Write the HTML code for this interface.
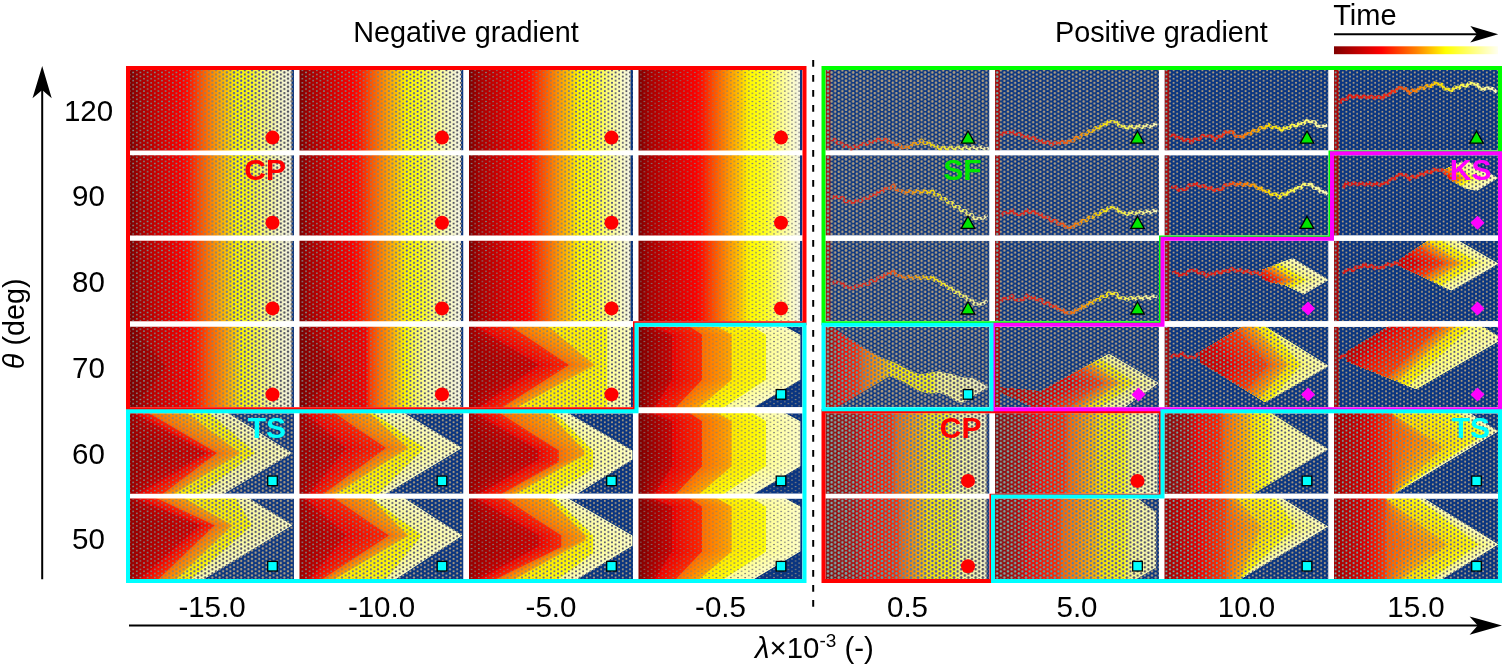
<!DOCTYPE html>
<html><head><meta charset="utf-8"><title>Negative and positive gradient</title>
<style>html,body{margin:0;padding:0;background:#fff;overflow:hidden}svg{display:block}</style>
</head><body>
<svg width="1505" height="667" viewBox="0 0 1505 667"><defs><clipPath id="cr1"><rect x="130.00" y="70.00" width="164.00" height="80.40"/></clipPath><linearGradient id="lg2" gradientUnits="userSpaceOnUse" x1="130.00" y1="0.00" x2="291.50" y2="0.00"><stop offset="0.0000" stop-color="#7d0000"/><stop offset="0.0619" stop-color="#a50000"/><stop offset="0.1981" stop-color="#d20000"/><stop offset="0.3220" stop-color="#fa0000"/><stop offset="0.3591" stop-color="#ff0f00"/><stop offset="0.4211" stop-color="#ff4600"/><stop offset="0.5201" stop-color="#ff9100"/><stop offset="0.5944" stop-color="#ffc300"/><stop offset="0.6563" stop-color="#fffa00"/><stop offset="0.7554" stop-color="#ffff1e"/><stop offset="0.8297" stop-color="#ffff78"/><stop offset="0.9164" stop-color="#fcfcc3"/><stop offset="1.0000" stop-color="#f5f5e4"/></linearGradient><clipPath id="cp3"><polygon points="128,68.0 291.5,68.0 291.5,152.4 128,152.4"/></clipPath><linearGradient id="lg4" gradientUnits="userSpaceOnUse" x1="130.00" y1="0.00" x2="291.50" y2="0.00"><stop offset="0.0000" stop-color="#000000"/><stop offset="0.3715" stop-color="#000000"/><stop offset="0.5201" stop-color="#6e6e6e"/><stop offset="0.5944" stop-color="#bebebe"/><stop offset="0.6563" stop-color="#ffffff"/><stop offset="1.0000" stop-color="#ffffff"/></linearGradient><linearGradient id="lg5" gradientUnits="userSpaceOnUse" x1="130.00" y1="0.00" x2="291.50" y2="0.00"><stop offset="0.0000" stop-color="#ffffff"/><stop offset="0.3715" stop-color="#ffffff"/><stop offset="0.5201" stop-color="#919191"/><stop offset="0.5944" stop-color="#414141"/><stop offset="0.6563" stop-color="#000000"/><stop offset="1.0000" stop-color="#000000"/></linearGradient><clipPath id="cr6"><rect x="299.50" y="70.00" width="164.00" height="80.40"/></clipPath><linearGradient id="lg7" gradientUnits="userSpaceOnUse" x1="299.50" y1="0.00" x2="461.00" y2="0.00"><stop offset="0.0000" stop-color="#7d0000"/><stop offset="0.0619" stop-color="#a50000"/><stop offset="0.1981" stop-color="#d20000"/><stop offset="0.3282" stop-color="#fa0000"/><stop offset="0.3653" stop-color="#ff0f00"/><stop offset="0.4272" stop-color="#ff4600"/><stop offset="0.5263" stop-color="#ff9100"/><stop offset="0.6006" stop-color="#ffc300"/><stop offset="0.6625" stop-color="#fffa00"/><stop offset="0.7616" stop-color="#ffff1e"/><stop offset="0.8359" stop-color="#ffff78"/><stop offset="0.9226" stop-color="#fcfcc3"/><stop offset="1.0000" stop-color="#f5f5e4"/></linearGradient><clipPath id="cp8"><polygon points="297.5,68.0 461,68.0 461,152.4 297.5,152.4"/></clipPath><linearGradient id="lg9" gradientUnits="userSpaceOnUse" x1="299.50" y1="0.00" x2="461.00" y2="0.00"><stop offset="0.0000" stop-color="#000000"/><stop offset="0.3777" stop-color="#000000"/><stop offset="0.5263" stop-color="#6e6e6e"/><stop offset="0.6006" stop-color="#bebebe"/><stop offset="0.6625" stop-color="#ffffff"/><stop offset="1.0000" stop-color="#ffffff"/></linearGradient><linearGradient id="lg10" gradientUnits="userSpaceOnUse" x1="299.50" y1="0.00" x2="461.00" y2="0.00"><stop offset="0.0000" stop-color="#ffffff"/><stop offset="0.3777" stop-color="#ffffff"/><stop offset="0.5263" stop-color="#919191"/><stop offset="0.6006" stop-color="#414141"/><stop offset="0.6625" stop-color="#000000"/><stop offset="1.0000" stop-color="#000000"/></linearGradient><clipPath id="cr11"><rect x="469.00" y="70.00" width="164.00" height="80.40"/></clipPath><linearGradient id="lg12" gradientUnits="userSpaceOnUse" x1="469.00" y1="0.00" x2="630.50" y2="0.00"><stop offset="0.0000" stop-color="#7d0000"/><stop offset="0.0619" stop-color="#a50000"/><stop offset="0.1981" stop-color="#d20000"/><stop offset="0.3467" stop-color="#fa0000"/><stop offset="0.3839" stop-color="#ff0f00"/><stop offset="0.4458" stop-color="#ff4600"/><stop offset="0.5449" stop-color="#ff9100"/><stop offset="0.6192" stop-color="#ffc300"/><stop offset="0.6811" stop-color="#fffa00"/><stop offset="0.7802" stop-color="#ffff1e"/><stop offset="0.8545" stop-color="#ffff78"/><stop offset="0.9412" stop-color="#fcfcc3"/><stop offset="1.0000" stop-color="#f5f5e4"/></linearGradient><clipPath id="cp13"><polygon points="467,68.0 630.5,68.0 630.5,152.4 467,152.4"/></clipPath><linearGradient id="lg14" gradientUnits="userSpaceOnUse" x1="469.00" y1="0.00" x2="630.50" y2="0.00"><stop offset="0.0000" stop-color="#000000"/><stop offset="0.3963" stop-color="#000000"/><stop offset="0.5449" stop-color="#6e6e6e"/><stop offset="0.6192" stop-color="#bebebe"/><stop offset="0.6811" stop-color="#ffffff"/><stop offset="1.0000" stop-color="#ffffff"/></linearGradient><linearGradient id="lg15" gradientUnits="userSpaceOnUse" x1="469.00" y1="0.00" x2="630.50" y2="0.00"><stop offset="0.0000" stop-color="#ffffff"/><stop offset="0.3963" stop-color="#ffffff"/><stop offset="0.5449" stop-color="#919191"/><stop offset="0.6192" stop-color="#414141"/><stop offset="0.6811" stop-color="#000000"/><stop offset="1.0000" stop-color="#000000"/></linearGradient><clipPath id="cr16"><rect x="638.50" y="70.00" width="164.00" height="80.40"/></clipPath><linearGradient id="lg17" gradientUnits="userSpaceOnUse" x1="638.50" y1="0.00" x2="800.00" y2="0.00"><stop offset="0.0000" stop-color="#7d0000"/><stop offset="0.0619" stop-color="#a50000"/><stop offset="0.1981" stop-color="#d20000"/><stop offset="0.3529" stop-color="#fa0000"/><stop offset="0.3901" stop-color="#ff0f00"/><stop offset="0.4520" stop-color="#ff4600"/><stop offset="0.5511" stop-color="#ff9100"/><stop offset="0.6254" stop-color="#ffc300"/><stop offset="0.6873" stop-color="#fffa00"/><stop offset="0.7864" stop-color="#ffff1e"/><stop offset="0.8607" stop-color="#ffff78"/><stop offset="0.9474" stop-color="#fcfcc3"/><stop offset="1.0000" stop-color="#f5f5e4"/></linearGradient><clipPath id="cp18"><polygon points="636.5,68.0 800,68.0 800,152.4 636.5,152.4"/></clipPath><linearGradient id="lg19" gradientUnits="userSpaceOnUse" x1="638.50" y1="0.00" x2="800.00" y2="0.00"><stop offset="0.0000" stop-color="#000000"/><stop offset="0.4025" stop-color="#000000"/><stop offset="0.5511" stop-color="#6e6e6e"/><stop offset="0.6254" stop-color="#bebebe"/><stop offset="0.6873" stop-color="#ffffff"/><stop offset="1.0000" stop-color="#ffffff"/></linearGradient><linearGradient id="lg20" gradientUnits="userSpaceOnUse" x1="638.50" y1="0.00" x2="800.00" y2="0.00"><stop offset="0.0000" stop-color="#ffffff"/><stop offset="0.4025" stop-color="#ffffff"/><stop offset="0.5511" stop-color="#919191"/><stop offset="0.6254" stop-color="#414141"/><stop offset="0.6873" stop-color="#000000"/><stop offset="1.0000" stop-color="#000000"/></linearGradient><clipPath id="cr21"><rect x="130.00" y="155.20" width="164.00" height="80.40"/></clipPath><linearGradient id="lg22" gradientUnits="userSpaceOnUse" x1="130.00" y1="0.00" x2="291.50" y2="0.00"><stop offset="0.0000" stop-color="#7d0000"/><stop offset="0.0619" stop-color="#a50000"/><stop offset="0.1981" stop-color="#d20000"/><stop offset="0.3220" stop-color="#fa0000"/><stop offset="0.3591" stop-color="#ff0f00"/><stop offset="0.4211" stop-color="#ff4600"/><stop offset="0.5201" stop-color="#ff9100"/><stop offset="0.5944" stop-color="#ffc300"/><stop offset="0.6563" stop-color="#fffa00"/><stop offset="0.7554" stop-color="#ffff1e"/><stop offset="0.8297" stop-color="#ffff78"/><stop offset="0.9164" stop-color="#fcfcc3"/><stop offset="1.0000" stop-color="#f5f5e4"/></linearGradient><clipPath id="cp23"><polygon points="128,153.2 291.5,153.2 291.5,237.6 128,237.6"/></clipPath><linearGradient id="lg24" gradientUnits="userSpaceOnUse" x1="130.00" y1="0.00" x2="291.50" y2="0.00"><stop offset="0.0000" stop-color="#000000"/><stop offset="0.3715" stop-color="#000000"/><stop offset="0.5201" stop-color="#6e6e6e"/><stop offset="0.5944" stop-color="#bebebe"/><stop offset="0.6563" stop-color="#ffffff"/><stop offset="1.0000" stop-color="#ffffff"/></linearGradient><linearGradient id="lg25" gradientUnits="userSpaceOnUse" x1="130.00" y1="0.00" x2="291.50" y2="0.00"><stop offset="0.0000" stop-color="#ffffff"/><stop offset="0.3715" stop-color="#ffffff"/><stop offset="0.5201" stop-color="#919191"/><stop offset="0.5944" stop-color="#414141"/><stop offset="0.6563" stop-color="#000000"/><stop offset="1.0000" stop-color="#000000"/></linearGradient><clipPath id="cr26"><rect x="299.50" y="155.20" width="164.00" height="80.40"/></clipPath><linearGradient id="lg27" gradientUnits="userSpaceOnUse" x1="299.50" y1="0.00" x2="461.00" y2="0.00"><stop offset="0.0000" stop-color="#7d0000"/><stop offset="0.0619" stop-color="#a50000"/><stop offset="0.1981" stop-color="#d20000"/><stop offset="0.3282" stop-color="#fa0000"/><stop offset="0.3653" stop-color="#ff0f00"/><stop offset="0.4272" stop-color="#ff4600"/><stop offset="0.5263" stop-color="#ff9100"/><stop offset="0.6006" stop-color="#ffc300"/><stop offset="0.6625" stop-color="#fffa00"/><stop offset="0.7616" stop-color="#ffff1e"/><stop offset="0.8359" stop-color="#ffff78"/><stop offset="0.9226" stop-color="#fcfcc3"/><stop offset="1.0000" stop-color="#f5f5e4"/></linearGradient><clipPath id="cp28"><polygon points="297.5,153.2 461,153.2 461,237.6 297.5,237.6"/></clipPath><linearGradient id="lg29" gradientUnits="userSpaceOnUse" x1="299.50" y1="0.00" x2="461.00" y2="0.00"><stop offset="0.0000" stop-color="#000000"/><stop offset="0.3777" stop-color="#000000"/><stop offset="0.5263" stop-color="#6e6e6e"/><stop offset="0.6006" stop-color="#bebebe"/><stop offset="0.6625" stop-color="#ffffff"/><stop offset="1.0000" stop-color="#ffffff"/></linearGradient><linearGradient id="lg30" gradientUnits="userSpaceOnUse" x1="299.50" y1="0.00" x2="461.00" y2="0.00"><stop offset="0.0000" stop-color="#ffffff"/><stop offset="0.3777" stop-color="#ffffff"/><stop offset="0.5263" stop-color="#919191"/><stop offset="0.6006" stop-color="#414141"/><stop offset="0.6625" stop-color="#000000"/><stop offset="1.0000" stop-color="#000000"/></linearGradient><clipPath id="cr31"><rect x="469.00" y="155.20" width="164.00" height="80.40"/></clipPath><linearGradient id="lg32" gradientUnits="userSpaceOnUse" x1="469.00" y1="0.00" x2="630.50" y2="0.00"><stop offset="0.0000" stop-color="#7d0000"/><stop offset="0.0619" stop-color="#a50000"/><stop offset="0.1981" stop-color="#d20000"/><stop offset="0.3467" stop-color="#fa0000"/><stop offset="0.3839" stop-color="#ff0f00"/><stop offset="0.4458" stop-color="#ff4600"/><stop offset="0.5449" stop-color="#ff9100"/><stop offset="0.6192" stop-color="#ffc300"/><stop offset="0.6811" stop-color="#fffa00"/><stop offset="0.7802" stop-color="#ffff1e"/><stop offset="0.8545" stop-color="#ffff78"/><stop offset="0.9412" stop-color="#fcfcc3"/><stop offset="1.0000" stop-color="#f5f5e4"/></linearGradient><clipPath id="cp33"><polygon points="467,153.2 630.5,153.2 630.5,237.6 467,237.6"/></clipPath><linearGradient id="lg34" gradientUnits="userSpaceOnUse" x1="469.00" y1="0.00" x2="630.50" y2="0.00"><stop offset="0.0000" stop-color="#000000"/><stop offset="0.3963" stop-color="#000000"/><stop offset="0.5449" stop-color="#6e6e6e"/><stop offset="0.6192" stop-color="#bebebe"/><stop offset="0.6811" stop-color="#ffffff"/><stop offset="1.0000" stop-color="#ffffff"/></linearGradient><linearGradient id="lg35" gradientUnits="userSpaceOnUse" x1="469.00" y1="0.00" x2="630.50" y2="0.00"><stop offset="0.0000" stop-color="#ffffff"/><stop offset="0.3963" stop-color="#ffffff"/><stop offset="0.5449" stop-color="#919191"/><stop offset="0.6192" stop-color="#414141"/><stop offset="0.6811" stop-color="#000000"/><stop offset="1.0000" stop-color="#000000"/></linearGradient><clipPath id="cr36"><rect x="638.50" y="155.20" width="164.00" height="80.40"/></clipPath><linearGradient id="lg37" gradientUnits="userSpaceOnUse" x1="638.50" y1="0.00" x2="800.00" y2="0.00"><stop offset="0.0000" stop-color="#7d0000"/><stop offset="0.0619" stop-color="#a50000"/><stop offset="0.1981" stop-color="#d20000"/><stop offset="0.3529" stop-color="#fa0000"/><stop offset="0.3901" stop-color="#ff0f00"/><stop offset="0.4520" stop-color="#ff4600"/><stop offset="0.5511" stop-color="#ff9100"/><stop offset="0.6254" stop-color="#ffc300"/><stop offset="0.6873" stop-color="#fffa00"/><stop offset="0.7864" stop-color="#ffff1e"/><stop offset="0.8607" stop-color="#ffff78"/><stop offset="0.9474" stop-color="#fcfcc3"/><stop offset="1.0000" stop-color="#f5f5e4"/></linearGradient><clipPath id="cp38"><polygon points="636.5,153.2 800,153.2 800,237.6 636.5,237.6"/></clipPath><linearGradient id="lg39" gradientUnits="userSpaceOnUse" x1="638.50" y1="0.00" x2="800.00" y2="0.00"><stop offset="0.0000" stop-color="#000000"/><stop offset="0.4025" stop-color="#000000"/><stop offset="0.5511" stop-color="#6e6e6e"/><stop offset="0.6254" stop-color="#bebebe"/><stop offset="0.6873" stop-color="#ffffff"/><stop offset="1.0000" stop-color="#ffffff"/></linearGradient><linearGradient id="lg40" gradientUnits="userSpaceOnUse" x1="638.50" y1="0.00" x2="800.00" y2="0.00"><stop offset="0.0000" stop-color="#ffffff"/><stop offset="0.4025" stop-color="#ffffff"/><stop offset="0.5511" stop-color="#919191"/><stop offset="0.6254" stop-color="#414141"/><stop offset="0.6873" stop-color="#000000"/><stop offset="1.0000" stop-color="#000000"/></linearGradient><clipPath id="cr41"><rect x="130.00" y="240.80" width="164.00" height="80.40"/></clipPath><linearGradient id="lg42" gradientUnits="userSpaceOnUse" x1="130.00" y1="0.00" x2="291.50" y2="0.00"><stop offset="0.0000" stop-color="#7d0000"/><stop offset="0.0619" stop-color="#a50000"/><stop offset="0.1981" stop-color="#d20000"/><stop offset="0.3220" stop-color="#fa0000"/><stop offset="0.3591" stop-color="#ff0f00"/><stop offset="0.4211" stop-color="#ff4600"/><stop offset="0.5201" stop-color="#ff9100"/><stop offset="0.5944" stop-color="#ffc300"/><stop offset="0.6563" stop-color="#fffa00"/><stop offset="0.7554" stop-color="#ffff1e"/><stop offset="0.8297" stop-color="#ffff78"/><stop offset="0.9164" stop-color="#fcfcc3"/><stop offset="1.0000" stop-color="#f5f5e4"/></linearGradient><clipPath id="cp43"><polygon points="128,238.8 291.5,238.8 291.5,323.2 128,323.2"/></clipPath><linearGradient id="lg44" gradientUnits="userSpaceOnUse" x1="130.00" y1="0.00" x2="291.50" y2="0.00"><stop offset="0.0000" stop-color="#000000"/><stop offset="0.3715" stop-color="#000000"/><stop offset="0.5201" stop-color="#6e6e6e"/><stop offset="0.5944" stop-color="#bebebe"/><stop offset="0.6563" stop-color="#ffffff"/><stop offset="1.0000" stop-color="#ffffff"/></linearGradient><linearGradient id="lg45" gradientUnits="userSpaceOnUse" x1="130.00" y1="0.00" x2="291.50" y2="0.00"><stop offset="0.0000" stop-color="#ffffff"/><stop offset="0.3715" stop-color="#ffffff"/><stop offset="0.5201" stop-color="#919191"/><stop offset="0.5944" stop-color="#414141"/><stop offset="0.6563" stop-color="#000000"/><stop offset="1.0000" stop-color="#000000"/></linearGradient><clipPath id="cr46"><rect x="299.50" y="240.80" width="164.00" height="80.40"/></clipPath><linearGradient id="lg47" gradientUnits="userSpaceOnUse" x1="299.50" y1="0.00" x2="461.00" y2="0.00"><stop offset="0.0000" stop-color="#7d0000"/><stop offset="0.0619" stop-color="#a50000"/><stop offset="0.1981" stop-color="#d20000"/><stop offset="0.3282" stop-color="#fa0000"/><stop offset="0.3653" stop-color="#ff0f00"/><stop offset="0.4272" stop-color="#ff4600"/><stop offset="0.5263" stop-color="#ff9100"/><stop offset="0.6006" stop-color="#ffc300"/><stop offset="0.6625" stop-color="#fffa00"/><stop offset="0.7616" stop-color="#ffff1e"/><stop offset="0.8359" stop-color="#ffff78"/><stop offset="0.9226" stop-color="#fcfcc3"/><stop offset="1.0000" stop-color="#f5f5e4"/></linearGradient><clipPath id="cp48"><polygon points="297.5,238.8 461,238.8 461,323.2 297.5,323.2"/></clipPath><linearGradient id="lg49" gradientUnits="userSpaceOnUse" x1="299.50" y1="0.00" x2="461.00" y2="0.00"><stop offset="0.0000" stop-color="#000000"/><stop offset="0.3777" stop-color="#000000"/><stop offset="0.5263" stop-color="#6e6e6e"/><stop offset="0.6006" stop-color="#bebebe"/><stop offset="0.6625" stop-color="#ffffff"/><stop offset="1.0000" stop-color="#ffffff"/></linearGradient><linearGradient id="lg50" gradientUnits="userSpaceOnUse" x1="299.50" y1="0.00" x2="461.00" y2="0.00"><stop offset="0.0000" stop-color="#ffffff"/><stop offset="0.3777" stop-color="#ffffff"/><stop offset="0.5263" stop-color="#919191"/><stop offset="0.6006" stop-color="#414141"/><stop offset="0.6625" stop-color="#000000"/><stop offset="1.0000" stop-color="#000000"/></linearGradient><clipPath id="cr51"><rect x="469.00" y="240.80" width="164.00" height="80.40"/></clipPath><linearGradient id="lg52" gradientUnits="userSpaceOnUse" x1="469.00" y1="0.00" x2="630.50" y2="0.00"><stop offset="0.0000" stop-color="#7d0000"/><stop offset="0.0619" stop-color="#a50000"/><stop offset="0.1981" stop-color="#d20000"/><stop offset="0.3467" stop-color="#fa0000"/><stop offset="0.3839" stop-color="#ff0f00"/><stop offset="0.4458" stop-color="#ff4600"/><stop offset="0.5449" stop-color="#ff9100"/><stop offset="0.6192" stop-color="#ffc300"/><stop offset="0.6811" stop-color="#fffa00"/><stop offset="0.7802" stop-color="#ffff1e"/><stop offset="0.8545" stop-color="#ffff78"/><stop offset="0.9412" stop-color="#fcfcc3"/><stop offset="1.0000" stop-color="#f5f5e4"/></linearGradient><clipPath id="cp53"><polygon points="467,238.8 630.5,238.8 630.5,323.2 467,323.2"/></clipPath><linearGradient id="lg54" gradientUnits="userSpaceOnUse" x1="469.00" y1="0.00" x2="630.50" y2="0.00"><stop offset="0.0000" stop-color="#000000"/><stop offset="0.3963" stop-color="#000000"/><stop offset="0.5449" stop-color="#6e6e6e"/><stop offset="0.6192" stop-color="#bebebe"/><stop offset="0.6811" stop-color="#ffffff"/><stop offset="1.0000" stop-color="#ffffff"/></linearGradient><linearGradient id="lg55" gradientUnits="userSpaceOnUse" x1="469.00" y1="0.00" x2="630.50" y2="0.00"><stop offset="0.0000" stop-color="#ffffff"/><stop offset="0.3963" stop-color="#ffffff"/><stop offset="0.5449" stop-color="#919191"/><stop offset="0.6192" stop-color="#414141"/><stop offset="0.6811" stop-color="#000000"/><stop offset="1.0000" stop-color="#000000"/></linearGradient><clipPath id="cr56"><rect x="638.50" y="240.80" width="164.00" height="80.40"/></clipPath><linearGradient id="lg57" gradientUnits="userSpaceOnUse" x1="638.50" y1="0.00" x2="800.00" y2="0.00"><stop offset="0.0000" stop-color="#7d0000"/><stop offset="0.0619" stop-color="#a50000"/><stop offset="0.1981" stop-color="#d20000"/><stop offset="0.3529" stop-color="#fa0000"/><stop offset="0.3901" stop-color="#ff0f00"/><stop offset="0.4520" stop-color="#ff4600"/><stop offset="0.5511" stop-color="#ff9100"/><stop offset="0.6254" stop-color="#ffc300"/><stop offset="0.6873" stop-color="#fffa00"/><stop offset="0.7864" stop-color="#ffff1e"/><stop offset="0.8607" stop-color="#ffff78"/><stop offset="0.9474" stop-color="#fcfcc3"/><stop offset="1.0000" stop-color="#f5f5e4"/></linearGradient><clipPath id="cp58"><polygon points="636.5,238.8 800,238.8 800,323.2 636.5,323.2"/></clipPath><linearGradient id="lg59" gradientUnits="userSpaceOnUse" x1="638.50" y1="0.00" x2="800.00" y2="0.00"><stop offset="0.0000" stop-color="#000000"/><stop offset="0.4025" stop-color="#000000"/><stop offset="0.5511" stop-color="#6e6e6e"/><stop offset="0.6254" stop-color="#bebebe"/><stop offset="0.6873" stop-color="#ffffff"/><stop offset="1.0000" stop-color="#ffffff"/></linearGradient><linearGradient id="lg60" gradientUnits="userSpaceOnUse" x1="638.50" y1="0.00" x2="800.00" y2="0.00"><stop offset="0.0000" stop-color="#ffffff"/><stop offset="0.4025" stop-color="#ffffff"/><stop offset="0.5511" stop-color="#919191"/><stop offset="0.6254" stop-color="#414141"/><stop offset="0.6873" stop-color="#000000"/><stop offset="1.0000" stop-color="#000000"/></linearGradient><clipPath id="cr61"><rect x="130.00" y="326.80" width="164.00" height="80.40"/></clipPath><linearGradient id="lg62" gradientUnits="userSpaceOnUse" x1="130.00" y1="0.00" x2="291.50" y2="0.00"><stop offset="0.0000" stop-color="#7d0000"/><stop offset="0.0743" stop-color="#a50000"/><stop offset="0.2353" stop-color="#d70000"/><stop offset="0.3715" stop-color="#fa0000"/><stop offset="0.4211" stop-color="#ff1e00"/><stop offset="0.4830" stop-color="#ff5500"/><stop offset="0.5820" stop-color="#ff9600"/><stop offset="0.6440" stop-color="#ffc800"/><stop offset="0.6935" stop-color="#fffa00"/><stop offset="0.7802" stop-color="#ffff3c"/><stop offset="0.8545" stop-color="#ffff96"/><stop offset="0.9288" stop-color="#fcfcc8"/><stop offset="1.0000" stop-color="#f6f6e1"/></linearGradient><clipPath id="cp63"><polygon points="128,324.8 291.5,324.8 291.5,409.2 128,409.2"/></clipPath><linearGradient id="lg64" gradientUnits="userSpaceOnUse" x1="130.00" y1="0.00" x2="291.50" y2="0.00"><stop offset="0.0000" stop-color="#000000"/><stop offset="0.4334" stop-color="#000000"/><stop offset="0.5820" stop-color="#6e6e6e"/><stop offset="0.6440" stop-color="#c8c8c8"/><stop offset="0.6935" stop-color="#ffffff"/><stop offset="1.0000" stop-color="#ffffff"/></linearGradient><linearGradient id="lg65" gradientUnits="userSpaceOnUse" x1="130.00" y1="0.00" x2="291.50" y2="0.00"><stop offset="0.0000" stop-color="#ffffff"/><stop offset="0.4334" stop-color="#ffffff"/><stop offset="0.5820" stop-color="#919191"/><stop offset="0.6440" stop-color="#373737"/><stop offset="0.6935" stop-color="#000000"/><stop offset="1.0000" stop-color="#000000"/></linearGradient><clipPath id="cr66"><rect x="299.50" y="326.80" width="164.00" height="80.40"/></clipPath><linearGradient id="lg67" gradientUnits="userSpaceOnUse" x1="299.50" y1="0.00" x2="461.00" y2="0.00"><stop offset="0.0000" stop-color="#7d0000"/><stop offset="0.0743" stop-color="#a50000"/><stop offset="0.2477" stop-color="#cd0000"/><stop offset="0.4087" stop-color="#f20000"/><stop offset="0.4334" stop-color="#ff3200"/><stop offset="0.4954" stop-color="#ff6e00"/><stop offset="0.5697" stop-color="#ffa500"/><stop offset="0.6192" stop-color="#ffd700"/><stop offset="0.6563" stop-color="#fffc00"/><stop offset="0.7183" stop-color="#ffff5a"/><stop offset="0.7926" stop-color="#ffffaa"/><stop offset="1.0000" stop-color="#f6f6e1"/></linearGradient><clipPath id="cp68"><polygon points="297.5,324.8 461,324.8 461,409.2 297.5,409.2"/></clipPath><linearGradient id="lg69" gradientUnits="userSpaceOnUse" x1="299.50" y1="0.00" x2="461.00" y2="0.00"><stop offset="0.0000" stop-color="#000000"/><stop offset="0.4458" stop-color="#000000"/><stop offset="0.5697" stop-color="#6e6e6e"/><stop offset="0.6192" stop-color="#c8c8c8"/><stop offset="0.6563" stop-color="#ffffff"/><stop offset="1.0000" stop-color="#ffffff"/></linearGradient><linearGradient id="lg70" gradientUnits="userSpaceOnUse" x1="299.50" y1="0.00" x2="461.00" y2="0.00"><stop offset="0.0000" stop-color="#ffffff"/><stop offset="0.4458" stop-color="#ffffff"/><stop offset="0.5697" stop-color="#919191"/><stop offset="0.6192" stop-color="#373737"/><stop offset="0.6563" stop-color="#000000"/><stop offset="1.0000" stop-color="#000000"/></linearGradient><clipPath id="cr71"><rect x="469.00" y="326.80" width="164.00" height="80.40"/></clipPath><polygon id="q72" points="69,323.8 631,323.8 631,365.0 631,365.0 631,410.2 69,410.2"/><polygon id="q73" points="69,323.8 627.6,323.8 627.6,365.0 627.6,365.0 627.6,410.2 69,410.2"/><polygon id="q74" points="69,323.8 624.2,323.8 624.2,365.0 624.2,365.0 624.2,410.2 69,410.2"/><polygon id="q75" points="69,323.8 620.8,323.8 620.8,365.0 620.8,365.0 620.8,410.2 69,410.2"/><polygon id="q76" points="69,323.8 617.4,323.8 617.4,365.0 617.4,365.0 617.4,410.2 69,410.2"/><polygon id="q77" points="69,323.8 614,323.8 614,365.0 614,365.0 614,410.2 69,410.2"/><polygon id="q78" points="69,323.8 610.6,323.8 610.6,365.0 610.6,365.0 610.6,410.2 69,410.2"/><polygon id="q79" points="69,323.8 607.2,323.8 607.2,365.0 607.2,365.0 607.2,410.2 69,410.2"/><polygon id="q80" points="69,323.8 598.3,323.8 605.4,365.0 605.4,365.0 593.7,410.2 69,410.2"/><polygon id="q81" points="69,323.8 589.4,323.8 603.5,365.0 603.5,365.0 580.2,410.2 69,410.2"/><polygon id="q82" points="69,323.8 580.5,323.8 601.7,365.0 601.7,365.0 566.6,410.2 69,410.2"/><polygon id="q83" points="69,323.8 571.7,323.8 599.9,365.0 599.9,365.0 553.1,410.2 69,410.2"/><polygon id="q84" points="69,323.8 562.8,323.8 598.1,365.0 598.1,365.0 539.6,410.2 69,410.2"/><polygon id="q85" points="69,323.8 553.9,323.8 596.2,365.0 596.2,365.0 526.1,410.2 69,410.2"/><polygon id="q86" points="69,323.8 545,323.8 594.4,365.0 594.4,365.0 512.6,410.2 69,410.2"/><polygon id="q87" points="69,323.8 539.6,323.8 590.8,365.0 590.8,365.0 510.5,410.2 69,410.2"/><polygon id="q88" points="69,323.8 534.2,323.8 587.1,365.0 587.1,365.0 508.4,410.2 69,410.2"/><polygon id="q89" points="69,323.8 528.8,323.8 583.5,365.0 583.5,365.0 506.3,410.2 69,410.2"/><polygon id="q90" points="69,323.8 523.3,323.8 579.9,365.0 579.9,365.0 504.2,410.2 69,410.2"/><polygon id="q91" points="69,323.8 517.9,323.8 576.3,365.0 576.3,365.0 502.2,410.2 69,410.2"/><polygon id="q92" points="69,323.8 512.5,323.8 572.6,365.0 572.6,365.0 500.1,410.2 69,410.2"/><polygon id="q93" points="69,323.8 507.1,323.8 569,365.0 569,365.0 498,410.2 69,410.2"/><polygon id="q94" points="69,323.8 502.1,323.8 564.6,365.0 564.6,365.0 494.8,410.2 69,410.2"/><polygon id="q95" points="69,323.8 497.2,323.8 560.3,365.0 560.3,365.0 491.6,410.2 69,410.2"/><polygon id="q96" points="69,323.8 492.2,323.8 555.9,365.0 555.9,365.0 488.4,410.2 69,410.2"/><polygon id="q97" points="69,323.8 487.3,323.8 551.5,365.0 551.5,365.0 485.2,410.2 69,410.2"/><polygon id="q98" points="69,323.8 482.3,323.8 547.1,365.0 547.1,365.0 481.9,410.2 69,410.2"/><polygon id="q99" points="69,323.8 477.4,323.8 542.8,365.0 542.8,365.0 478.7,410.2 69,410.2"/><polygon id="q100" points="69,323.8 472.4,323.8 538.4,365.0 538.4,365.0 475.5,410.2 69,410.2"/><polygon id="q101" points="69,323.8 471.8,323.8 528.4,365.0 528.4,365.0 474.5,410.2 69,410.2"/><polygon id="q102" points="69,323.8 471.3,323.8 518.4,365.0 518.4,365.0 473.5,410.2 69,410.2"/><polygon id="q103" points="69,323.8 470.7,323.8 508.4,365.0 508.4,365.0 472.5,410.2 69,410.2"/><polygon id="q104" points="69,323.8 470.2,323.8 498.5,365.0 498.5,365.0 471.5,410.2 69,410.2"/><polygon id="q105" points="69,323.8 469.6,323.8 488.5,365.0 488.5,365.0 470.5,410.2 69,410.2"/><polygon id="q106" points="69,323.8 469.1,323.8 478.5,365.0 478.5,365.0 469.5,410.2 69,410.2"/><clipPath id="cp107"><polygon points="69,323.8 631,323.8 631,365.0 631,365.0 631,410.2 69,410.2"/></clipPath><clipPath id="cr108"><rect x="638.50" y="326.80" width="164.00" height="80.40"/></clipPath><polygon id="q109" points="238.5,323.8 780.5,323.8 800.6,334.8 800.6,379.8 749.5,410.2 238.5,410.2"/><polygon id="q110" points="238.5,323.8 775.9,323.8 795.7,334.8 795.7,379.8 745.2,410.2 238.5,410.2"/><polygon id="q111" points="238.5,323.8 771.3,323.8 790.7,334.8 790.7,379.8 740.9,410.2 238.5,410.2"/><polygon id="q112" points="238.5,323.8 766.6,323.8 785.8,334.8 785.8,379.8 736.6,410.2 238.5,410.2"/><polygon id="q113" points="238.5,323.8 762,323.8 780.8,334.8 780.8,379.8 732.3,410.2 238.5,410.2"/><polygon id="q114" points="238.5,323.8 757.4,323.8 775.9,334.8 775.9,379.8 728,410.2 238.5,410.2"/><polygon id="q115" points="238.5,323.8 752.8,323.8 770.9,334.8 770.9,379.8 723.7,410.2 238.5,410.2"/><polygon id="q116" points="238.5,323.8 748.1,323.8 766,334.8 766,379.8 719.4,410.2 238.5,410.2"/><polygon id="q117" points="238.5,323.8 743,323.8 761.1,334.8 761.1,379.8 716.1,410.2 238.5,410.2"/><polygon id="q118" points="238.5,323.8 737.9,323.8 756.2,334.8 756.2,379.8 712.8,410.2 238.5,410.2"/><polygon id="q119" points="238.5,323.8 732.8,323.8 751.3,334.8 751.3,379.8 709.5,410.2 238.5,410.2"/><polygon id="q120" points="238.5,323.8 727.7,323.8 746.3,334.8 746.3,379.8 706.1,410.2 238.5,410.2"/><polygon id="q121" points="238.5,323.8 722.6,323.8 741.4,334.8 741.4,379.8 702.8,410.2 238.5,410.2"/><polygon id="q122" points="238.5,323.8 717.5,323.8 736.5,334.8 736.5,379.8 699.5,410.2 238.5,410.2"/><polygon id="q123" points="238.5,323.8 712.4,323.8 731.6,334.8 731.6,379.8 696.2,410.2 238.5,410.2"/><polygon id="q124" points="238.5,323.8 708.5,323.8 727.4,334.8 727.4,379.8 692.9,410.2 238.5,410.2"/><polygon id="q125" points="238.5,323.8 704.7,323.8 723.1,334.8 723.1,379.8 689.6,410.2 238.5,410.2"/><polygon id="q126" points="238.5,323.8 700.8,323.8 718.9,334.8 718.9,379.8 686.3,410.2 238.5,410.2"/><polygon id="q127" points="238.5,323.8 697,323.8 714.7,334.8 714.7,379.8 683,410.2 238.5,410.2"/><polygon id="q128" points="238.5,323.8 693.2,323.8 710.5,334.8 710.5,379.8 679.7,410.2 238.5,410.2"/><polygon id="q129" points="238.5,323.8 689.3,323.8 706.2,334.8 706.2,379.8 676.4,410.2 238.5,410.2"/><polygon id="q130" points="238.5,323.8 685.5,323.8 702,334.8 702,379.8 673.2,410.2 238.5,410.2"/><polygon id="q131" points="238.5,323.8 679.8,323.8 697.7,334.8 697.7,379.8 670.3,410.2 238.5,410.2"/><polygon id="q132" points="238.5,323.8 674.2,323.8 693.4,334.8 693.4,379.8 667.4,410.2 238.5,410.2"/><polygon id="q133" points="238.5,323.8 668.5,323.8 689.1,334.8 689.1,379.8 664.6,410.2 238.5,410.2"/><polygon id="q134" points="238.5,323.8 662.9,323.8 684.9,334.8 684.9,379.8 661.7,410.2 238.5,410.2"/><polygon id="q135" points="238.5,323.8 657.2,323.8 680.6,334.8 680.6,379.8 658.9,410.2 238.5,410.2"/><polygon id="q136" points="238.5,323.8 651.5,323.8 676.3,334.8 676.3,379.8 656,410.2 238.5,410.2"/><polygon id="q137" points="238.5,323.8 645.9,323.8 672,334.8 672,379.8 653.1,410.2 238.5,410.2"/><polygon id="q138" points="238.5,323.8 644.8,323.8 667.1,334.8 667.1,379.8 651,410.2 238.5,410.2"/><polygon id="q139" points="238.5,323.8 643.6,323.8 662.3,334.8 662.3,379.8 648.8,410.2 238.5,410.2"/><polygon id="q140" points="238.5,323.8 642.5,323.8 657.4,334.8 657.4,379.8 646.7,410.2 238.5,410.2"/><polygon id="q141" points="238.5,323.8 641.4,323.8 652.6,334.8 652.6,379.8 644.5,410.2 238.5,410.2"/><polygon id="q142" points="238.5,323.8 640.3,323.8 647.7,334.8 647.7,379.8 642.3,410.2 238.5,410.2"/><polygon id="q143" points="238.5,323.8 639.1,323.8 642.9,334.8 642.9,379.8 640.2,410.2 238.5,410.2"/><clipPath id="cp144"><polygon points="238.5,323.8 780.5,323.8 800.6,334.8 800.6,379.8 749.5,410.2 238.5,410.2"/></clipPath><clipPath id="cr145"><rect x="638.50" y="413.30" width="164.00" height="80.40"/></clipPath><polygon id="q146" points="238.5,410.3 780.5,410.3 800.6,421.3 800.6,466.3 749.5,496.7 238.5,496.7"/><polygon id="q147" points="238.5,410.3 775.9,410.3 795.7,421.3 795.7,466.3 745.2,496.7 238.5,496.7"/><polygon id="q148" points="238.5,410.3 771.3,410.3 790.7,421.3 790.7,466.3 740.9,496.7 238.5,496.7"/><polygon id="q149" points="238.5,410.3 766.6,410.3 785.8,421.3 785.8,466.3 736.6,496.7 238.5,496.7"/><polygon id="q150" points="238.5,410.3 762,410.3 780.8,421.3 780.8,466.3 732.3,496.7 238.5,496.7"/><polygon id="q151" points="238.5,410.3 757.4,410.3 775.9,421.3 775.9,466.3 728,496.7 238.5,496.7"/><polygon id="q152" points="238.5,410.3 752.8,410.3 770.9,421.3 770.9,466.3 723.7,496.7 238.5,496.7"/><polygon id="q153" points="238.5,410.3 748.1,410.3 766,421.3 766,466.3 719.4,496.7 238.5,496.7"/><polygon id="q154" points="238.5,410.3 743,410.3 761.1,421.3 761.1,466.3 716.1,496.7 238.5,496.7"/><polygon id="q155" points="238.5,410.3 737.9,410.3 756.2,421.3 756.2,466.3 712.8,496.7 238.5,496.7"/><polygon id="q156" points="238.5,410.3 732.8,410.3 751.3,421.3 751.3,466.3 709.5,496.7 238.5,496.7"/><polygon id="q157" points="238.5,410.3 727.7,410.3 746.3,421.3 746.3,466.3 706.1,496.7 238.5,496.7"/><polygon id="q158" points="238.5,410.3 722.6,410.3 741.4,421.3 741.4,466.3 702.8,496.7 238.5,496.7"/><polygon id="q159" points="238.5,410.3 717.5,410.3 736.5,421.3 736.5,466.3 699.5,496.7 238.5,496.7"/><polygon id="q160" points="238.5,410.3 712.4,410.3 731.6,421.3 731.6,466.3 696.2,496.7 238.5,496.7"/><polygon id="q161" points="238.5,410.3 708.5,410.3 727.4,421.3 727.4,466.3 692.9,496.7 238.5,496.7"/><polygon id="q162" points="238.5,410.3 704.7,410.3 723.1,421.3 723.1,466.3 689.6,496.7 238.5,496.7"/><polygon id="q163" points="238.5,410.3 700.8,410.3 718.9,421.3 718.9,466.3 686.3,496.7 238.5,496.7"/><polygon id="q164" points="238.5,410.3 697,410.3 714.7,421.3 714.7,466.3 683,496.7 238.5,496.7"/><polygon id="q165" points="238.5,410.3 693.2,410.3 710.5,421.3 710.5,466.3 679.7,496.7 238.5,496.7"/><polygon id="q166" points="238.5,410.3 689.3,410.3 706.2,421.3 706.2,466.3 676.4,496.7 238.5,496.7"/><polygon id="q167" points="238.5,410.3 685.5,410.3 702,421.3 702,466.3 673.2,496.7 238.5,496.7"/><polygon id="q168" points="238.5,410.3 679.8,410.3 697.7,421.3 697.7,466.3 670.3,496.7 238.5,496.7"/><polygon id="q169" points="238.5,410.3 674.2,410.3 693.4,421.3 693.4,466.3 667.4,496.7 238.5,496.7"/><polygon id="q170" points="238.5,410.3 668.5,410.3 689.1,421.3 689.1,466.3 664.6,496.7 238.5,496.7"/><polygon id="q171" points="238.5,410.3 662.9,410.3 684.9,421.3 684.9,466.3 661.7,496.7 238.5,496.7"/><polygon id="q172" points="238.5,410.3 657.2,410.3 680.6,421.3 680.6,466.3 658.9,496.7 238.5,496.7"/><polygon id="q173" points="238.5,410.3 651.5,410.3 676.3,421.3 676.3,466.3 656,496.7 238.5,496.7"/><polygon id="q174" points="238.5,410.3 645.9,410.3 672,421.3 672,466.3 653.1,496.7 238.5,496.7"/><polygon id="q175" points="238.5,410.3 644.8,410.3 667.1,421.3 667.1,466.3 651,496.7 238.5,496.7"/><polygon id="q176" points="238.5,410.3 643.6,410.3 662.3,421.3 662.3,466.3 648.8,496.7 238.5,496.7"/><polygon id="q177" points="238.5,410.3 642.5,410.3 657.4,421.3 657.4,466.3 646.7,496.7 238.5,496.7"/><polygon id="q178" points="238.5,410.3 641.4,410.3 652.6,421.3 652.6,466.3 644.5,496.7 238.5,496.7"/><polygon id="q179" points="238.5,410.3 640.3,410.3 647.7,421.3 647.7,466.3 642.3,496.7 238.5,496.7"/><polygon id="q180" points="238.5,410.3 639.1,410.3 642.9,421.3 642.9,466.3 640.2,496.7 238.5,496.7"/><clipPath id="cp181"><polygon points="238.5,410.3 780.5,410.3 800.6,421.3 800.6,466.3 749.5,496.7 238.5,496.7"/></clipPath><clipPath id="cr182"><rect x="638.50" y="498.60" width="164.00" height="80.40"/></clipPath><polygon id="q183" points="238.5,495.6 780.5,495.6 800.6,506.6 800.6,551.6 749.5,582.0 238.5,582.0"/><polygon id="q184" points="238.5,495.6 775.9,495.6 795.7,506.6 795.7,551.6 745.2,582.0 238.5,582.0"/><polygon id="q185" points="238.5,495.6 771.3,495.6 790.7,506.6 790.7,551.6 740.9,582.0 238.5,582.0"/><polygon id="q186" points="238.5,495.6 766.6,495.6 785.8,506.6 785.8,551.6 736.6,582.0 238.5,582.0"/><polygon id="q187" points="238.5,495.6 762,495.6 780.8,506.6 780.8,551.6 732.3,582.0 238.5,582.0"/><polygon id="q188" points="238.5,495.6 757.4,495.6 775.9,506.6 775.9,551.6 728,582.0 238.5,582.0"/><polygon id="q189" points="238.5,495.6 752.8,495.6 770.9,506.6 770.9,551.6 723.7,582.0 238.5,582.0"/><polygon id="q190" points="238.5,495.6 748.1,495.6 766,506.6 766,551.6 719.4,582.0 238.5,582.0"/><polygon id="q191" points="238.5,495.6 743,495.6 761.1,506.6 761.1,551.6 716.1,582.0 238.5,582.0"/><polygon id="q192" points="238.5,495.6 737.9,495.6 756.2,506.6 756.2,551.6 712.8,582.0 238.5,582.0"/><polygon id="q193" points="238.5,495.6 732.8,495.6 751.3,506.6 751.3,551.6 709.5,582.0 238.5,582.0"/><polygon id="q194" points="238.5,495.6 727.7,495.6 746.3,506.6 746.3,551.6 706.1,582.0 238.5,582.0"/><polygon id="q195" points="238.5,495.6 722.6,495.6 741.4,506.6 741.4,551.6 702.8,582.0 238.5,582.0"/><polygon id="q196" points="238.5,495.6 717.5,495.6 736.5,506.6 736.5,551.6 699.5,582.0 238.5,582.0"/><polygon id="q197" points="238.5,495.6 712.4,495.6 731.6,506.6 731.6,551.6 696.2,582.0 238.5,582.0"/><polygon id="q198" points="238.5,495.6 708.5,495.6 727.4,506.6 727.4,551.6 692.9,582.0 238.5,582.0"/><polygon id="q199" points="238.5,495.6 704.7,495.6 723.1,506.6 723.1,551.6 689.6,582.0 238.5,582.0"/><polygon id="q200" points="238.5,495.6 700.8,495.6 718.9,506.6 718.9,551.6 686.3,582.0 238.5,582.0"/><polygon id="q201" points="238.5,495.6 697,495.6 714.7,506.6 714.7,551.6 683,582.0 238.5,582.0"/><polygon id="q202" points="238.5,495.6 693.2,495.6 710.5,506.6 710.5,551.6 679.7,582.0 238.5,582.0"/><polygon id="q203" points="238.5,495.6 689.3,495.6 706.2,506.6 706.2,551.6 676.4,582.0 238.5,582.0"/><polygon id="q204" points="238.5,495.6 685.5,495.6 702,506.6 702,551.6 673.2,582.0 238.5,582.0"/><polygon id="q205" points="238.5,495.6 679.8,495.6 697.7,506.6 697.7,551.6 670.3,582.0 238.5,582.0"/><polygon id="q206" points="238.5,495.6 674.2,495.6 693.4,506.6 693.4,551.6 667.4,582.0 238.5,582.0"/><polygon id="q207" points="238.5,495.6 668.5,495.6 689.1,506.6 689.1,551.6 664.6,582.0 238.5,582.0"/><polygon id="q208" points="238.5,495.6 662.9,495.6 684.9,506.6 684.9,551.6 661.7,582.0 238.5,582.0"/><polygon id="q209" points="238.5,495.6 657.2,495.6 680.6,506.6 680.6,551.6 658.9,582.0 238.5,582.0"/><polygon id="q210" points="238.5,495.6 651.5,495.6 676.3,506.6 676.3,551.6 656,582.0 238.5,582.0"/><polygon id="q211" points="238.5,495.6 645.9,495.6 672,506.6 672,551.6 653.1,582.0 238.5,582.0"/><polygon id="q212" points="238.5,495.6 644.8,495.6 667.1,506.6 667.1,551.6 651,582.0 238.5,582.0"/><polygon id="q213" points="238.5,495.6 643.6,495.6 662.3,506.6 662.3,551.6 648.8,582.0 238.5,582.0"/><polygon id="q214" points="238.5,495.6 642.5,495.6 657.4,506.6 657.4,551.6 646.7,582.0 238.5,582.0"/><polygon id="q215" points="238.5,495.6 641.4,495.6 652.6,506.6 652.6,551.6 644.5,582.0 238.5,582.0"/><polygon id="q216" points="238.5,495.6 640.3,495.6 647.7,506.6 647.7,551.6 642.3,582.0 238.5,582.0"/><polygon id="q217" points="238.5,495.6 639.1,495.6 642.9,506.6 642.9,551.6 640.2,582.0 238.5,582.0"/><clipPath id="cp218"><polygon points="238.5,495.6 780.5,495.6 800.6,506.6 800.6,551.6 749.5,582.0 238.5,582.0"/></clipPath><clipPath id="cr219"><rect x="130.00" y="413.30" width="164.00" height="80.40"/></clipPath><polygon id="q220" points="-270,410.3 223.7,410.3 292.6,453.0 292.6,453.0 219.5,496.7 -270,496.7"/><polygon id="q221" points="-270,410.3 221.3,410.3 287.3,453.0 287.3,453.0 216.3,496.7 -270,496.7"/><polygon id="q222" points="-270,410.3 218.9,410.3 282,453.0 282,453.0 213.1,496.7 -270,496.7"/><polygon id="q223" points="-270,410.3 216.5,410.3 276.7,453.0 276.7,453.0 209.8,496.7 -270,496.7"/><polygon id="q224" points="-270,410.3 214.1,410.3 271.3,453.0 271.3,453.0 206.6,496.7 -270,496.7"/><polygon id="q225" points="-270,410.3 211.8,410.3 266,453.0 266,453.0 203.4,496.7 -270,496.7"/><polygon id="q226" points="-270,410.3 209.4,410.3 260.7,453.0 260.7,453.0 200.2,496.7 -270,496.7"/><polygon id="q227" points="-270,410.3 207,410.3 255.4,453.0 255.4,453.0 197,496.7 -270,496.7"/><polygon id="q228" points="-270,410.3 203.6,410.3 253.2,453.0 253.2,453.0 193.2,496.7 -270,496.7"/><polygon id="q229" points="-270,410.3 200.3,410.3 251,453.0 251,453.0 189.3,496.7 -270,496.7"/><polygon id="q230" points="-270,410.3 196.9,410.3 248.8,453.0 248.8,453.0 185.5,496.7 -270,496.7"/><polygon id="q231" points="-270,410.3 193.6,410.3 246.6,453.0 246.6,453.0 181.7,496.7 -270,496.7"/><polygon id="q232" points="-270,410.3 190.2,410.3 244.4,453.0 244.4,453.0 177.9,496.7 -270,496.7"/><polygon id="q233" points="-270,410.3 186.9,410.3 242.2,453.0 242.2,453.0 174,496.7 -270,496.7"/><polygon id="q234" points="-270,410.3 183.5,410.3 240,453.0 240,453.0 170.2,496.7 -270,496.7"/><polygon id="q235" points="-270,410.3 177.9,410.3 236.7,453.0 236.7,453.0 168.6,496.7 -270,496.7"/><polygon id="q236" points="-270,410.3 172.4,410.3 233.4,453.0 233.4,453.0 167,496.7 -270,496.7"/><polygon id="q237" points="-270,410.3 166.8,410.3 230.1,453.0 230.1,453.0 165.4,496.7 -270,496.7"/><polygon id="q238" points="-270,410.3 161.2,410.3 226.9,453.0 226.9,453.0 163.8,496.7 -270,496.7"/><polygon id="q239" points="-270,410.3 155.6,410.3 223.6,453.0 223.6,453.0 162.2,496.7 -270,496.7"/><polygon id="q240" points="-270,410.3 150,410.3 220.3,453.0 220.3,453.0 160.6,496.7 -270,496.7"/><polygon id="q241" points="-270,410.3 144.4,410.3 217,453.0 217,453.0 159,496.7 -270,496.7"/><polygon id="q242" points="-270,410.3 142.4,410.3 215.4,453.0 215.4,453.0 155.5,496.7 -270,496.7"/><polygon id="q243" points="-270,410.3 140.3,410.3 213.9,453.0 213.9,453.0 151.9,496.7 -270,496.7"/><polygon id="q244" points="-270,410.3 138.3,410.3 212.3,453.0 212.3,453.0 148.3,496.7 -270,496.7"/><polygon id="q245" points="-270,410.3 136.3,410.3 210.7,453.0 210.7,453.0 144.8,496.7 -270,496.7"/><polygon id="q246" points="-270,410.3 134.2,410.3 209.1,453.0 209.1,453.0 141.2,496.7 -270,496.7"/><polygon id="q247" points="-270,410.3 132.2,410.3 207.6,453.0 207.6,453.0 137.6,496.7 -270,496.7"/><polygon id="q248" points="-270,410.3 130.2,410.3 206,453.0 206,453.0 134.1,496.7 -270,496.7"/><polygon id="q249" points="-270,410.3 130.1,410.3 195.1,453.0 195.1,453.0 133.4,496.7 -270,496.7"/><polygon id="q250" points="-270,410.3 130,410.3 184.1,453.0 184.1,453.0 132.8,496.7 -270,496.7"/><polygon id="q251" points="-270,410.3 129.9,410.3 173.2,453.0 173.2,453.0 132.1,496.7 -270,496.7"/><polygon id="q252" points="-270,410.3 129.8,410.3 162.3,453.0 162.3,453.0 131.5,496.7 -270,496.7"/><polygon id="q253" points="-270,410.3 129.7,410.3 151.4,453.0 151.4,453.0 130.8,496.7 -270,496.7"/><polygon id="q254" points="-270,410.3 129.6,410.3 140.4,453.0 140.4,453.0 130.2,496.7 -270,496.7"/><clipPath id="cp255"><polygon points="-270,410.3 223.7,410.3 292.6,453.0 292.6,453.0 219.5,496.7 -270,496.7"/></clipPath><clipPath id="cr256"><rect x="299.50" y="413.30" width="164.00" height="80.40"/></clipPath><polygon id="q257" points="-100.5,410.3 400.4,410.3 462.5,448.0 462.5,448.0 381.2,496.7 -100.5,496.7"/><polygon id="q258" points="-100.5,410.3 396,410.3 457.1,448.0 457.1,448.0 380.4,496.7 -100.5,496.7"/><polygon id="q259" points="-100.5,410.3 391.6,410.3 451.6,448.0 451.6,448.0 379.6,496.7 -100.5,496.7"/><polygon id="q260" points="-100.5,410.3 387.2,410.3 446.2,448.0 446.2,448.0 378.8,496.7 -100.5,496.7"/><polygon id="q261" points="-100.5,410.3 382.8,410.3 440.7,448.0 440.7,448.0 378,496.7 -100.5,496.7"/><polygon id="q262" points="-100.5,410.3 378.4,410.3 435.3,448.0 435.3,448.0 377.2,496.7 -100.5,496.7"/><polygon id="q263" points="-100.5,410.3 374,410.3 429.8,448.0 429.8,448.0 376.4,496.7 -100.5,496.7"/><polygon id="q264" points="-100.5,410.3 369.6,410.3 424.4,448.0 424.4,448.0 375.6,496.7 -100.5,496.7"/><polygon id="q265" points="-100.5,410.3 369.2,410.3 422.1,448.0 422.1,448.0 369.3,496.7 -100.5,496.7"/><polygon id="q266" points="-100.5,410.3 368.8,410.3 419.7,448.0 419.7,448.0 362.9,496.7 -100.5,496.7"/><polygon id="q267" points="-100.5,410.3 368.4,410.3 417.4,448.0 417.4,448.0 356.6,496.7 -100.5,496.7"/><polygon id="q268" points="-100.5,410.3 368,410.3 415,448.0 415,448.0 350.3,496.7 -100.5,496.7"/><polygon id="q269" points="-100.5,410.3 367.6,410.3 412.7,448.0 412.7,448.0 343.9,496.7 -100.5,496.7"/><polygon id="q270" points="-100.5,410.3 367.1,410.3 410.3,448.0 410.3,448.0 337.6,496.7 -100.5,496.7"/><polygon id="q271" points="-100.5,410.3 366.7,410.3 408,448.0 408,448.0 331.3,496.7 -100.5,496.7"/><polygon id="q272" points="-100.5,410.3 361.6,410.3 404.9,448.0 404.9,448.0 329.6,496.7 -100.5,496.7"/><polygon id="q273" points="-100.5,410.3 356.4,410.3 401.7,448.0 401.7,448.0 328,496.7 -100.5,496.7"/><polygon id="q274" points="-100.5,410.3 351.2,410.3 398.6,448.0 398.6,448.0 326.3,496.7 -100.5,496.7"/><polygon id="q275" points="-100.5,410.3 346.1,410.3 395.4,448.0 395.4,448.0 324.7,496.7 -100.5,496.7"/><polygon id="q276" points="-100.5,410.3 340.9,410.3 392.3,448.0 392.3,448.0 323,496.7 -100.5,496.7"/><polygon id="q277" points="-100.5,410.3 335.8,410.3 389.1,448.0 389.1,448.0 321.4,496.7 -100.5,496.7"/><polygon id="q278" points="-100.5,410.3 330.6,410.3 386,448.0 386,448.0 319.7,496.7 -100.5,496.7"/><polygon id="q279" points="-100.5,410.3 326.6,410.3 380.3,448.0 380.3,448.0 317.9,496.7 -100.5,496.7"/><polygon id="q280" points="-100.5,410.3 322.6,410.3 374.6,448.0 374.6,448.0 316.2,496.7 -100.5,496.7"/><polygon id="q281" points="-100.5,410.3 318.6,410.3 368.9,448.0 368.9,448.0 314.4,496.7 -100.5,496.7"/><polygon id="q282" points="-100.5,410.3 314.6,410.3 363.1,448.0 363.1,448.0 312.6,496.7 -100.5,496.7"/><polygon id="q283" points="-100.5,410.3 310.6,410.3 357.4,448.0 357.4,448.0 310.9,496.7 -100.5,496.7"/><polygon id="q284" points="-100.5,410.3 306.5,410.3 351.7,448.0 351.7,448.0 309.1,496.7 -100.5,496.7"/><polygon id="q285" points="-100.5,410.3 302.5,410.3 346,448.0 346,448.0 307.3,496.7 -100.5,496.7"/><polygon id="q286" points="-100.5,410.3 302,410.3 339.3,448.0 339.3,448.0 306.1,496.7 -100.5,496.7"/><polygon id="q287" points="-100.5,410.3 301.5,410.3 332.6,448.0 332.6,448.0 304.9,496.7 -100.5,496.7"/><polygon id="q288" points="-100.5,410.3 301,410.3 325.9,448.0 325.9,448.0 303.8,496.7 -100.5,496.7"/><polygon id="q289" points="-100.5,410.3 300.5,410.3 319.1,448.0 319.1,448.0 302.6,496.7 -100.5,496.7"/><polygon id="q290" points="-100.5,410.3 300,410.3 312.4,448.0 312.4,448.0 301.4,496.7 -100.5,496.7"/><polygon id="q291" points="-100.5,410.3 299.5,410.3 305.7,448.0 305.7,448.0 300.2,496.7 -100.5,496.7"/><clipPath id="cp292"><polygon points="-100.5,410.3 400.4,410.3 462.5,448.0 462.5,448.0 381.2,496.7 -100.5,496.7"/></clipPath><clipPath id="cr293"><rect x="469.00" y="413.30" width="164.00" height="80.40"/></clipPath><polygon id="q294" points="69,410.3 563.9,410.3 632.7,450.5 632.7,459.4 573.1,496.7 69,496.7"/><polygon id="q295" points="69,410.3 562.3,410.3 627,450.5 627,460.6 570.1,496.7 69,496.7"/><polygon id="q296" points="69,410.3 560.8,410.3 621.4,450.5 621.4,461.9 567,496.7 69,496.7"/><polygon id="q297" points="69,410.3 559.3,410.3 615.7,450.5 615.7,463.1 564,496.7 69,496.7"/><polygon id="q298" points="69,410.3 557.8,410.3 610,450.5 610,464.3 561,496.7 69,496.7"/><polygon id="q299" points="69,410.3 556.3,410.3 604.3,450.5 604.3,465.5 557.9,496.7 69,496.7"/><polygon id="q300" points="69,410.3 554.8,410.3 598.7,450.5 598.7,466.8 554.9,496.7 69,496.7"/><polygon id="q301" points="69,410.3 553.2,410.3 593,450.5 593,468.0 551.9,496.7 69,496.7"/><polygon id="q302" points="69,410.3 552.2,410.3 591.7,450.5 591.7,466.1 546,496.7 69,496.7"/><polygon id="q303" points="69,410.3 551.1,410.3 590.5,450.5 590.5,464.3 540,496.7 69,496.7"/><polygon id="q304" points="69,410.3 550,410.3 589.2,450.5 589.2,462.4 534.2,496.7 69,496.7"/><polygon id="q305" points="69,410.3 548.9,410.3 588,450.5 588,460.6 528.3,496.7 69,496.7"/><polygon id="q306" points="69,410.3 547.9,410.3 586.7,450.5 586.7,458.7 522.4,496.7 69,496.7"/><polygon id="q307" points="69,410.3 546.8,410.3 585.5,450.5 585.5,456.9 516.6,496.7 69,496.7"/><polygon id="q308" points="69,410.3 545.7,410.3 584.2,450.5 584.2,455.0 510.7,496.7 69,496.7"/><polygon id="q309" points="69,410.3 538.5,410.3 580.6,450.5 580.6,456.0 508.7,496.7 69,496.7"/><polygon id="q310" points="69,410.3 531.3,410.3 576.9,450.5 576.9,457.0 506.7,496.7 69,496.7"/><polygon id="q311" points="69,410.3 524.1,410.3 573.3,450.5 573.3,458.0 504.7,496.7 69,496.7"/><polygon id="q312" points="69,410.3 516.9,410.3 569.7,450.5 569.7,459.0 502.7,496.7 69,496.7"/><polygon id="q313" points="69,410.3 509.7,410.3 566.1,450.5 566.1,460.0 500.7,496.7 69,496.7"/><polygon id="q314" points="69,410.3 502.5,410.3 562.4,450.5 562.4,461.0 498.6,496.7 69,496.7"/><polygon id="q315" points="69,410.3 495.3,410.3 558.8,450.5 558.8,462.0 496.6,496.7 69,496.7"/><polygon id="q316" points="69,410.3 491.8,410.3 555.8,450.5 555.8,461.6 493.5,496.7 69,496.7"/><polygon id="q317" points="69,410.3 488.3,410.3 552.9,450.5 552.9,461.3 490.3,496.7 69,496.7"/><polygon id="q318" points="69,410.3 484.9,410.3 549.9,450.5 549.9,460.9 487.2,496.7 69,496.7"/><polygon id="q319" points="69,410.3 481.4,410.3 546.9,450.5 546.9,460.5 484,496.7 69,496.7"/><polygon id="q320" points="69,410.3 477.9,410.3 543.9,450.5 543.9,460.1 480.9,496.7 69,496.7"/><polygon id="q321" points="69,410.3 474.5,410.3 541,450.5 541,459.8 477.7,496.7 69,496.7"/><polygon id="q322" points="69,410.3 471,410.3 538,450.5 538,459.4 474.6,496.7 69,496.7"/><polygon id="q323" points="69,410.3 470.6,410.3 528.1,450.5 528.1,459.4 473.7,496.7 69,496.7"/><polygon id="q324" points="69,410.3 470.3,410.3 518.1,450.5 518.1,459.4 472.9,496.7 69,496.7"/><polygon id="q325" points="69,410.3 469.9,410.3 508.2,450.5 508.2,459.4 472,496.7 69,496.7"/><polygon id="q326" points="69,410.3 469.6,410.3 498.3,450.5 498.3,459.4 471.1,496.7 69,496.7"/><polygon id="q327" points="69,410.3 469.2,410.3 488.4,450.5 488.4,459.4 470.2,496.7 69,496.7"/><polygon id="q328" points="69,410.3 468.9,410.3 478.4,450.5 478.4,459.4 469.4,496.7 69,496.7"/><clipPath id="cp329"><polygon points="69,410.3 563.9,410.3 632.7,450.5 632.7,459.4 573.1,496.7 69,496.7"/></clipPath><clipPath id="cr330"><rect x="130.00" y="498.60" width="164.00" height="80.40"/></clipPath><polygon id="q331" points="-270,495.6 245.5,495.6 292.6,525.3 292.6,525.3 199.6,582.0 -270,582.0"/><polygon id="q332" points="-270,495.6 243.9,495.6 286.8,525.3 286.8,525.3 198,582.0 -270,582.0"/><polygon id="q333" points="-270,495.6 242.3,495.6 281,525.3 281,525.3 196.4,582.0 -270,582.0"/><polygon id="q334" points="-270,495.6 240.7,495.6 275.2,525.3 275.2,525.3 194.8,582.0 -270,582.0"/><polygon id="q335" points="-270,495.6 239.1,495.6 269.4,525.3 269.4,525.3 193.2,582.0 -270,582.0"/><polygon id="q336" points="-270,495.6 237.4,495.6 263.6,525.3 263.6,525.3 191.5,582.0 -270,582.0"/><polygon id="q337" points="-270,495.6 235.8,495.6 257.8,525.3 257.8,525.3 189.9,582.0 -270,582.0"/><polygon id="q338" points="-270,495.6 234.2,495.6 252,525.3 252,525.3 188.3,582.0 -270,582.0"/><polygon id="q339" points="-270,495.6 226.5,495.6 249.2,525.3 249.2,525.3 186.2,582.0 -270,582.0"/><polygon id="q340" points="-270,495.6 218.7,495.6 246.4,525.3 246.4,525.3 184,582.0 -270,582.0"/><polygon id="q341" points="-270,495.6 211,495.6 243.6,525.3 243.6,525.3 181.9,582.0 -270,582.0"/><polygon id="q342" points="-270,495.6 203.2,495.6 240.9,525.3 240.9,525.3 179.7,582.0 -270,582.0"/><polygon id="q343" points="-270,495.6 195.5,495.6 238.1,525.3 238.1,525.3 177.6,582.0 -270,582.0"/><polygon id="q344" points="-270,495.6 187.7,495.6 235.3,525.3 235.3,525.3 175.4,582.0 -270,582.0"/><polygon id="q345" points="-270,495.6 180,495.6 232.5,525.3 232.5,525.3 173.3,582.0 -270,582.0"/><polygon id="q346" points="-270,495.6 175.8,495.6 230,525.3 230,525.3 170.7,582.0 -270,582.0"/><polygon id="q347" points="-270,495.6 171.7,495.6 227.4,525.3 227.4,525.3 168.2,582.0 -270,582.0"/><polygon id="q348" points="-270,495.6 167.5,495.6 224.9,525.3 224.9,525.3 165.6,582.0 -270,582.0"/><polygon id="q349" points="-270,495.6 163.3,495.6 222.3,525.3 222.3,525.3 163.1,582.0 -270,582.0"/><polygon id="q350" points="-270,495.6 159.2,495.6 219.8,525.3 219.8,525.3 160.6,582.0 -270,582.0"/><polygon id="q351" points="-270,495.6 155,495.6 217.2,525.3 217.2,525.3 158,582.0 -270,582.0"/><polygon id="q352" points="-270,495.6 150.9,495.6 214.7,525.3 214.7,525.3 155.5,582.0 -270,582.0"/><polygon id="q353" points="-270,495.6 147.9,495.6 212.5,525.3 212.5,525.3 152.9,582.0 -270,582.0"/><polygon id="q354" points="-270,495.6 144.9,495.6 210.3,525.3 210.3,525.3 150.3,582.0 -270,582.0"/><polygon id="q355" points="-270,495.6 141.9,495.6 208.1,525.3 208.1,525.3 147.7,582.0 -270,582.0"/><polygon id="q356" points="-270,495.6 138.9,495.6 206,525.3 206,525.3 145.2,582.0 -270,582.0"/><polygon id="q357" points="-270,495.6 135.9,495.6 203.8,525.3 203.8,525.3 142.6,582.0 -270,582.0"/><polygon id="q358" points="-270,495.6 133,495.6 201.6,525.3 201.6,525.3 140,582.0 -270,582.0"/><polygon id="q359" points="-270,495.6 130,495.6 199.4,525.3 199.4,525.3 137.4,582.0 -270,582.0"/><polygon id="q360" points="-270,495.6 129.9,495.6 189.4,525.3 189.4,525.3 136.3,582.0 -270,582.0"/><polygon id="q361" points="-270,495.6 129.8,495.6 179.4,525.3 179.4,525.3 135.2,582.0 -270,582.0"/><polygon id="q362" points="-270,495.6 129.8,495.6 169.4,525.3 169.4,525.3 134,582.0 -270,582.0"/><polygon id="q363" points="-270,495.6 129.7,495.6 159.5,525.3 159.5,525.3 132.9,582.0 -270,582.0"/><polygon id="q364" points="-270,495.6 129.6,495.6 149.5,525.3 149.5,525.3 131.8,582.0 -270,582.0"/><polygon id="q365" points="-270,495.6 129.6,495.6 139.5,525.3 139.5,525.3 130.6,582.0 -270,582.0"/><clipPath id="cp366"><polygon points="-270,495.6 245.5,495.6 292.6,525.3 292.6,525.3 199.6,582.0 -270,582.0"/></clipPath><clipPath id="cr367"><rect x="299.50" y="498.60" width="164.00" height="80.40"/></clipPath><polygon id="q368" points="-100.5,495.6 400.6,495.6 462.7,535.5 462.7,535.5 391.8,582.0 -100.5,582.0"/><polygon id="q369" points="-100.5,495.6 396.1,495.6 456.9,535.5 456.9,535.5 390.7,582.0 -100.5,582.0"/><polygon id="q370" points="-100.5,495.6 391.6,495.6 451,535.5 451,535.5 389.5,582.0 -100.5,582.0"/><polygon id="q371" points="-100.5,495.6 387.1,495.6 445.2,535.5 445.2,535.5 388.4,582.0 -100.5,582.0"/><polygon id="q372" points="-100.5,495.6 382.6,495.6 439.4,535.5 439.4,535.5 387.2,582.0 -100.5,582.0"/><polygon id="q373" points="-100.5,495.6 378.1,495.6 433.6,535.5 433.6,535.5 386,582.0 -100.5,582.0"/><polygon id="q374" points="-100.5,495.6 373.5,495.6 427.7,535.5 427.7,535.5 384.9,582.0 -100.5,582.0"/><polygon id="q375" points="-100.5,495.6 369,495.6 421.9,535.5 421.9,535.5 383.7,582.0 -100.5,582.0"/><polygon id="q376" points="-100.5,495.6 368.9,495.6 419.9,535.5 419.9,535.5 376.1,582.0 -100.5,582.0"/><polygon id="q377" points="-100.5,495.6 368.7,495.6 417.9,535.5 417.9,535.5 368.4,582.0 -100.5,582.0"/><polygon id="q378" points="-100.5,495.6 368.5,495.6 415.9,535.5 415.9,535.5 360.8,582.0 -100.5,582.0"/><polygon id="q379" points="-100.5,495.6 368.4,495.6 413.9,535.5 413.9,535.5 353.1,582.0 -100.5,582.0"/><polygon id="q380" points="-100.5,495.6 368.2,495.6 411.9,535.5 411.9,535.5 345.5,582.0 -100.5,582.0"/><polygon id="q381" points="-100.5,495.6 368.1,495.6 409.9,535.5 409.9,535.5 337.8,582.0 -100.5,582.0"/><polygon id="q382" points="-100.5,495.6 367.9,495.6 407.9,535.5 407.9,535.5 330.2,582.0 -100.5,582.0"/><polygon id="q383" points="-100.5,495.6 362.6,495.6 405.2,535.5 405.2,535.5 328.4,582.0 -100.5,582.0"/><polygon id="q384" points="-100.5,495.6 357.2,495.6 402.4,535.5 402.4,535.5 326.7,582.0 -100.5,582.0"/><polygon id="q385" points="-100.5,495.6 351.9,495.6 399.7,535.5 399.7,535.5 324.9,582.0 -100.5,582.0"/><polygon id="q386" points="-100.5,495.6 346.6,495.6 397,535.5 397,535.5 323.2,582.0 -100.5,582.0"/><polygon id="q387" points="-100.5,495.6 341.3,495.6 394.3,535.5 394.3,535.5 321.4,582.0 -100.5,582.0"/><polygon id="q388" points="-100.5,495.6 335.9,495.6 391.5,535.5 391.5,535.5 319.7,582.0 -100.5,582.0"/><polygon id="q389" points="-100.5,495.6 330.6,495.6 388.8,535.5 388.8,535.5 317.9,582.0 -100.5,582.0"/><polygon id="q390" points="-100.5,495.6 326.6,495.6 382.7,535.5 382.7,535.5 316.4,582.0 -100.5,582.0"/><polygon id="q391" points="-100.5,495.6 322.7,495.6 376.6,535.5 376.6,535.5 314.9,582.0 -100.5,582.0"/><polygon id="q392" points="-100.5,495.6 318.7,495.6 370.5,535.5 370.5,535.5 313.3,582.0 -100.5,582.0"/><polygon id="q393" points="-100.5,495.6 314.7,495.6 364.3,535.5 364.3,535.5 311.8,582.0 -100.5,582.0"/><polygon id="q394" points="-100.5,495.6 310.7,495.6 358.2,535.5 358.2,535.5 310.3,582.0 -100.5,582.0"/><polygon id="q395" points="-100.5,495.6 306.7,495.6 352.1,535.5 352.1,535.5 308.7,582.0 -100.5,582.0"/><polygon id="q396" points="-100.5,495.6 302.7,495.6 346,535.5 346,535.5 307.2,582.0 -100.5,582.0"/><polygon id="q397" points="-100.5,495.6 302.2,495.6 339.3,535.5 339.3,535.5 306,582.0 -100.5,582.0"/><polygon id="q398" points="-100.5,495.6 301.7,495.6 332.6,535.5 332.6,535.5 304.9,582.0 -100.5,582.0"/><polygon id="q399" points="-100.5,495.6 301.1,495.6 325.9,535.5 325.9,535.5 303.7,582.0 -100.5,582.0"/><polygon id="q400" points="-100.5,495.6 300.6,495.6 319.1,535.5 319.1,535.5 302.5,582.0 -100.5,582.0"/><polygon id="q401" points="-100.5,495.6 300.1,495.6 312.4,535.5 312.4,535.5 301.3,582.0 -100.5,582.0"/><polygon id="q402" points="-100.5,495.6 299.5,495.6 305.7,535.5 305.7,535.5 300.2,582.0 -100.5,582.0"/><clipPath id="cp403"><polygon points="-100.5,495.6 400.6,495.6 462.7,535.5 462.7,535.5 391.8,582.0 -100.5,582.0"/></clipPath><clipPath id="cr404"><rect x="469.00" y="498.60" width="164.00" height="80.40"/></clipPath><polygon id="q405" points="69,495.6 563.8,495.6 632.7,535.5 632.7,545.7 573,582.0 69,582.0"/><polygon id="q406" points="69,495.6 562.3,495.6 627.1,535.5 627.1,546.7 570.3,582.0 69,582.0"/><polygon id="q407" points="69,495.6 560.8,495.6 621.4,535.5 621.4,547.8 567.7,582.0 69,582.0"/><polygon id="q408" points="69,495.6 559.3,495.6 615.8,535.5 615.8,548.8 565.1,582.0 69,582.0"/><polygon id="q409" points="69,495.6 557.7,495.6 610.1,535.5 610.1,549.9 562.5,582.0 69,582.0"/><polygon id="q410" points="69,495.6 556.2,495.6 604.5,535.5 604.5,550.9 560,582.0 69,582.0"/><polygon id="q411" points="69,495.6 554.7,495.6 598.8,535.5 598.8,552.0 557.4,582.0 69,582.0"/><polygon id="q412" points="69,495.6 553.2,495.6 593.2,535.5 593.2,553.0 554.8,582.0 69,582.0"/><polygon id="q413" points="69,495.6 552.1,495.6 592.1,535.5 592.1,551.1 548.3,582.0 69,582.0"/><polygon id="q414" points="69,495.6 551,495.6 591,535.5 591,549.3 541.9,582.0 69,582.0"/><polygon id="q415" points="69,495.6 549.9,495.6 589.9,535.5 589.9,547.4 535.5,582.0 69,582.0"/><polygon id="q416" points="69,495.6 548.9,495.6 588.8,535.5 588.8,545.6 529.1,582.0 69,582.0"/><polygon id="q417" points="69,495.6 547.8,495.6 587.7,535.5 587.7,543.7 522.7,582.0 69,582.0"/><polygon id="q418" points="69,495.6 546.7,495.6 586.6,535.5 586.6,541.9 516.4,582.0 69,582.0"/><polygon id="q419" points="69,495.6 545.6,495.6 585.5,535.5 585.5,540.0 510,582.0 69,582.0"/><polygon id="q420" points="69,495.6 539.2,495.6 582,535.5 582,541.0 507.2,582.0 69,582.0"/><polygon id="q421" points="69,495.6 532.8,495.6 578.6,535.5 578.6,542.0 504.4,582.0 69,582.0"/><polygon id="q422" points="69,495.6 526.3,495.6 575.1,535.5 575.1,543.0 501.6,582.0 69,582.0"/><polygon id="q423" points="69,495.6 519.9,495.6 571.7,535.5 571.7,544.0 498.7,582.0 69,582.0"/><polygon id="q424" points="69,495.6 513.5,495.6 568.2,535.5 568.2,545.0 495.9,582.0 69,582.0"/><polygon id="q425" points="69,495.6 507.1,495.6 564.8,535.5 564.8,546.0 493.1,582.0 69,582.0"/><polygon id="q426" points="69,495.6 500.6,495.6 561.3,535.5 561.3,547.0 490.2,582.0 69,582.0"/><polygon id="q427" points="69,495.6 496.6,495.6 558,535.5 558,546.8 488,582.0 69,582.0"/><polygon id="q428" points="69,495.6 492.5,495.6 554.8,535.5 554.8,546.6 485.7,582.0 69,582.0"/><polygon id="q429" points="69,495.6 488.5,495.6 551.5,535.5 551.5,546.4 483.4,582.0 69,582.0"/><polygon id="q430" points="69,495.6 484.4,495.6 548.2,535.5 548.2,546.3 481.2,582.0 69,582.0"/><polygon id="q431" points="69,495.6 480.3,495.6 544.9,535.5 544.9,546.1 478.9,582.0 69,582.0"/><polygon id="q432" points="69,495.6 476.3,495.6 541.7,535.5 541.7,545.9 476.7,582.0 69,582.0"/><polygon id="q433" points="69,495.6 472.2,495.6 538.4,535.5 538.4,545.7 474.4,582.0 69,582.0"/><polygon id="q434" points="69,495.6 471.7,495.6 528.4,535.5 528.4,545.7 473.6,582.0 69,582.0"/><polygon id="q435" points="69,495.6 471.2,495.6 518.4,535.5 518.4,545.7 472.7,582.0 69,582.0"/><polygon id="q436" points="69,495.6 470.6,495.6 508.4,535.5 508.4,545.7 471.9,582.0 69,582.0"/><polygon id="q437" points="69,495.6 470.1,495.6 498.5,535.5 498.5,545.7 471,582.0 69,582.0"/><polygon id="q438" points="69,495.6 469.6,495.6 488.5,535.5 488.5,545.7 470.2,582.0 69,582.0"/><polygon id="q439" points="69,495.6 469,495.6 478.5,535.5 478.5,545.7 469.3,582.0 69,582.0"/><clipPath id="cp440"><polygon points="69,495.6 563.8,495.6 632.7,535.5 632.7,545.7 573,582.0 69,582.0"/></clipPath><clipPath id="cr441"><rect x="825.50" y="70.00" width="164.00" height="80.40"/></clipPath><linearGradient id="lg442" gradientUnits="userSpaceOnUse" x1="825.50" y1="0.00" x2="989.50" y2="0.00"><stop offset="0.0000" stop-color="#d71414"/><stop offset="0.3500" stop-color="#f02814"/><stop offset="0.5000" stop-color="#ff8200"/><stop offset="0.6500" stop-color="#ffe600"/><stop offset="0.8000" stop-color="#ffff50"/><stop offset="1.0000" stop-color="#ffffc8"/></linearGradient><clipPath id="cr443"><rect x="995.00" y="70.00" width="164.00" height="80.40"/></clipPath><linearGradient id="lg444" gradientUnits="userSpaceOnUse" x1="995.00" y1="0.00" x2="1159.00" y2="0.00"><stop offset="0.0000" stop-color="#d71414"/><stop offset="0.3500" stop-color="#f02814"/><stop offset="0.5000" stop-color="#ff8200"/><stop offset="0.6500" stop-color="#ffe600"/><stop offset="0.8000" stop-color="#ffff50"/><stop offset="1.0000" stop-color="#ffffc8"/></linearGradient><clipPath id="cr445"><rect x="1164.50" y="70.00" width="164.00" height="80.40"/></clipPath><linearGradient id="lg446" gradientUnits="userSpaceOnUse" x1="1164.50" y1="0.00" x2="1328.50" y2="0.00"><stop offset="0.0000" stop-color="#d71414"/><stop offset="0.3500" stop-color="#f02814"/><stop offset="0.5000" stop-color="#ff8200"/><stop offset="0.6500" stop-color="#ffe600"/><stop offset="0.8000" stop-color="#ffff50"/><stop offset="1.0000" stop-color="#ffffc8"/></linearGradient><clipPath id="cr447"><rect x="1334.00" y="70.00" width="164.00" height="80.40"/></clipPath><linearGradient id="lg448" gradientUnits="userSpaceOnUse" x1="1334.00" y1="0.00" x2="1498.00" y2="0.00"><stop offset="0.0000" stop-color="#d71414"/><stop offset="0.3500" stop-color="#f02814"/><stop offset="0.5000" stop-color="#ff8200"/><stop offset="0.6500" stop-color="#ffe600"/><stop offset="0.8000" stop-color="#ffff50"/><stop offset="1.0000" stop-color="#ffffc8"/></linearGradient><clipPath id="cr449"><rect x="825.50" y="155.20" width="164.00" height="80.40"/></clipPath><linearGradient id="lg450" gradientUnits="userSpaceOnUse" x1="825.50" y1="0.00" x2="989.50" y2="0.00"><stop offset="0.0000" stop-color="#d71414"/><stop offset="0.3500" stop-color="#f02814"/><stop offset="0.5000" stop-color="#ff8200"/><stop offset="0.6500" stop-color="#ffe600"/><stop offset="0.8000" stop-color="#ffff50"/><stop offset="1.0000" stop-color="#ffffc8"/></linearGradient><clipPath id="cr451"><rect x="995.00" y="155.20" width="164.00" height="80.40"/></clipPath><linearGradient id="lg452" gradientUnits="userSpaceOnUse" x1="995.00" y1="0.00" x2="1159.00" y2="0.00"><stop offset="0.0000" stop-color="#d71414"/><stop offset="0.3500" stop-color="#f02814"/><stop offset="0.5000" stop-color="#ff8200"/><stop offset="0.6500" stop-color="#ffe600"/><stop offset="0.8000" stop-color="#ffff50"/><stop offset="1.0000" stop-color="#ffffc8"/></linearGradient><clipPath id="cr453"><rect x="1164.50" y="155.20" width="164.00" height="80.40"/></clipPath><linearGradient id="lg454" gradientUnits="userSpaceOnUse" x1="1164.50" y1="0.00" x2="1328.50" y2="0.00"><stop offset="0.0000" stop-color="#d71414"/><stop offset="0.3500" stop-color="#f02814"/><stop offset="0.5000" stop-color="#ff8200"/><stop offset="0.6500" stop-color="#ffe600"/><stop offset="0.8000" stop-color="#ffff50"/><stop offset="1.0000" stop-color="#ffffc8"/></linearGradient><clipPath id="cr455"><rect x="1334.00" y="155.20" width="164.00" height="80.40"/></clipPath><linearGradient id="lg456" gradientUnits="userSpaceOnUse" x1="1334.00" y1="0.00" x2="1664.00" y2="0.00"><stop offset="0.0000" stop-color="#d71414"/><stop offset="0.3500" stop-color="#f02814"/><stop offset="0.5000" stop-color="#ff8200"/><stop offset="0.6500" stop-color="#ffe600"/><stop offset="0.8000" stop-color="#ffff50"/><stop offset="1.0000" stop-color="#ffffc8"/></linearGradient><polygon id="q457" points="934,152.2 1457.7,152.2 1499,178.0 1499,178.0 1402,238.6 934,238.6"/><polygon id="q458" points="934,152.2 1453.6,152.2 1494.8,178.0 1494.8,178.0 1397.9,238.6 934,238.6"/><polygon id="q459" points="934,152.2 1449.4,152.2 1490.7,178.0 1490.7,178.0 1393.7,238.6 934,238.6"/><polygon id="q460" points="934,152.2 1445.2,152.2 1486.5,178.0 1486.5,178.0 1389.5,238.6 934,238.6"/><polygon id="q461" points="934,152.2 1441.1,152.2 1482.3,178.0 1482.3,178.0 1385.4,238.6 934,238.6"/><polygon id="q462" points="934,152.2 1436.9,152.2 1478.2,178.0 1478.2,178.0 1381.2,238.6 934,238.6"/><polygon id="q463" points="934,152.2 1432.7,152.2 1474,178.0 1474,178.0 1377,238.6 934,238.6"/><polygon id="q464" points="934,152.2 1431.2,152.2 1472.5,178.0 1472.5,178.0 1375.5,238.6 934,238.6"/><polygon id="q465" points="934,152.2 1429.7,152.2 1471,178.0 1471,178.0 1374,238.6 934,238.6"/><polygon id="q466" points="934,152.2 1428.2,152.2 1469.5,178.0 1469.5,178.0 1372.5,238.6 934,238.6"/><polygon id="q467" points="934,152.2 1426.7,152.2 1468,178.0 1468,178.0 1371,238.6 934,238.6"/><polygon id="q468" points="934,152.2 1425.2,152.2 1466.5,178.0 1466.5,178.0 1369.5,238.6 934,238.6"/><polygon id="q469" points="934,152.2 1423.7,152.2 1465,178.0 1465,178.0 1368,238.6 934,238.6"/><polygon id="q470" points="934,152.2 1422.2,152.2 1463.5,178.0 1463.5,178.0 1366.5,238.6 934,238.6"/><polygon id="q471" points="934,152.2 1420.7,152.2 1462,178.0 1462,178.0 1365,238.6 934,238.6"/><polygon id="q472" points="934,152.2 1419.2,152.2 1460.5,178.0 1460.5,178.0 1363.5,238.6 934,238.6"/><polygon id="q473" points="934,152.2 1417.7,152.2 1459,178.0 1459,178.0 1362,238.6 934,238.6"/><polygon id="q474" points="934,152.2 1416.2,152.2 1457.5,178.0 1457.5,178.0 1360.5,238.6 934,238.6"/><polygon id="q475" points="934,152.2 1414.7,152.2 1456,178.0 1456,178.0 1359,238.6 934,238.6"/><polygon id="q476" points="934,152.2 1413.4,152.2 1454.7,178.0 1454.7,178.0 1357.7,238.6 934,238.6"/><polygon id="q477" points="934,152.2 1412.1,152.2 1453.3,178.0 1453.3,178.0 1356.4,238.6 934,238.6"/><polygon id="q478" points="934,152.2 1410.7,152.2 1452,178.0 1452,178.0 1355,238.6 934,238.6"/><polygon id="q479" points="934,152.2 1409.4,152.2 1450.7,178.0 1450.7,178.0 1353.7,238.6 934,238.6"/><polygon id="q480" points="934,152.2 1408.1,152.2 1449.3,178.0 1449.3,178.0 1352.4,238.6 934,238.6"/><polygon id="q481" points="934,152.2 1406.7,152.2 1448,178.0 1448,178.0 1351,238.6 934,238.6"/><polygon id="q482" points="934,152.2 1394.5,152.2 1428.9,178.0 1428.9,178.0 1348.1,238.6 934,238.6"/><polygon id="q483" points="934,152.2 1382.3,152.2 1409.8,178.0 1409.8,178.0 1345.2,238.6 934,238.6"/><polygon id="q484" points="934,152.2 1370.1,152.2 1390.8,178.0 1390.8,178.0 1342.3,238.6 934,238.6"/><polygon id="q485" points="934,152.2 1357.9,152.2 1371.7,178.0 1371.7,178.0 1339.3,238.6 934,238.6"/><polygon id="q486" points="934,152.2 1345.7,152.2 1352.6,178.0 1352.6,178.0 1336.4,238.6 934,238.6"/><clipPath id="cp487"><polygon points="1444,170.0 1458,163.0 1469,162.0 1498.5,178.0 1477,191.0 1465,188.0 1450,180.0"/></clipPath><clipPath id="cr488"><rect x="825.50" y="240.80" width="164.00" height="80.40"/></clipPath><linearGradient id="lg489" gradientUnits="userSpaceOnUse" x1="825.50" y1="0.00" x2="989.50" y2="0.00"><stop offset="0.0000" stop-color="#d71414"/><stop offset="0.3500" stop-color="#f02814"/><stop offset="0.5000" stop-color="#ff8200"/><stop offset="0.6500" stop-color="#ffe600"/><stop offset="0.8000" stop-color="#ffff50"/><stop offset="1.0000" stop-color="#ffffc8"/></linearGradient><clipPath id="cr490"><rect x="995.00" y="240.80" width="164.00" height="80.40"/></clipPath><linearGradient id="lg491" gradientUnits="userSpaceOnUse" x1="995.00" y1="0.00" x2="1159.00" y2="0.00"><stop offset="0.0000" stop-color="#d71414"/><stop offset="0.3500" stop-color="#f02814"/><stop offset="0.5000" stop-color="#ff8200"/><stop offset="0.6500" stop-color="#ffe600"/><stop offset="0.8000" stop-color="#ffff50"/><stop offset="1.0000" stop-color="#ffffc8"/></linearGradient><clipPath id="cr492"><rect x="1164.50" y="240.80" width="164.00" height="80.40"/></clipPath><linearGradient id="lg493" gradientUnits="userSpaceOnUse" x1="1164.50" y1="0.00" x2="1494.50" y2="0.00"><stop offset="0.0000" stop-color="#d71414"/><stop offset="0.3500" stop-color="#f02814"/><stop offset="0.5000" stop-color="#ff8200"/><stop offset="0.6500" stop-color="#ffe600"/><stop offset="0.8000" stop-color="#ffff50"/><stop offset="1.0000" stop-color="#ffffc8"/></linearGradient><polygon id="q494" points="764.5,237.8 1261.5,237.8 1329,280.0 1329,280.0 1258.3,324.2 764.5,324.2"/><polygon id="q495" points="764.5,237.8 1257.6,237.8 1325.2,280.0 1325.2,280.0 1254.4,324.2 764.5,324.2"/><polygon id="q496" points="764.5,237.8 1253.8,237.8 1321.3,280.0 1321.3,280.0 1250.6,324.2 764.5,324.2"/><polygon id="q497" points="764.5,237.8 1250,237.8 1317.5,280.0 1317.5,280.0 1246.8,324.2 764.5,324.2"/><polygon id="q498" points="764.5,237.8 1246.1,237.8 1313.7,280.0 1313.7,280.0 1242.9,324.2 764.5,324.2"/><polygon id="q499" points="764.5,237.8 1242.3,237.8 1309.8,280.0 1309.8,280.0 1239.1,324.2 764.5,324.2"/><polygon id="q500" points="764.5,237.8 1238.5,237.8 1306,280.0 1306,280.0 1235.3,324.2 764.5,324.2"/><polygon id="q501" points="764.5,237.8 1236.6,237.8 1304.2,280.0 1304.2,280.0 1233.4,324.2 764.5,324.2"/><polygon id="q502" points="764.5,237.8 1234.8,237.8 1302.3,280.0 1302.3,280.0 1231.6,324.2 764.5,324.2"/><polygon id="q503" points="764.5,237.8 1233,237.8 1300.5,280.0 1300.5,280.0 1229.8,324.2 764.5,324.2"/><polygon id="q504" points="764.5,237.8 1231.1,237.8 1298.7,280.0 1298.7,280.0 1227.9,324.2 764.5,324.2"/><polygon id="q505" points="764.5,237.8 1229.3,237.8 1296.8,280.0 1296.8,280.0 1226.1,324.2 764.5,324.2"/><polygon id="q506" points="764.5,237.8 1227.5,237.8 1295,280.0 1295,280.0 1224.3,324.2 764.5,324.2"/><polygon id="q507" points="764.5,237.8 1225.3,237.8 1292.8,280.0 1292.8,280.0 1222.1,324.2 764.5,324.2"/><polygon id="q508" points="764.5,237.8 1223.1,237.8 1290.7,280.0 1290.7,280.0 1219.9,324.2 764.5,324.2"/><polygon id="q509" points="764.5,237.8 1221,237.8 1288.5,280.0 1288.5,280.0 1217.8,324.2 764.5,324.2"/><polygon id="q510" points="764.5,237.8 1218.8,237.8 1286.3,280.0 1286.3,280.0 1215.6,324.2 764.5,324.2"/><polygon id="q511" points="764.5,237.8 1216.6,237.8 1284.2,280.0 1284.2,280.0 1213.4,324.2 764.5,324.2"/><polygon id="q512" points="764.5,237.8 1214.5,237.8 1282,280.0 1282,280.0 1211.3,324.2 764.5,324.2"/><polygon id="q513" points="764.5,237.8 1212.1,237.8 1279.7,280.0 1279.7,280.0 1208.9,324.2 764.5,324.2"/><polygon id="q514" points="764.5,237.8 1209.8,237.8 1277.3,280.0 1277.3,280.0 1206.6,324.2 764.5,324.2"/><polygon id="q515" points="764.5,237.8 1207.5,237.8 1275,280.0 1275,280.0 1204.3,324.2 764.5,324.2"/><polygon id="q516" points="764.5,237.8 1205.1,237.8 1272.7,280.0 1272.7,280.0 1201.9,324.2 764.5,324.2"/><polygon id="q517" points="764.5,237.8 1202.8,237.8 1270.3,280.0 1270.3,280.0 1199.6,324.2 764.5,324.2"/><polygon id="q518" points="764.5,237.8 1200.5,237.8 1268,280.0 1268,280.0 1197.3,324.2 764.5,324.2"/><polygon id="q519" points="764.5,237.8 1194.4,237.8 1250.7,280.0 1250.7,280.0 1191.7,324.2 764.5,324.2"/><polygon id="q520" points="764.5,237.8 1188.3,237.8 1233.3,280.0 1233.3,280.0 1186.2,324.2 764.5,324.2"/><polygon id="q521" points="764.5,237.8 1182.2,237.8 1216,280.0 1216,280.0 1180.6,324.2 764.5,324.2"/><polygon id="q522" points="764.5,237.8 1176.2,237.8 1198.7,280.0 1198.7,280.0 1175.1,324.2 764.5,324.2"/><polygon id="q523" points="764.5,237.8 1170.1,237.8 1181.3,280.0 1181.3,280.0 1169.5,324.2 764.5,324.2"/><clipPath id="cp524"><polygon points="1262,270.0 1293,258.0 1329,280.0 1304,294.5 1285,285.0 1270,282.0 1262,279.0"/></clipPath><clipPath id="cr525"><rect x="1334.00" y="240.80" width="164.00" height="80.40"/></clipPath><linearGradient id="lg526" gradientUnits="userSpaceOnUse" x1="1334.00" y1="0.00" x2="1664.00" y2="0.00"><stop offset="0.0000" stop-color="#d71414"/><stop offset="0.3500" stop-color="#f02814"/><stop offset="0.5000" stop-color="#ff8200"/><stop offset="0.6500" stop-color="#ffe600"/><stop offset="0.8000" stop-color="#ffff50"/><stop offset="1.0000" stop-color="#ffffc8"/></linearGradient><polygon id="q527" points="934,237.8 1458.7,237.8 1499,263.0 1499,263.0 1401.1,324.2 934,324.2"/><polygon id="q528" points="934,237.8 1455.2,237.8 1495.5,263.0 1495.5,263.0 1397.6,324.2 934,324.2"/><polygon id="q529" points="934,237.8 1451.7,237.8 1492,263.0 1492,263.0 1394.1,324.2 934,324.2"/><polygon id="q530" points="934,237.8 1448.2,237.8 1488.5,263.0 1488.5,263.0 1390.6,324.2 934,324.2"/><polygon id="q531" points="934,237.8 1444.7,237.8 1485,263.0 1485,263.0 1387.1,324.2 934,324.2"/><polygon id="q532" points="934,237.8 1441.2,237.8 1481.5,263.0 1481.5,263.0 1383.6,324.2 934,324.2"/><polygon id="q533" points="934,237.8 1437.7,237.8 1478,263.0 1478,263.0 1380.1,324.2 934,324.2"/><polygon id="q534" points="934,237.8 1435,237.8 1475.3,263.0 1475.3,263.0 1377.4,324.2 934,324.2"/><polygon id="q535" points="934,237.8 1432.3,237.8 1472.7,263.0 1472.7,263.0 1374.7,324.2 934,324.2"/><polygon id="q536" points="934,237.8 1429.7,237.8 1470,263.0 1470,263.0 1372.1,324.2 934,324.2"/><polygon id="q537" points="934,237.8 1427,237.8 1467.3,263.0 1467.3,263.0 1369.4,324.2 934,324.2"/><polygon id="q538" points="934,237.8 1424.3,237.8 1464.7,263.0 1464.7,263.0 1366.7,324.2 934,324.2"/><polygon id="q539" points="934,237.8 1421.7,237.8 1462,263.0 1462,263.0 1364.1,324.2 934,324.2"/><polygon id="q540" points="934,237.8 1418.8,237.8 1459.2,263.0 1459.2,263.0 1361.2,324.2 934,324.2"/><polygon id="q541" points="934,237.8 1416,237.8 1456.3,263.0 1456.3,263.0 1358.4,324.2 934,324.2"/><polygon id="q542" points="934,237.8 1413.2,237.8 1453.5,263.0 1453.5,263.0 1355.6,324.2 934,324.2"/><polygon id="q543" points="934,237.8 1410.3,237.8 1450.7,263.0 1450.7,263.0 1352.7,324.2 934,324.2"/><polygon id="q544" points="934,237.8 1407.5,237.8 1447.8,263.0 1447.8,263.0 1349.9,324.2 934,324.2"/><polygon id="q545" points="934,237.8 1404.7,237.8 1445,263.0 1445,263.0 1347.1,324.2 934,324.2"/><polygon id="q546" points="934,237.8 1400.5,237.8 1440.8,263.0 1440.8,263.0 1342.9,324.2 934,324.2"/><polygon id="q547" points="934,237.8 1396.3,237.8 1436.7,263.0 1436.7,263.0 1338.7,324.2 934,324.2"/><polygon id="q548" points="934,237.8 1392.2,237.8 1432.5,263.0 1432.5,263.0 1334.6,324.2 934,324.2"/><polygon id="q549" points="934,237.8 1388,237.8 1428.3,263.0 1428.3,263.0 1330.4,324.2 934,324.2"/><polygon id="q550" points="934,237.8 1383.8,237.8 1424.2,263.0 1424.2,263.0 1326.2,324.2 934,324.2"/><polygon id="q551" points="934,237.8 1379.7,237.8 1420,263.0 1420,263.0 1322.1,324.2 934,324.2"/><polygon id="q552" points="934,237.8 1372,237.8 1405.6,263.0 1405.6,263.0 1324,324.2 934,324.2"/><polygon id="q553" points="934,237.8 1364.3,237.8 1391.2,263.0 1391.2,263.0 1325.9,324.2 934,324.2"/><polygon id="q554" points="934,237.8 1356.6,237.8 1376.8,263.0 1376.8,263.0 1327.8,324.2 934,324.2"/><polygon id="q555" points="934,237.8 1348.9,237.8 1362.3,263.0 1362.3,263.0 1329.7,324.2 934,324.2"/><polygon id="q556" points="934,237.8 1341.2,237.8 1347.9,263.0 1347.9,263.0 1331.6,324.2 934,324.2"/><clipPath id="cp557"><polygon points="1399,260.0 1429.4,240.0 1457.3,240.0 1499,263.7 1451.5,290.5 1399,265.5"/></clipPath><clipPath id="cr558"><rect x="825.50" y="326.80" width="164.00" height="80.40"/></clipPath><linearGradient id="lg559" gradientUnits="userSpaceOnUse" x1="825.50" y1="0.00" x2="990.00" y2="0.00"><stop offset="0.0000" stop-color="#820f0f"/><stop offset="0.0456" stop-color="#b40a0a"/><stop offset="0.0942" stop-color="#f00505"/><stop offset="0.1976" stop-color="#ff2800"/><stop offset="0.2280" stop-color="#ff6400"/><stop offset="0.3617" stop-color="#ffbe00"/><stop offset="0.3982" stop-color="#ffeb00"/><stop offset="0.6474" stop-color="#ffff14"/><stop offset="0.6900" stop-color="#ffff8c"/><stop offset="1.0000" stop-color="#fcfcd0"/></linearGradient><clipPath id="cp560"><polygon points="824,326.0 830.7,326.0 870,351.8 879.7,356.7 894.4,362.5 909,370.3 920.7,374.2 938.2,371.3 952.8,374.2 962.6,377.2 972.3,378.1 988.5,386.9 977.2,393.7 963.6,402.5 957.7,402.5 948,395.7 938.2,392.8 928.5,393.7 918.7,390.8 904.1,382.0 889.5,376.2 835.9,408.0 824,408.0"/></clipPath><clipPath id="cr561"><rect x="995.00" y="326.80" width="164.00" height="80.40"/></clipPath><polygon id="q562" points="595,323.8 1077.1,323.8 1160,383.0 1160,383.0 1121.9,410.2 595,410.2"/><polygon id="q563" points="595,323.8 1073,323.8 1155.8,383.0 1155.8,383.0 1117.8,410.2 595,410.2"/><polygon id="q564" points="595,323.8 1068.8,323.8 1151.7,383.0 1151.7,383.0 1113.6,410.2 595,410.2"/><polygon id="q565" points="595,323.8 1064.6,323.8 1147.5,383.0 1147.5,383.0 1109.4,410.2 595,410.2"/><polygon id="q566" points="595,323.8 1060.5,323.8 1143.3,383.0 1143.3,383.0 1105.3,410.2 595,410.2"/><polygon id="q567" points="595,323.8 1056.3,323.8 1139.2,383.0 1139.2,383.0 1101.1,410.2 595,410.2"/><polygon id="q568" points="595,323.8 1052.1,323.8 1135,383.0 1135,383.0 1096.9,410.2 595,410.2"/><polygon id="q569" points="595,323.8 1049.6,323.8 1132.5,383.0 1132.5,383.0 1094.4,410.2 595,410.2"/><polygon id="q570" points="595,323.8 1047.1,323.8 1130,383.0 1130,383.0 1091.9,410.2 595,410.2"/><polygon id="q571" points="595,323.8 1044.6,323.8 1127.5,383.0 1127.5,383.0 1089.4,410.2 595,410.2"/><polygon id="q572" points="595,323.8 1042.1,323.8 1125,383.0 1125,383.0 1086.9,410.2 595,410.2"/><polygon id="q573" points="595,323.8 1039.6,323.8 1122.5,383.0 1122.5,383.0 1084.4,410.2 595,410.2"/><polygon id="q574" points="595,323.8 1037.1,323.8 1120,383.0 1120,383.0 1081.9,410.2 595,410.2"/><polygon id="q575" points="595,323.8 1034.3,323.8 1117.2,383.0 1117.2,383.0 1079.1,410.2 595,410.2"/><polygon id="q576" points="595,323.8 1031.5,323.8 1114.3,383.0 1114.3,383.0 1076.3,410.2 595,410.2"/><polygon id="q577" points="595,323.8 1028.6,323.8 1111.5,383.0 1111.5,383.0 1073.4,410.2 595,410.2"/><polygon id="q578" points="595,323.8 1025.8,323.8 1108.7,383.0 1108.7,383.0 1070.6,410.2 595,410.2"/><polygon id="q579" points="595,323.8 1023,323.8 1105.8,383.0 1105.8,383.0 1067.8,410.2 595,410.2"/><polygon id="q580" points="595,323.8 1020.1,323.8 1103,383.0 1103,383.0 1064.9,410.2 595,410.2"/><polygon id="q581" points="595,323.8 1015.5,323.8 1098.3,383.0 1098.3,383.0 1060.3,410.2 595,410.2"/><polygon id="q582" points="595,323.8 1010.8,323.8 1093.7,383.0 1093.7,383.0 1055.6,410.2 595,410.2"/><polygon id="q583" points="595,323.8 1006.1,323.8 1089,383.0 1089,383.0 1050.9,410.2 595,410.2"/><polygon id="q584" points="595,323.8 1001.5,323.8 1084.3,383.0 1084.3,383.0 1046.3,410.2 595,410.2"/><polygon id="q585" points="595,323.8 996.8,323.8 1079.7,383.0 1079.7,383.0 1041.6,410.2 595,410.2"/><polygon id="q586" points="595,323.8 992.1,323.8 1075,383.0 1075,383.0 1036.9,410.2 595,410.2"/><polygon id="q587" points="595,323.8 992.5,323.8 1061.6,383.0 1061.6,383.0 1029.8,410.2 595,410.2"/><polygon id="q588" points="595,323.8 992.9,323.8 1048.2,383.0 1048.2,383.0 1022.8,410.2 595,410.2"/><polygon id="q589" points="595,323.8 993.3,323.8 1034.8,383.0 1034.8,383.0 1015.7,410.2 595,410.2"/><polygon id="q590" points="595,323.8 993.7,323.8 1021.3,383.0 1021.3,383.0 1008.6,410.2 595,410.2"/><polygon id="q591" points="595,323.8 994.1,323.8 1007.9,383.0 1007.9,383.0 1001.6,410.2 595,410.2"/><clipPath id="cp592"><polygon points="1000.5,387.5 1041,391.5 1109,354.0 1159,383.0 1124,408.0 1035,408.0 1002,392.5 1000.5,392.5"/></clipPath><clipPath id="cr593"><rect x="1164.50" y="326.80" width="164.00" height="80.40"/></clipPath><linearGradient id="lg594" gradientUnits="userSpaceOnUse" x1="1164.50" y1="0.00" x2="1564.50" y2="0.00"><stop offset="0.0000" stop-color="#d71414"/><stop offset="0.3500" stop-color="#f02814"/><stop offset="0.5000" stop-color="#ff8200"/><stop offset="0.6500" stop-color="#ffe600"/><stop offset="0.8000" stop-color="#ffff50"/><stop offset="1.0000" stop-color="#ffffc8"/></linearGradient><polygon id="q595" points="764.5,323.8 1294,323.8 1329,365.0 1329,365.0 1290.6,410.2 764.5,410.2"/><polygon id="q596" points="764.5,323.8 1289.3,323.8 1324.3,365.0 1324.3,365.0 1285.9,410.2 764.5,410.2"/><polygon id="q597" points="764.5,323.8 1284.6,323.8 1319.7,365.0 1319.7,365.0 1281.2,410.2 764.5,410.2"/><polygon id="q598" points="764.5,323.8 1280,323.8 1315,365.0 1315,365.0 1276.6,410.2 764.5,410.2"/><polygon id="q599" points="764.5,323.8 1275.3,323.8 1310.3,365.0 1310.3,365.0 1271.9,410.2 764.5,410.2"/><polygon id="q600" points="764.5,323.8 1270.6,323.8 1305.7,365.0 1305.7,365.0 1267.2,410.2 764.5,410.2"/><polygon id="q601" points="764.5,323.8 1266,323.8 1301,365.0 1301,365.0 1262.6,410.2 764.5,410.2"/><polygon id="q602" points="764.5,323.8 1263.8,323.8 1298.8,365.0 1298.8,365.0 1260.4,410.2 764.5,410.2"/><polygon id="q603" points="764.5,323.8 1261.6,323.8 1296.7,365.0 1296.7,365.0 1258.2,410.2 764.5,410.2"/><polygon id="q604" points="764.5,323.8 1259.5,323.8 1294.5,365.0 1294.5,365.0 1256.1,410.2 764.5,410.2"/><polygon id="q605" points="764.5,323.8 1257.3,323.8 1292.3,365.0 1292.3,365.0 1253.9,410.2 764.5,410.2"/><polygon id="q606" points="764.5,323.8 1255.1,323.8 1290.2,365.0 1290.2,365.0 1251.7,410.2 764.5,410.2"/><polygon id="q607" points="764.5,323.8 1253,323.8 1288,365.0 1288,365.0 1249.6,410.2 764.5,410.2"/><polygon id="q608" points="764.5,323.8 1249.6,323.8 1284.7,365.0 1284.7,365.0 1246.2,410.2 764.5,410.2"/><polygon id="q609" points="764.5,323.8 1246.3,323.8 1281.3,365.0 1281.3,365.0 1242.9,410.2 764.5,410.2"/><polygon id="q610" points="764.5,323.8 1243,323.8 1278,365.0 1278,365.0 1239.6,410.2 764.5,410.2"/><polygon id="q611" points="764.5,323.8 1239.6,323.8 1274.7,365.0 1274.7,365.0 1236.2,410.2 764.5,410.2"/><polygon id="q612" points="764.5,323.8 1236.3,323.8 1271.3,365.0 1271.3,365.0 1232.9,410.2 764.5,410.2"/><polygon id="q613" points="764.5,323.8 1233,323.8 1268,365.0 1268,365.0 1229.6,410.2 764.5,410.2"/><polygon id="q614" points="764.5,323.8 1227,323.8 1262,365.0 1262,365.0 1223.6,410.2 764.5,410.2"/><polygon id="q615" points="764.5,323.8 1221,323.8 1256,365.0 1256,365.0 1217.6,410.2 764.5,410.2"/><polygon id="q616" points="764.5,323.8 1215,323.8 1250,365.0 1250,365.0 1211.6,410.2 764.5,410.2"/><polygon id="q617" points="764.5,323.8 1209,323.8 1244,365.0 1244,365.0 1205.6,410.2 764.5,410.2"/><polygon id="q618" points="764.5,323.8 1203,323.8 1238,365.0 1238,365.0 1199.6,410.2 764.5,410.2"/><polygon id="q619" points="764.5,323.8 1197,323.8 1232,365.0 1232,365.0 1193.6,410.2 764.5,410.2"/><polygon id="q620" points="764.5,323.8 1191.5,323.8 1220.7,365.0 1220.7,365.0 1188.6,410.2 764.5,410.2"/><polygon id="q621" points="764.5,323.8 1186,323.8 1209.3,365.0 1209.3,365.0 1183.7,410.2 764.5,410.2"/><polygon id="q622" points="764.5,323.8 1180.5,323.8 1198,365.0 1198,365.0 1178.8,410.2 764.5,410.2"/><polygon id="q623" points="764.5,323.8 1175,323.8 1186.7,365.0 1186.7,365.0 1173.9,410.2 764.5,410.2"/><polygon id="q624" points="764.5,323.8 1169.5,323.8 1175.3,365.0 1175.3,365.0 1168.9,410.2 764.5,410.2"/><clipPath id="cp625"><polygon points="1200,352.0 1244,326.0 1264,326.0 1329,366.0 1265,402.0 1200,362.0"/></clipPath><clipPath id="cr626"><rect x="1334.00" y="326.80" width="164.00" height="80.40"/></clipPath><linearGradient id="lg627" gradientUnits="userSpaceOnUse" x1="1334.00" y1="0.00" x2="1734.00" y2="0.00"><stop offset="0.0000" stop-color="#d71414"/><stop offset="0.3500" stop-color="#f02814"/><stop offset="0.5000" stop-color="#ff8200"/><stop offset="0.6500" stop-color="#ffe600"/><stop offset="0.8000" stop-color="#ffff50"/><stop offset="1.0000" stop-color="#ffffc8"/></linearGradient><polygon id="q628" points="934,323.8 1537.1,323.8 1530,320.0 1530,320.0 1435.3,410.2 934,410.2"/><polygon id="q629" points="934,323.8 1528.5,323.8 1521.3,320.0 1521.3,320.0 1426.6,410.2 934,410.2"/><polygon id="q630" points="934,323.8 1519.8,323.8 1512.7,320.0 1512.7,320.0 1418,410.2 934,410.2"/><polygon id="q631" points="934,323.8 1511.1,323.8 1504,320.0 1504,320.0 1409.3,410.2 934,410.2"/><polygon id="q632" points="934,323.8 1502.5,323.8 1495.3,320.0 1495.3,320.0 1400.6,410.2 934,410.2"/><polygon id="q633" points="934,323.8 1493.8,323.8 1486.7,320.0 1486.7,320.0 1392,410.2 934,410.2"/><polygon id="q634" points="934,323.8 1485.1,323.8 1478,320.0 1478,320.0 1383.3,410.2 934,410.2"/><polygon id="q635" points="934,323.8 1482.5,323.8 1475.3,320.0 1475.3,320.0 1380.6,410.2 934,410.2"/><polygon id="q636" points="934,323.8 1479.8,323.8 1472.7,320.0 1472.7,320.0 1378,410.2 934,410.2"/><polygon id="q637" points="934,323.8 1477.1,323.8 1470,320.0 1470,320.0 1375.3,410.2 934,410.2"/><polygon id="q638" points="934,323.8 1474.5,323.8 1467.3,320.0 1467.3,320.0 1372.6,410.2 934,410.2"/><polygon id="q639" points="934,323.8 1471.8,323.8 1464.7,320.0 1464.7,320.0 1370,410.2 934,410.2"/><polygon id="q640" points="934,323.8 1469.1,323.8 1462,320.0 1462,320.0 1367.3,410.2 934,410.2"/><polygon id="q641" points="934,323.8 1466.6,323.8 1459.5,320.0 1459.5,320.0 1364.8,410.2 934,410.2"/><polygon id="q642" points="934,323.8 1464.1,323.8 1457,320.0 1457,320.0 1362.3,410.2 934,410.2"/><polygon id="q643" points="934,323.8 1461.6,323.8 1454.5,320.0 1454.5,320.0 1359.8,410.2 934,410.2"/><polygon id="q644" points="934,323.8 1459.1,323.8 1452,320.0 1452,320.0 1357.3,410.2 934,410.2"/><polygon id="q645" points="934,323.8 1456.6,323.8 1449.5,320.0 1449.5,320.0 1354.8,410.2 934,410.2"/><polygon id="q646" points="934,323.8 1454.1,323.8 1447,320.0 1447,320.0 1352.3,410.2 934,410.2"/><polygon id="q647" points="934,323.8 1446.6,323.8 1439.5,320.0 1439.5,320.0 1344.8,410.2 934,410.2"/><polygon id="q648" points="934,323.8 1439.1,323.8 1432,320.0 1432,320.0 1337.3,410.2 934,410.2"/><polygon id="q649" points="934,323.8 1431.6,323.8 1424.5,320.0 1424.5,320.0 1329.8,410.2 934,410.2"/><polygon id="q650" points="934,323.8 1424.1,323.8 1417,320.0 1417,320.0 1322.3,410.2 934,410.2"/><polygon id="q651" points="934,323.8 1416.6,323.8 1409.5,320.0 1409.5,320.0 1314.8,410.2 934,410.2"/><polygon id="q652" points="934,323.8 1409.1,323.8 1402,320.0 1402,320.0 1307.3,410.2 934,410.2"/><polygon id="q653" points="934,323.8 1396.5,323.8 1390.6,320.0 1390.6,320.0 1311.7,410.2 934,410.2"/><polygon id="q654" points="934,323.8 1383.9,323.8 1379.2,320.0 1379.2,320.0 1316,410.2 934,410.2"/><polygon id="q655" points="934,323.8 1371.3,323.8 1367.8,320.0 1367.8,320.0 1320.4,410.2 934,410.2"/><polygon id="q656" points="934,323.8 1358.7,323.8 1356.3,320.0 1356.3,320.0 1324.8,410.2 934,410.2"/><polygon id="q657" points="934,323.8 1346.1,323.8 1344.9,320.0 1344.9,320.0 1329.1,410.2 934,410.2"/><clipPath id="cp658"><polygon points="1346.5,352.0 1389.7,326.0 1481.5,326.0 1499,337.0 1499,341.0 1416,389.0 1346.5,361.0"/></clipPath><clipPath id="cr659"><rect x="825.50" y="413.30" width="164.00" height="80.40"/></clipPath><linearGradient id="lg660" gradientUnits="userSpaceOnUse" x1="825.50" y1="0.00" x2="986.50" y2="0.00"><stop offset="0.0000" stop-color="#820f0f"/><stop offset="0.1907" stop-color="#b40a0a"/><stop offset="0.2404" stop-color="#f00505"/><stop offset="0.4118" stop-color="#ff2800"/><stop offset="0.4429" stop-color="#ff6400"/><stop offset="0.5994" stop-color="#ffbe00"/><stop offset="0.6366" stop-color="#ffeb00"/><stop offset="0.7571" stop-color="#ffff14"/><stop offset="0.8006" stop-color="#ffff8c"/><stop offset="1.0000" stop-color="#fcfcd0"/></linearGradient><clipPath id="cp661"><polygon points="823.5,411.3 986.5,411.3 986.5,495.7 823.5,495.7"/></clipPath><clipPath id="cr662"><rect x="995.00" y="413.30" width="164.00" height="80.40"/></clipPath><linearGradient id="lg663" gradientUnits="userSpaceOnUse" x1="995.00" y1="0.00" x2="1157.50" y2="0.00"><stop offset="0.0000" stop-color="#820f0f"/><stop offset="0.1920" stop-color="#b40a0a"/><stop offset="0.2412" stop-color="#f00505"/><stop offset="0.4271" stop-color="#ff2800"/><stop offset="0.4578" stop-color="#ff6400"/><stop offset="0.6123" stop-color="#ffbe00"/><stop offset="0.6492" stop-color="#ffeb00"/><stop offset="0.7926" stop-color="#ffff14"/><stop offset="0.8357" stop-color="#ffff8c"/><stop offset="1.0000" stop-color="#fcfcd0"/></linearGradient><clipPath id="cp664"><polygon points="993,411.3 1157.5,411.3 1157.5,495.7 993,495.7"/></clipPath><clipPath id="cr665"><rect x="825.50" y="498.60" width="164.00" height="80.40"/></clipPath><linearGradient id="lg666" gradientUnits="userSpaceOnUse" x1="825.50" y1="0.00" x2="986.50" y2="0.00"><stop offset="0.0000" stop-color="#820f0f"/><stop offset="0.1907" stop-color="#b40a0a"/><stop offset="0.2404" stop-color="#f00505"/><stop offset="0.4441" stop-color="#ff2800"/><stop offset="0.4752" stop-color="#ff6400"/><stop offset="0.5994" stop-color="#ffbe00"/><stop offset="0.6366" stop-color="#ffeb00"/><stop offset="0.7969" stop-color="#ffff14"/><stop offset="0.8404" stop-color="#ffff8c"/><stop offset="1.0000" stop-color="#fcfcd0"/></linearGradient><clipPath id="cp667"><polygon points="823.5,496.6 986.5,496.6 986.5,581.0 823.5,581.0"/></clipPath><clipPath id="cr668"><rect x="995.00" y="498.60" width="164.00" height="80.40"/></clipPath><linearGradient id="lg669" gradientUnits="userSpaceOnUse" x1="995.00" y1="0.00" x2="1160.00" y2="0.00"><stop offset="0.0000" stop-color="#820f0f"/><stop offset="0.1515" stop-color="#b40a0a"/><stop offset="0.2000" stop-color="#f00505"/><stop offset="0.3818" stop-color="#ff2800"/><stop offset="0.4121" stop-color="#ff6400"/><stop offset="0.6121" stop-color="#ffbe00"/><stop offset="0.6485" stop-color="#ffeb00"/><stop offset="0.7818" stop-color="#ffff14"/><stop offset="0.8242" stop-color="#ffff8c"/><stop offset="1.0000" stop-color="#fcfcd0"/></linearGradient><clipPath id="cp670"><polygon points="994,496.6 1135.7,496.6 1156.1,512.6 1156.1,567.4 1133.2,581.0 994,581.0"/></clipPath><clipPath id="cr671"><rect x="1164.50" y="413.30" width="164.00" height="80.40"/></clipPath><linearGradient id="lg672" gradientUnits="userSpaceOnUse" x1="1164.50" y1="0.00" x2="1330.00" y2="0.00"><stop offset="0.0000" stop-color="#820f0f"/><stop offset="0.1480" stop-color="#b40a0a"/><stop offset="0.1964" stop-color="#f00505"/><stop offset="0.3311" stop-color="#ff2800"/><stop offset="0.3613" stop-color="#ff6400"/><stop offset="0.5057" stop-color="#ffbe00"/><stop offset="0.5420" stop-color="#ffeb00"/><stop offset="0.6211" stop-color="#ffff14"/><stop offset="0.6634" stop-color="#ffff8c"/><stop offset="1.0000" stop-color="#fcfcd0"/></linearGradient><clipPath id="cp673"><polygon points="1163.5,411.3 1268.4,411.3 1328.3,449.2 1250.4,495.7 1163.5,495.7"/></clipPath><clipPath id="cr674"><rect x="1334.00" y="413.30" width="164.00" height="80.40"/></clipPath><polygon id="q675" points="934,410.3 1466.3,410.3 1498.6,431.4 1498.6,431.4 1389.4,496.7 934,496.7"/><polygon id="q676" points="934,410.3 1464.6,410.3 1496.7,431.8 1496.7,431.8 1389.4,496.7 934,496.7"/><polygon id="q677" points="934,410.3 1462.8,410.3 1494.7,432.1 1494.7,432.1 1389.4,496.7 934,496.7"/><polygon id="q678" points="934,410.3 1461.1,410.3 1492.8,432.5 1492.8,432.5 1389.4,496.7 934,496.7"/><polygon id="q679" points="934,410.3 1459.3,410.3 1490.8,432.9 1490.8,432.9 1389.4,496.7 934,496.7"/><polygon id="q680" points="934,410.3 1457.6,410.3 1488.9,433.3 1488.9,433.3 1389.4,496.7 934,496.7"/><polygon id="q681" points="934,410.3 1455.8,410.3 1486.9,433.6 1486.9,433.6 1389.4,496.7 934,496.7"/><polygon id="q682" points="934,410.3 1454.1,410.3 1485,434.0 1485,434.0 1389.4,496.7 934,496.7"/><polygon id="q683" points="934,410.3 1444.5,410.3 1479,435.9 1479,435.9 1389.7,496.7 934,496.7"/><polygon id="q684" points="934,410.3 1435,410.3 1473,437.7 1473,437.7 1390.1,496.7 934,496.7"/><polygon id="q685" points="934,410.3 1425.5,410.3 1467,439.6 1467,439.6 1390.4,496.7 934,496.7"/><polygon id="q686" points="934,410.3 1415.9,410.3 1461,441.4 1461,441.4 1390.8,496.7 934,496.7"/><polygon id="q687" points="934,410.3 1406.4,410.3 1455,443.3 1455,443.3 1391.1,496.7 934,496.7"/><polygon id="q688" points="934,410.3 1396.9,410.3 1449,445.1 1449,445.1 1391.5,496.7 934,496.7"/><polygon id="q689" points="934,410.3 1387.5,410.3 1443,447.0 1443,447.0 1391.9,496.7 934,496.7"/><polygon id="q690" points="934,410.3 1387.8,410.3 1435.7,444.8 1435.7,444.8 1392,496.7 934,496.7"/><polygon id="q691" points="934,410.3 1388.3,410.3 1428.4,442.5 1428.4,442.5 1392.1,496.7 934,496.7"/><polygon id="q692" points="934,410.3 1388.8,410.3 1421.1,440.3 1421.1,440.3 1392.2,496.7 934,496.7"/><polygon id="q693" points="934,410.3 1389.4,410.3 1413.9,438.1 1413.9,438.1 1392.2,496.7 934,496.7"/><polygon id="q694" points="934,410.3 1390.1,410.3 1406.6,435.9 1406.6,435.9 1392.1,496.7 934,496.7"/><polygon id="q695" points="934,410.3 1390.9,410.3 1399.3,433.6 1399.3,433.6 1392.1,496.7 934,496.7"/><polygon id="q696" points="934,410.3 1392,410.3 1392,431.4 1392,431.4 1392,496.7 934,496.7"/><polygon id="q697" points="934,410.3 1388.9,410.3 1388.9,431.4 1388.9,431.4 1388.9,496.7 934,496.7"/><polygon id="q698" points="934,410.3 1385.7,410.3 1385.7,431.4 1385.7,431.4 1385.7,496.7 934,496.7"/><polygon id="q699" points="934,410.3 1382.6,410.3 1382.6,431.4 1382.6,431.4 1382.6,496.7 934,496.7"/><polygon id="q700" points="934,410.3 1379.4,410.3 1379.4,431.4 1379.4,431.4 1379.4,496.7 934,496.7"/><polygon id="q701" points="934,410.3 1376.3,410.3 1376.3,431.4 1376.3,431.4 1376.3,496.7 934,496.7"/><polygon id="q702" points="934,410.3 1373.1,410.3 1373.1,431.4 1373.1,431.4 1373.1,496.7 934,496.7"/><polygon id="q703" points="934,410.3 1370,410.3 1370,431.4 1370,431.4 1370,496.7 934,496.7"/><polygon id="q704" points="934,410.3 1364.8,410.3 1364.8,431.4 1364.8,431.4 1364.8,496.7 934,496.7"/><polygon id="q705" points="934,410.3 1359.6,410.3 1359.6,431.4 1359.6,431.4 1359.6,496.7 934,496.7"/><polygon id="q706" points="934,410.3 1354.4,410.3 1354.4,431.4 1354.4,431.4 1354.4,496.7 934,496.7"/><polygon id="q707" points="934,410.3 1349.1,410.3 1349.1,431.4 1349.1,431.4 1349.1,496.7 934,496.7"/><polygon id="q708" points="934,410.3 1343.9,410.3 1343.9,431.4 1343.9,431.4 1343.9,496.7 934,496.7"/><polygon id="q709" points="934,410.3 1338.7,410.3 1338.7,431.4 1338.7,431.4 1338.7,496.7 934,496.7"/><clipPath id="cp710"><polygon points="1333,411.3 1467.9,411.3 1498.6,431.4 1391.4,495.7 1333,495.7"/></clipPath><clipPath id="cr711"><rect x="1164.50" y="498.60" width="164.00" height="80.40"/></clipPath><polygon id="q712" points="764.5,495.6 1278.2,495.6 1328.5,526.6 1328.5,526.6 1236,582.0 764.5,582.0"/><polygon id="q713" points="764.5,495.6 1277.5,495.6 1323.8,526.6 1323.8,526.6 1236.3,582.0 764.5,582.0"/><polygon id="q714" points="764.5,495.6 1276.7,495.6 1319.2,526.6 1319.2,526.6 1236.5,582.0 764.5,582.0"/><polygon id="q715" points="764.5,495.6 1275.9,495.6 1314.5,526.6 1314.5,526.6 1236.8,582.0 764.5,582.0"/><polygon id="q716" points="764.5,495.6 1275.1,495.6 1309.8,526.6 1309.8,526.6 1237.1,582.0 764.5,582.0"/><polygon id="q717" points="764.5,495.6 1274.3,495.6 1305.1,526.6 1305.1,526.6 1237.3,582.0 764.5,582.0"/><polygon id="q718" points="764.5,495.6 1273.6,495.6 1300.5,526.6 1300.5,526.6 1237.6,582.0 764.5,582.0"/><polygon id="q719" points="764.5,495.6 1272.8,495.6 1295.8,526.6 1295.8,526.6 1237.9,582.0 764.5,582.0"/><polygon id="q720" points="764.5,495.6 1267.3,495.6 1290.9,526.6 1290.9,526.6 1238,582.0 764.5,582.0"/><polygon id="q721" points="764.5,495.6 1261.9,495.6 1286,526.6 1286,526.6 1238.1,582.0 764.5,582.0"/><polygon id="q722" points="764.5,495.6 1256.4,495.6 1281.1,526.6 1281.1,526.6 1238.3,582.0 764.5,582.0"/><polygon id="q723" points="764.5,495.6 1251,495.6 1276.1,526.6 1276.1,526.6 1238.4,582.0 764.5,582.0"/><polygon id="q724" points="764.5,495.6 1245.5,495.6 1271.2,526.6 1271.2,526.6 1238.5,582.0 764.5,582.0"/><polygon id="q725" points="764.5,495.6 1240.1,495.6 1266.3,526.6 1266.3,526.6 1238.6,582.0 764.5,582.0"/><polygon id="q726" points="764.5,495.6 1234.6,495.6 1261.4,526.6 1261.4,526.6 1238.8,582.0 764.5,582.0"/><polygon id="q727" points="764.5,495.6 1233.3,495.6 1256.3,526.6 1256.3,526.6 1236.9,582.0 764.5,582.0"/><polygon id="q728" points="764.5,495.6 1232.1,495.6 1251.2,526.6 1251.2,526.6 1235,582.0 764.5,582.0"/><polygon id="q729" points="764.5,495.6 1230.8,495.6 1246.1,526.6 1246.1,526.6 1233.2,582.0 764.5,582.0"/><polygon id="q730" points="764.5,495.6 1229.5,495.6 1241,526.6 1241,526.6 1231.3,582.0 764.5,582.0"/><polygon id="q731" points="764.5,495.6 1228.2,495.6 1235.9,526.6 1235.9,526.6 1229.4,582.0 764.5,582.0"/><polygon id="q732" points="764.5,495.6 1227,495.6 1230.8,526.6 1230.8,526.6 1227.6,582.0 764.5,582.0"/><polygon id="q733" points="764.5,495.6 1225.7,495.6 1225.7,526.6 1225.7,526.6 1225.7,582.0 764.5,582.0"/><polygon id="q734" points="764.5,495.6 1221.7,495.6 1221.7,526.6 1221.7,526.6 1221.7,582.0 764.5,582.0"/><polygon id="q735" points="764.5,495.6 1217.7,495.6 1217.7,526.6 1217.7,526.6 1217.7,582.0 764.5,582.0"/><polygon id="q736" points="764.5,495.6 1213.7,495.6 1213.7,526.6 1213.7,526.6 1213.7,582.0 764.5,582.0"/><polygon id="q737" points="764.5,495.6 1209.7,495.6 1209.7,526.6 1209.7,526.6 1209.7,582.0 764.5,582.0"/><polygon id="q738" points="764.5,495.6 1205.7,495.6 1205.7,526.6 1205.7,526.6 1205.7,582.0 764.5,582.0"/><polygon id="q739" points="764.5,495.6 1201.7,495.6 1201.7,526.6 1201.7,526.6 1201.7,582.0 764.5,582.0"/><polygon id="q740" points="764.5,495.6 1197.7,495.6 1197.7,526.6 1197.7,526.6 1197.7,582.0 764.5,582.0"/><polygon id="q741" points="764.5,495.6 1192.9,495.6 1192.9,526.6 1192.9,526.6 1192.9,582.0 764.5,582.0"/><polygon id="q742" points="764.5,495.6 1188.1,495.6 1188.1,526.6 1188.1,526.6 1188.1,582.0 764.5,582.0"/><polygon id="q743" points="764.5,495.6 1183.3,495.6 1183.3,526.6 1183.3,526.6 1183.3,582.0 764.5,582.0"/><polygon id="q744" points="764.5,495.6 1178.4,495.6 1178.4,526.6 1178.4,526.6 1178.4,582.0 764.5,582.0"/><polygon id="q745" points="764.5,495.6 1173.6,495.6 1173.6,526.6 1173.6,526.6 1173.6,582.0 764.5,582.0"/><polygon id="q746" points="764.5,495.6 1168.8,495.6 1168.8,526.6 1168.8,526.6 1168.8,582.0 764.5,582.0"/><clipPath id="cp747"><polygon points="764.5,495.6 1278.2,495.6 1328.5,526.6 1328.5,526.6 1236,582.0 764.5,582.0"/></clipPath><clipPath id="cr748"><rect x="1334.00" y="498.60" width="164.00" height="80.40"/></clipPath><polygon id="q749" points="934,495.6 1420.2,495.6 1498.6,544.4 1498.6,544.4 1438.1,582.0 934,582.0"/><polygon id="q750" points="934,495.6 1419.3,495.6 1495.7,544.4 1495.7,544.4 1436.5,582.0 934,582.0"/><polygon id="q751" points="934,495.6 1418.4,495.6 1492.9,544.4 1492.9,544.4 1435,582.0 934,582.0"/><polygon id="q752" points="934,495.6 1417.5,495.6 1490,544.4 1490,544.4 1433.5,582.0 934,582.0"/><polygon id="q753" points="934,495.6 1416.7,495.6 1487.1,544.4 1487.1,544.4 1431.9,582.0 934,582.0"/><polygon id="q754" points="934,495.6 1415.8,495.6 1484.2,544.4 1484.2,544.4 1430.4,582.0 934,582.0"/><polygon id="q755" points="934,495.6 1414.9,495.6 1481.4,544.4 1481.4,544.4 1428.9,582.0 934,582.0"/><polygon id="q756" points="934,495.6 1414,495.6 1478.5,544.4 1478.5,544.4 1427.3,582.0 934,582.0"/><polygon id="q757" points="934,495.6 1409.5,495.6 1474,544.4 1474,544.4 1423.3,582.0 934,582.0"/><polygon id="q758" points="934,495.6 1404.9,495.6 1469.4,544.4 1469.4,544.4 1419.3,582.0 934,582.0"/><polygon id="q759" points="934,495.6 1400.3,495.6 1464.9,544.4 1464.9,544.4 1415.3,582.0 934,582.0"/><polygon id="q760" points="934,495.6 1395.7,495.6 1460.3,544.4 1460.3,544.4 1411.3,582.0 934,582.0"/><polygon id="q761" points="934,495.6 1391.2,495.6 1455.8,544.4 1455.8,544.4 1407.2,582.0 934,582.0"/><polygon id="q762" points="934,495.6 1386.6,495.6 1451.2,544.4 1451.2,544.4 1403.2,582.0 934,582.0"/><polygon id="q763" points="934,495.6 1382,495.6 1446.7,544.4 1446.7,544.4 1399.2,582.0 934,582.0"/><polygon id="q764" points="934,495.6 1382.5,495.6 1438.1,544.4 1438.1,544.4 1397.4,582.0 934,582.0"/><polygon id="q765" points="934,495.6 1383,495.6 1429.6,544.4 1429.6,544.4 1395.7,582.0 934,582.0"/><polygon id="q766" points="934,495.6 1383.5,495.6 1421,544.4 1421,544.4 1393.9,582.0 934,582.0"/><polygon id="q767" points="934,495.6 1384,495.6 1412.5,544.4 1412.5,544.4 1392.1,582.0 934,582.0"/><polygon id="q768" points="934,495.6 1384.4,495.6 1403.9,544.4 1403.9,544.4 1390.3,582.0 934,582.0"/><polygon id="q769" points="934,495.6 1384.9,495.6 1395.4,544.4 1395.4,544.4 1388.6,582.0 934,582.0"/><polygon id="q770" points="934,495.6 1385.4,495.6 1386.8,544.4 1386.8,544.4 1386.8,582.0 934,582.0"/><polygon id="q771" points="934,495.6 1382.9,495.6 1384.1,544.4 1384.1,544.4 1384.1,582.0 934,582.0"/><polygon id="q772" points="934,495.6 1380.4,495.6 1381.3,544.4 1381.3,544.4 1381.3,582.0 934,582.0"/><polygon id="q773" points="934,495.6 1377.8,495.6 1378.6,544.4 1378.6,544.4 1378.6,582.0 934,582.0"/><polygon id="q774" points="934,495.6 1375.3,495.6 1375.9,544.4 1375.9,544.4 1375.9,582.0 934,582.0"/><polygon id="q775" points="934,495.6 1372.8,495.6 1373.2,544.4 1373.2,544.4 1373.2,582.0 934,582.0"/><polygon id="q776" points="934,495.6 1370.2,495.6 1370.4,544.4 1370.4,544.4 1370.4,582.0 934,582.0"/><polygon id="q777" points="934,495.6 1367.7,495.6 1367.7,544.4 1367.7,544.4 1367.7,582.0 934,582.0"/><polygon id="q778" points="934,495.6 1362.8,495.6 1362.8,544.4 1362.8,544.4 1362.8,582.0 934,582.0"/><polygon id="q779" points="934,495.6 1357.9,495.6 1357.9,544.4 1357.9,544.4 1357.9,582.0 934,582.0"/><polygon id="q780" points="934,495.6 1353,495.6 1353,544.4 1353,544.4 1353,582.0 934,582.0"/><polygon id="q781" points="934,495.6 1348.2,495.6 1348.2,544.4 1348.2,544.4 1348.2,582.0 934,582.0"/><polygon id="q782" points="934,495.6 1343.3,495.6 1343.3,544.4 1343.3,544.4 1343.3,582.0 934,582.0"/><polygon id="q783" points="934,495.6 1338.4,495.6 1338.4,544.4 1338.4,544.4 1338.4,582.0 934,582.0"/><clipPath id="cp784"><polygon points="934,495.6 1420.2,495.6 1498.6,544.4 1498.6,544.4 1438.1,582.0 934,582.0"/></clipPath><pattern id="dotsS0" patternUnits="userSpaceOnUse" x="0" y="0" width="7.200" height="4.140"><g fill="#b2b2b2"><circle cx="0.000" cy="0.000" r="0.75"/><circle cx="7.200" cy="0.000" r="0.75"/><circle cx="0.000" cy="4.140" r="0.75"/><circle cx="7.200" cy="4.140" r="0.75"/><circle cx="3.600" cy="2.070" r="0.75"/></g></pattern><pattern id="dotsB0" patternUnits="userSpaceOnUse" x="0" y="0" width="7.200" height="4.140"><g fill="#b2b2b2"><circle cx="0.000" cy="0.000" r="1.20"/><circle cx="7.200" cy="0.000" r="1.20"/><circle cx="0.000" cy="4.140" r="1.20"/><circle cx="7.200" cy="4.140" r="1.20"/><circle cx="3.600" cy="2.070" r="1.20"/></g></pattern><pattern id="dotsS1" patternUnits="userSpaceOnUse" x="0" y="0" width="7.200" height="4.140"><g fill="#b2b2b2"><circle cx="0.000" cy="0.000" r="0.75"/><circle cx="7.200" cy="0.000" r="0.75"/><circle cx="0.000" cy="4.140" r="0.75"/><circle cx="7.200" cy="4.140" r="0.75"/><circle cx="3.600" cy="2.070" r="0.75"/></g></pattern><pattern id="dotsB1" patternUnits="userSpaceOnUse" x="0" y="0" width="7.200" height="4.140"><g fill="#b2b2b2"><circle cx="0.000" cy="0.000" r="1.12"/><circle cx="7.200" cy="0.000" r="1.12"/><circle cx="0.000" cy="4.140" r="1.12"/><circle cx="7.200" cy="4.140" r="1.12"/><circle cx="3.600" cy="2.070" r="1.12"/></g></pattern><pattern id="dotsS2" patternUnits="userSpaceOnUse" x="0" y="0" width="7.200" height="4.140"><g fill="#b2b2b2"><circle cx="0.000" cy="0.000" r="0.70"/><circle cx="7.200" cy="0.000" r="0.70"/><circle cx="0.000" cy="4.140" r="0.70"/><circle cx="7.200" cy="4.140" r="0.70"/><circle cx="3.600" cy="2.070" r="0.70"/></g></pattern><pattern id="dotsB2" patternUnits="userSpaceOnUse" x="0" y="0" width="7.200" height="4.140"><g fill="#b2b2b2"><circle cx="0.000" cy="0.000" r="0.98"/><circle cx="7.200" cy="0.000" r="0.98"/><circle cx="0.000" cy="4.140" r="0.98"/><circle cx="7.200" cy="4.140" r="0.98"/><circle cx="3.600" cy="2.070" r="0.98"/></g></pattern><pattern id="dotsS3" patternUnits="userSpaceOnUse" x="0" y="0" width="7.200" height="4.140"><g fill="#b2b2b2"><circle cx="0.000" cy="0.000" r="0.62"/><circle cx="7.200" cy="0.000" r="0.62"/><circle cx="0.000" cy="4.140" r="0.62"/><circle cx="7.200" cy="4.140" r="0.62"/><circle cx="3.600" cy="2.070" r="0.62"/></g></pattern><pattern id="dotsB3" patternUnits="userSpaceOnUse" x="0" y="0" width="7.200" height="4.140"><g fill="#b2b2b2"><circle cx="0.000" cy="0.000" r="0.72"/><circle cx="7.200" cy="0.000" r="0.72"/><circle cx="0.000" cy="4.140" r="0.72"/><circle cx="7.200" cy="4.140" r="0.72"/><circle cx="3.600" cy="2.070" r="0.72"/></g></pattern><pattern id="dotsR0" patternUnits="userSpaceOnUse" x="0" y="0" width="7.200" height="4.140"><g fill="#b2b2b2"><circle cx="0.000" cy="0.000" r="1.35"/><circle cx="7.200" cy="0.000" r="1.35"/><circle cx="0.000" cy="4.140" r="1.35"/><circle cx="7.200" cy="4.140" r="1.35"/><circle cx="3.600" cy="2.070" r="1.35"/></g></pattern><pattern id="dotsR1" patternUnits="userSpaceOnUse" x="0" y="0" width="7.200" height="4.140"><g fill="#b2b2b2"><circle cx="0.000" cy="0.000" r="1.30"/><circle cx="7.200" cy="0.000" r="1.30"/><circle cx="0.000" cy="4.140" r="1.30"/><circle cx="7.200" cy="4.140" r="1.30"/><circle cx="3.600" cy="2.070" r="1.30"/></g></pattern><pattern id="dotsR2" patternUnits="userSpaceOnUse" x="0" y="0" width="7.200" height="4.140"><g fill="#b2b2b2"><circle cx="0.000" cy="0.000" r="1.08"/><circle cx="7.200" cy="0.000" r="1.08"/><circle cx="0.000" cy="4.140" r="1.08"/><circle cx="7.200" cy="4.140" r="1.08"/><circle cx="3.600" cy="2.070" r="1.08"/></g></pattern><pattern id="dotsR3" patternUnits="userSpaceOnUse" x="0" y="0" width="7.200" height="4.140"><g fill="#b2b2b2"><circle cx="0.000" cy="0.000" r="0.98"/><circle cx="7.200" cy="0.000" r="0.98"/><circle cx="0.000" cy="4.140" r="0.98"/><circle cx="7.200" cy="4.140" r="0.98"/><circle cx="3.600" cy="2.070" r="0.98"/></g></pattern><mask id="mk785" maskUnits="userSpaceOnUse" x="130.00" y="70.00" width="164" height="80.40"><rect x="130.00" y="70.00" width="164" height="80.40" fill="#fff"/><g clip-path="url(#cp3)"><rect x="128.0" y="68.0" width="168.0" height="84.4" fill="url(#lg4)"/></g></mask><mask id="mk786" maskUnits="userSpaceOnUse" x="130.00" y="70.00" width="164" height="80.40"><rect x="130.00" y="70.00" width="164" height="80.40" fill="#000"/><g clip-path="url(#cp3)"><rect x="128.0" y="68.0" width="168.0" height="84.4" fill="url(#lg5)"/></g></mask><mask id="mk787" maskUnits="userSpaceOnUse" x="299.50" y="70.00" width="164" height="80.40"><rect x="299.50" y="70.00" width="164" height="80.40" fill="#fff"/><g clip-path="url(#cp8)"><rect x="297.5" y="68.0" width="168.0" height="84.4" fill="url(#lg9)"/></g></mask><mask id="mk788" maskUnits="userSpaceOnUse" x="299.50" y="70.00" width="164" height="80.40"><rect x="299.50" y="70.00" width="164" height="80.40" fill="#000"/><g clip-path="url(#cp8)"><rect x="297.5" y="68.0" width="168.0" height="84.4" fill="url(#lg10)"/></g></mask><mask id="mk789" maskUnits="userSpaceOnUse" x="469.00" y="70.00" width="164" height="80.40"><rect x="469.00" y="70.00" width="164" height="80.40" fill="#fff"/><g clip-path="url(#cp13)"><rect x="467.0" y="68.0" width="168.0" height="84.4" fill="url(#lg14)"/></g></mask><mask id="mk790" maskUnits="userSpaceOnUse" x="469.00" y="70.00" width="164" height="80.40"><rect x="469.00" y="70.00" width="164" height="80.40" fill="#000"/><g clip-path="url(#cp13)"><rect x="467.0" y="68.0" width="168.0" height="84.4" fill="url(#lg15)"/></g></mask><mask id="mk791" maskUnits="userSpaceOnUse" x="638.50" y="70.00" width="164" height="80.40"><rect x="638.50" y="70.00" width="164" height="80.40" fill="#fff"/><g clip-path="url(#cp18)"><rect x="636.5" y="68.0" width="168.0" height="84.4" fill="url(#lg19)"/></g></mask><mask id="mk792" maskUnits="userSpaceOnUse" x="638.50" y="70.00" width="164" height="80.40"><rect x="638.50" y="70.00" width="164" height="80.40" fill="#000"/><g clip-path="url(#cp18)"><rect x="636.5" y="68.0" width="168.0" height="84.4" fill="url(#lg20)"/></g></mask><mask id="mk793" maskUnits="userSpaceOnUse" x="130.00" y="155.20" width="164" height="80.40"><rect x="130.00" y="155.20" width="164" height="80.40" fill="#fff"/><g clip-path="url(#cp23)"><rect x="128.0" y="153.2" width="168.0" height="84.4" fill="url(#lg24)"/></g></mask><mask id="mk794" maskUnits="userSpaceOnUse" x="130.00" y="155.20" width="164" height="80.40"><rect x="130.00" y="155.20" width="164" height="80.40" fill="#000"/><g clip-path="url(#cp23)"><rect x="128.0" y="153.2" width="168.0" height="84.4" fill="url(#lg25)"/></g></mask><mask id="mk795" maskUnits="userSpaceOnUse" x="299.50" y="155.20" width="164" height="80.40"><rect x="299.50" y="155.20" width="164" height="80.40" fill="#fff"/><g clip-path="url(#cp28)"><rect x="297.5" y="153.2" width="168.0" height="84.4" fill="url(#lg29)"/></g></mask><mask id="mk796" maskUnits="userSpaceOnUse" x="299.50" y="155.20" width="164" height="80.40"><rect x="299.50" y="155.20" width="164" height="80.40" fill="#000"/><g clip-path="url(#cp28)"><rect x="297.5" y="153.2" width="168.0" height="84.4" fill="url(#lg30)"/></g></mask><mask id="mk797" maskUnits="userSpaceOnUse" x="469.00" y="155.20" width="164" height="80.40"><rect x="469.00" y="155.20" width="164" height="80.40" fill="#fff"/><g clip-path="url(#cp33)"><rect x="467.0" y="153.2" width="168.0" height="84.4" fill="url(#lg34)"/></g></mask><mask id="mk798" maskUnits="userSpaceOnUse" x="469.00" y="155.20" width="164" height="80.40"><rect x="469.00" y="155.20" width="164" height="80.40" fill="#000"/><g clip-path="url(#cp33)"><rect x="467.0" y="153.2" width="168.0" height="84.4" fill="url(#lg35)"/></g></mask><mask id="mk799" maskUnits="userSpaceOnUse" x="638.50" y="155.20" width="164" height="80.40"><rect x="638.50" y="155.20" width="164" height="80.40" fill="#fff"/><g clip-path="url(#cp38)"><rect x="636.5" y="153.2" width="168.0" height="84.4" fill="url(#lg39)"/></g></mask><mask id="mk800" maskUnits="userSpaceOnUse" x="638.50" y="155.20" width="164" height="80.40"><rect x="638.50" y="155.20" width="164" height="80.40" fill="#000"/><g clip-path="url(#cp38)"><rect x="636.5" y="153.2" width="168.0" height="84.4" fill="url(#lg40)"/></g></mask><mask id="mk801" maskUnits="userSpaceOnUse" x="130.00" y="240.80" width="164" height="80.40"><rect x="130.00" y="240.80" width="164" height="80.40" fill="#fff"/><g clip-path="url(#cp43)"><rect x="128.0" y="238.8" width="168.0" height="84.4" fill="url(#lg44)"/></g></mask><mask id="mk802" maskUnits="userSpaceOnUse" x="130.00" y="240.80" width="164" height="80.40"><rect x="130.00" y="240.80" width="164" height="80.40" fill="#000"/><g clip-path="url(#cp43)"><rect x="128.0" y="238.8" width="168.0" height="84.4" fill="url(#lg45)"/></g></mask><mask id="mk803" maskUnits="userSpaceOnUse" x="299.50" y="240.80" width="164" height="80.40"><rect x="299.50" y="240.80" width="164" height="80.40" fill="#fff"/><g clip-path="url(#cp48)"><rect x="297.5" y="238.8" width="168.0" height="84.4" fill="url(#lg49)"/></g></mask><mask id="mk804" maskUnits="userSpaceOnUse" x="299.50" y="240.80" width="164" height="80.40"><rect x="299.50" y="240.80" width="164" height="80.40" fill="#000"/><g clip-path="url(#cp48)"><rect x="297.5" y="238.8" width="168.0" height="84.4" fill="url(#lg50)"/></g></mask><mask id="mk805" maskUnits="userSpaceOnUse" x="469.00" y="240.80" width="164" height="80.40"><rect x="469.00" y="240.80" width="164" height="80.40" fill="#fff"/><g clip-path="url(#cp53)"><rect x="467.0" y="238.8" width="168.0" height="84.4" fill="url(#lg54)"/></g></mask><mask id="mk806" maskUnits="userSpaceOnUse" x="469.00" y="240.80" width="164" height="80.40"><rect x="469.00" y="240.80" width="164" height="80.40" fill="#000"/><g clip-path="url(#cp53)"><rect x="467.0" y="238.8" width="168.0" height="84.4" fill="url(#lg55)"/></g></mask><mask id="mk807" maskUnits="userSpaceOnUse" x="638.50" y="240.80" width="164" height="80.40"><rect x="638.50" y="240.80" width="164" height="80.40" fill="#fff"/><g clip-path="url(#cp58)"><rect x="636.5" y="238.8" width="168.0" height="84.4" fill="url(#lg59)"/></g></mask><mask id="mk808" maskUnits="userSpaceOnUse" x="638.50" y="240.80" width="164" height="80.40"><rect x="638.50" y="240.80" width="164" height="80.40" fill="#000"/><g clip-path="url(#cp58)"><rect x="636.5" y="238.8" width="168.0" height="84.4" fill="url(#lg60)"/></g></mask><mask id="mk809" maskUnits="userSpaceOnUse" x="130.00" y="326.80" width="164" height="80.40"><rect x="130.00" y="326.80" width="164" height="80.40" fill="#fff"/><g clip-path="url(#cp63)"><rect x="128.0" y="324.8" width="168.0" height="84.4" fill="url(#lg64)"/></g></mask><mask id="mk810" maskUnits="userSpaceOnUse" x="130.00" y="326.80" width="164" height="80.40"><rect x="130.00" y="326.80" width="164" height="80.40" fill="#000"/><g clip-path="url(#cp63)"><rect x="128.0" y="324.8" width="168.0" height="84.4" fill="url(#lg65)"/></g></mask><mask id="mk811" maskUnits="userSpaceOnUse" x="299.50" y="326.80" width="164" height="80.40"><rect x="299.50" y="326.80" width="164" height="80.40" fill="#fff"/><g clip-path="url(#cp68)"><rect x="297.5" y="324.8" width="168.0" height="84.4" fill="url(#lg69)"/></g></mask><mask id="mk812" maskUnits="userSpaceOnUse" x="299.50" y="326.80" width="164" height="80.40"><rect x="299.50" y="326.80" width="164" height="80.40" fill="#000"/><g clip-path="url(#cp68)"><rect x="297.5" y="324.8" width="168.0" height="84.4" fill="url(#lg70)"/></g></mask><mask id="mk813" maskUnits="userSpaceOnUse" x="469.00" y="326.80" width="164" height="80.40"><rect x="469.00" y="326.80" width="164" height="80.40" fill="#fff"/><g clip-path="url(#cp107)"><use href="#q72" fill="#ffffff"/><use href="#q73" fill="#ffffff"/><use href="#q74" fill="#ffffff"/><use href="#q75" fill="#ffffff"/><use href="#q76" fill="#ffffff"/><use href="#q77" fill="#ffffff"/><use href="#q78" fill="#ffffff"/><use href="#q79" fill="#fbfbfb"/><use href="#q80" fill="#f3f3f3"/><use href="#q81" fill="#ebebeb"/><use href="#q82" fill="#e4e4e4"/><use href="#q83" fill="#dcdcdc"/><use href="#q84" fill="#d4d4d4"/><use href="#q85" fill="#cccccc"/><use href="#q86" fill="#999999"/><use href="#q87" fill="#8b8b8b"/><use href="#q88" fill="#7c7c7c"/><use href="#q89" fill="#6e6e6e"/><use href="#q90" fill="#606060"/><use href="#q91" fill="#515151"/><use href="#q92" fill="#434343"/><use href="#q93" fill="#000000"/><use href="#q94" fill="#000000"/><use href="#q95" fill="#000000"/><use href="#q96" fill="#000000"/><use href="#q97" fill="#000000"/><use href="#q98" fill="#000000"/><use href="#q99" fill="#000000"/><use href="#q100" fill="#000000"/><use href="#q101" fill="#000000"/><use href="#q102" fill="#000000"/><use href="#q103" fill="#000000"/><use href="#q104" fill="#000000"/><use href="#q105" fill="#000000"/><use href="#q106" fill="#000000"/></g></mask><mask id="mk814" maskUnits="userSpaceOnUse" x="469.00" y="326.80" width="164" height="80.40"><rect x="469.00" y="326.80" width="164" height="80.40" fill="#000"/><g clip-path="url(#cp107)"><use href="#q72" fill="#000000"/><use href="#q73" fill="#000000"/><use href="#q74" fill="#000000"/><use href="#q75" fill="#000000"/><use href="#q76" fill="#000000"/><use href="#q77" fill="#000000"/><use href="#q78" fill="#000000"/><use href="#q79" fill="#040404"/><use href="#q80" fill="#0c0c0c"/><use href="#q81" fill="#141414"/><use href="#q82" fill="#1c1c1c"/><use href="#q83" fill="#232323"/><use href="#q84" fill="#2b2b2b"/><use href="#q85" fill="#333333"/><use href="#q86" fill="#666666"/><use href="#q87" fill="#747474"/><use href="#q88" fill="#838383"/><use href="#q89" fill="#919191"/><use href="#q90" fill="#9f9f9f"/><use href="#q91" fill="#aeaeae"/><use href="#q92" fill="#bcbcbc"/><use href="#q93" fill="#ffffff"/><use href="#q94" fill="#ffffff"/><use href="#q95" fill="#ffffff"/><use href="#q96" fill="#ffffff"/><use href="#q97" fill="#ffffff"/><use href="#q98" fill="#ffffff"/><use href="#q99" fill="#ffffff"/><use href="#q100" fill="#ffffff"/><use href="#q101" fill="#ffffff"/><use href="#q102" fill="#ffffff"/><use href="#q103" fill="#ffffff"/><use href="#q104" fill="#ffffff"/><use href="#q105" fill="#ffffff"/><use href="#q106" fill="#ffffff"/></g></mask><mask id="mk815" maskUnits="userSpaceOnUse" x="638.50" y="326.80" width="164" height="80.40"><rect x="638.50" y="326.80" width="164" height="80.40" fill="#fff"/><g clip-path="url(#cp144)"><use href="#q109" fill="#ffffff"/><use href="#q110" fill="#ffffff"/><use href="#q111" fill="#ffffff"/><use href="#q112" fill="#ffffff"/><use href="#q113" fill="#ffffff"/><use href="#q114" fill="#ffffff"/><use href="#q115" fill="#ffffff"/><use href="#q116" fill="#fbfbfb"/><use href="#q117" fill="#f3f3f3"/><use href="#q118" fill="#ebebeb"/><use href="#q119" fill="#e4e4e4"/><use href="#q120" fill="#dcdcdc"/><use href="#q121" fill="#d4d4d4"/><use href="#q122" fill="#cccccc"/><use href="#q123" fill="#999999"/><use href="#q124" fill="#8b8b8b"/><use href="#q125" fill="#7c7c7c"/><use href="#q126" fill="#6e6e6e"/><use href="#q127" fill="#606060"/><use href="#q128" fill="#515151"/><use href="#q129" fill="#434343"/><use href="#q130" fill="#000000"/><use href="#q131" fill="#000000"/><use href="#q132" fill="#000000"/><use href="#q133" fill="#000000"/><use href="#q134" fill="#000000"/><use href="#q135" fill="#000000"/><use href="#q136" fill="#000000"/><use href="#q137" fill="#000000"/><use href="#q138" fill="#000000"/><use href="#q139" fill="#000000"/><use href="#q140" fill="#000000"/><use href="#q141" fill="#000000"/><use href="#q142" fill="#000000"/><use href="#q143" fill="#000000"/></g></mask><mask id="mk816" maskUnits="userSpaceOnUse" x="638.50" y="326.80" width="164" height="80.40"><rect x="638.50" y="326.80" width="164" height="80.40" fill="#000"/><g clip-path="url(#cp144)"><use href="#q109" fill="#000000"/><use href="#q110" fill="#000000"/><use href="#q111" fill="#000000"/><use href="#q112" fill="#000000"/><use href="#q113" fill="#000000"/><use href="#q114" fill="#000000"/><use href="#q115" fill="#000000"/><use href="#q116" fill="#040404"/><use href="#q117" fill="#0c0c0c"/><use href="#q118" fill="#141414"/><use href="#q119" fill="#1c1c1c"/><use href="#q120" fill="#232323"/><use href="#q121" fill="#2b2b2b"/><use href="#q122" fill="#333333"/><use href="#q123" fill="#666666"/><use href="#q124" fill="#747474"/><use href="#q125" fill="#838383"/><use href="#q126" fill="#919191"/><use href="#q127" fill="#9f9f9f"/><use href="#q128" fill="#aeaeae"/><use href="#q129" fill="#bcbcbc"/><use href="#q130" fill="#ffffff"/><use href="#q131" fill="#ffffff"/><use href="#q132" fill="#ffffff"/><use href="#q133" fill="#ffffff"/><use href="#q134" fill="#ffffff"/><use href="#q135" fill="#ffffff"/><use href="#q136" fill="#ffffff"/><use href="#q137" fill="#ffffff"/><use href="#q138" fill="#ffffff"/><use href="#q139" fill="#ffffff"/><use href="#q140" fill="#ffffff"/><use href="#q141" fill="#ffffff"/><use href="#q142" fill="#ffffff"/><use href="#q143" fill="#ffffff"/></g></mask><mask id="mk817" maskUnits="userSpaceOnUse" x="638.50" y="413.30" width="164" height="80.40"><rect x="638.50" y="413.30" width="164" height="80.40" fill="#fff"/><g clip-path="url(#cp181)"><use href="#q146" fill="#ffffff"/><use href="#q147" fill="#ffffff"/><use href="#q148" fill="#ffffff"/><use href="#q149" fill="#ffffff"/><use href="#q150" fill="#ffffff"/><use href="#q151" fill="#ffffff"/><use href="#q152" fill="#ffffff"/><use href="#q153" fill="#fbfbfb"/><use href="#q154" fill="#f3f3f3"/><use href="#q155" fill="#ebebeb"/><use href="#q156" fill="#e4e4e4"/><use href="#q157" fill="#dcdcdc"/><use href="#q158" fill="#d4d4d4"/><use href="#q159" fill="#cccccc"/><use href="#q160" fill="#999999"/><use href="#q161" fill="#8b8b8b"/><use href="#q162" fill="#7c7c7c"/><use href="#q163" fill="#6e6e6e"/><use href="#q164" fill="#606060"/><use href="#q165" fill="#515151"/><use href="#q166" fill="#434343"/><use href="#q167" fill="#000000"/><use href="#q168" fill="#000000"/><use href="#q169" fill="#000000"/><use href="#q170" fill="#000000"/><use href="#q171" fill="#000000"/><use href="#q172" fill="#000000"/><use href="#q173" fill="#000000"/><use href="#q174" fill="#000000"/><use href="#q175" fill="#000000"/><use href="#q176" fill="#000000"/><use href="#q177" fill="#000000"/><use href="#q178" fill="#000000"/><use href="#q179" fill="#000000"/><use href="#q180" fill="#000000"/></g></mask><mask id="mk818" maskUnits="userSpaceOnUse" x="638.50" y="413.30" width="164" height="80.40"><rect x="638.50" y="413.30" width="164" height="80.40" fill="#000"/><g clip-path="url(#cp181)"><use href="#q146" fill="#000000"/><use href="#q147" fill="#000000"/><use href="#q148" fill="#000000"/><use href="#q149" fill="#000000"/><use href="#q150" fill="#000000"/><use href="#q151" fill="#000000"/><use href="#q152" fill="#000000"/><use href="#q153" fill="#040404"/><use href="#q154" fill="#0c0c0c"/><use href="#q155" fill="#141414"/><use href="#q156" fill="#1c1c1c"/><use href="#q157" fill="#232323"/><use href="#q158" fill="#2b2b2b"/><use href="#q159" fill="#333333"/><use href="#q160" fill="#666666"/><use href="#q161" fill="#747474"/><use href="#q162" fill="#838383"/><use href="#q163" fill="#919191"/><use href="#q164" fill="#9f9f9f"/><use href="#q165" fill="#aeaeae"/><use href="#q166" fill="#bcbcbc"/><use href="#q167" fill="#ffffff"/><use href="#q168" fill="#ffffff"/><use href="#q169" fill="#ffffff"/><use href="#q170" fill="#ffffff"/><use href="#q171" fill="#ffffff"/><use href="#q172" fill="#ffffff"/><use href="#q173" fill="#ffffff"/><use href="#q174" fill="#ffffff"/><use href="#q175" fill="#ffffff"/><use href="#q176" fill="#ffffff"/><use href="#q177" fill="#ffffff"/><use href="#q178" fill="#ffffff"/><use href="#q179" fill="#ffffff"/><use href="#q180" fill="#ffffff"/></g></mask><mask id="mk819" maskUnits="userSpaceOnUse" x="638.50" y="498.60" width="164" height="80.40"><rect x="638.50" y="498.60" width="164" height="80.40" fill="#fff"/><g clip-path="url(#cp218)"><use href="#q183" fill="#ffffff"/><use href="#q184" fill="#ffffff"/><use href="#q185" fill="#ffffff"/><use href="#q186" fill="#ffffff"/><use href="#q187" fill="#ffffff"/><use href="#q188" fill="#ffffff"/><use href="#q189" fill="#ffffff"/><use href="#q190" fill="#fbfbfb"/><use href="#q191" fill="#f3f3f3"/><use href="#q192" fill="#ebebeb"/><use href="#q193" fill="#e4e4e4"/><use href="#q194" fill="#dcdcdc"/><use href="#q195" fill="#d4d4d4"/><use href="#q196" fill="#cccccc"/><use href="#q197" fill="#999999"/><use href="#q198" fill="#8b8b8b"/><use href="#q199" fill="#7c7c7c"/><use href="#q200" fill="#6e6e6e"/><use href="#q201" fill="#606060"/><use href="#q202" fill="#515151"/><use href="#q203" fill="#434343"/><use href="#q204" fill="#000000"/><use href="#q205" fill="#000000"/><use href="#q206" fill="#000000"/><use href="#q207" fill="#000000"/><use href="#q208" fill="#000000"/><use href="#q209" fill="#000000"/><use href="#q210" fill="#000000"/><use href="#q211" fill="#000000"/><use href="#q212" fill="#000000"/><use href="#q213" fill="#000000"/><use href="#q214" fill="#000000"/><use href="#q215" fill="#000000"/><use href="#q216" fill="#000000"/><use href="#q217" fill="#000000"/></g></mask><mask id="mk820" maskUnits="userSpaceOnUse" x="638.50" y="498.60" width="164" height="80.40"><rect x="638.50" y="498.60" width="164" height="80.40" fill="#000"/><g clip-path="url(#cp218)"><use href="#q183" fill="#000000"/><use href="#q184" fill="#000000"/><use href="#q185" fill="#000000"/><use href="#q186" fill="#000000"/><use href="#q187" fill="#000000"/><use href="#q188" fill="#000000"/><use href="#q189" fill="#000000"/><use href="#q190" fill="#040404"/><use href="#q191" fill="#0c0c0c"/><use href="#q192" fill="#141414"/><use href="#q193" fill="#1c1c1c"/><use href="#q194" fill="#232323"/><use href="#q195" fill="#2b2b2b"/><use href="#q196" fill="#333333"/><use href="#q197" fill="#666666"/><use href="#q198" fill="#747474"/><use href="#q199" fill="#838383"/><use href="#q200" fill="#919191"/><use href="#q201" fill="#9f9f9f"/><use href="#q202" fill="#aeaeae"/><use href="#q203" fill="#bcbcbc"/><use href="#q204" fill="#ffffff"/><use href="#q205" fill="#ffffff"/><use href="#q206" fill="#ffffff"/><use href="#q207" fill="#ffffff"/><use href="#q208" fill="#ffffff"/><use href="#q209" fill="#ffffff"/><use href="#q210" fill="#ffffff"/><use href="#q211" fill="#ffffff"/><use href="#q212" fill="#ffffff"/><use href="#q213" fill="#ffffff"/><use href="#q214" fill="#ffffff"/><use href="#q215" fill="#ffffff"/><use href="#q216" fill="#ffffff"/><use href="#q217" fill="#ffffff"/></g></mask><mask id="mk821" maskUnits="userSpaceOnUse" x="130.00" y="413.30" width="164" height="80.40"><rect x="130.00" y="413.30" width="164" height="80.40" fill="#fff"/><g clip-path="url(#cp255)"><use href="#q220" fill="#ffffff"/><use href="#q221" fill="#ffffff"/><use href="#q222" fill="#ffffff"/><use href="#q223" fill="#ffffff"/><use href="#q224" fill="#ffffff"/><use href="#q225" fill="#ffffff"/><use href="#q226" fill="#ffffff"/><use href="#q227" fill="#fbfbfb"/><use href="#q228" fill="#f3f3f3"/><use href="#q229" fill="#ebebeb"/><use href="#q230" fill="#e4e4e4"/><use href="#q231" fill="#dcdcdc"/><use href="#q232" fill="#d4d4d4"/><use href="#q233" fill="#cccccc"/><use href="#q234" fill="#999999"/><use href="#q235" fill="#8b8b8b"/><use href="#q236" fill="#7c7c7c"/><use href="#q237" fill="#6e6e6e"/><use href="#q238" fill="#606060"/><use href="#q239" fill="#515151"/><use href="#q240" fill="#434343"/><use href="#q241" fill="#000000"/><use href="#q242" fill="#000000"/><use href="#q243" fill="#000000"/><use href="#q244" fill="#000000"/><use href="#q245" fill="#000000"/><use href="#q246" fill="#000000"/><use href="#q247" fill="#000000"/><use href="#q248" fill="#000000"/><use href="#q249" fill="#000000"/><use href="#q250" fill="#000000"/><use href="#q251" fill="#000000"/><use href="#q252" fill="#000000"/><use href="#q253" fill="#000000"/><use href="#q254" fill="#000000"/></g></mask><mask id="mk822" maskUnits="userSpaceOnUse" x="130.00" y="413.30" width="164" height="80.40"><rect x="130.00" y="413.30" width="164" height="80.40" fill="#000"/><g clip-path="url(#cp255)"><use href="#q220" fill="#000000"/><use href="#q221" fill="#000000"/><use href="#q222" fill="#000000"/><use href="#q223" fill="#000000"/><use href="#q224" fill="#000000"/><use href="#q225" fill="#000000"/><use href="#q226" fill="#000000"/><use href="#q227" fill="#040404"/><use href="#q228" fill="#0c0c0c"/><use href="#q229" fill="#141414"/><use href="#q230" fill="#1c1c1c"/><use href="#q231" fill="#232323"/><use href="#q232" fill="#2b2b2b"/><use href="#q233" fill="#333333"/><use href="#q234" fill="#666666"/><use href="#q235" fill="#747474"/><use href="#q236" fill="#838383"/><use href="#q237" fill="#919191"/><use href="#q238" fill="#9f9f9f"/><use href="#q239" fill="#aeaeae"/><use href="#q240" fill="#bcbcbc"/><use href="#q241" fill="#ffffff"/><use href="#q242" fill="#ffffff"/><use href="#q243" fill="#ffffff"/><use href="#q244" fill="#ffffff"/><use href="#q245" fill="#ffffff"/><use href="#q246" fill="#ffffff"/><use href="#q247" fill="#ffffff"/><use href="#q248" fill="#ffffff"/><use href="#q249" fill="#ffffff"/><use href="#q250" fill="#ffffff"/><use href="#q251" fill="#ffffff"/><use href="#q252" fill="#ffffff"/><use href="#q253" fill="#ffffff"/><use href="#q254" fill="#ffffff"/></g></mask><mask id="mk823" maskUnits="userSpaceOnUse" x="299.50" y="413.30" width="164" height="80.40"><rect x="299.50" y="413.30" width="164" height="80.40" fill="#fff"/><g clip-path="url(#cp292)"><use href="#q257" fill="#ffffff"/><use href="#q258" fill="#ffffff"/><use href="#q259" fill="#ffffff"/><use href="#q260" fill="#ffffff"/><use href="#q261" fill="#ffffff"/><use href="#q262" fill="#ffffff"/><use href="#q263" fill="#ffffff"/><use href="#q264" fill="#fbfbfb"/><use href="#q265" fill="#f3f3f3"/><use href="#q266" fill="#ebebeb"/><use href="#q267" fill="#e4e4e4"/><use href="#q268" fill="#dcdcdc"/><use href="#q269" fill="#d4d4d4"/><use href="#q270" fill="#cccccc"/><use href="#q271" fill="#999999"/><use href="#q272" fill="#8b8b8b"/><use href="#q273" fill="#7c7c7c"/><use href="#q274" fill="#6e6e6e"/><use href="#q275" fill="#606060"/><use href="#q276" fill="#515151"/><use href="#q277" fill="#434343"/><use href="#q278" fill="#000000"/><use href="#q279" fill="#000000"/><use href="#q280" fill="#000000"/><use href="#q281" fill="#000000"/><use href="#q282" fill="#000000"/><use href="#q283" fill="#000000"/><use href="#q284" fill="#000000"/><use href="#q285" fill="#000000"/><use href="#q286" fill="#000000"/><use href="#q287" fill="#000000"/><use href="#q288" fill="#000000"/><use href="#q289" fill="#000000"/><use href="#q290" fill="#000000"/><use href="#q291" fill="#000000"/></g></mask><mask id="mk824" maskUnits="userSpaceOnUse" x="299.50" y="413.30" width="164" height="80.40"><rect x="299.50" y="413.30" width="164" height="80.40" fill="#000"/><g clip-path="url(#cp292)"><use href="#q257" fill="#000000"/><use href="#q258" fill="#000000"/><use href="#q259" fill="#000000"/><use href="#q260" fill="#000000"/><use href="#q261" fill="#000000"/><use href="#q262" fill="#000000"/><use href="#q263" fill="#000000"/><use href="#q264" fill="#040404"/><use href="#q265" fill="#0c0c0c"/><use href="#q266" fill="#141414"/><use href="#q267" fill="#1c1c1c"/><use href="#q268" fill="#232323"/><use href="#q269" fill="#2b2b2b"/><use href="#q270" fill="#333333"/><use href="#q271" fill="#666666"/><use href="#q272" fill="#747474"/><use href="#q273" fill="#838383"/><use href="#q274" fill="#919191"/><use href="#q275" fill="#9f9f9f"/><use href="#q276" fill="#aeaeae"/><use href="#q277" fill="#bcbcbc"/><use href="#q278" fill="#ffffff"/><use href="#q279" fill="#ffffff"/><use href="#q280" fill="#ffffff"/><use href="#q281" fill="#ffffff"/><use href="#q282" fill="#ffffff"/><use href="#q283" fill="#ffffff"/><use href="#q284" fill="#ffffff"/><use href="#q285" fill="#ffffff"/><use href="#q286" fill="#ffffff"/><use href="#q287" fill="#ffffff"/><use href="#q288" fill="#ffffff"/><use href="#q289" fill="#ffffff"/><use href="#q290" fill="#ffffff"/><use href="#q291" fill="#ffffff"/></g></mask><mask id="mk825" maskUnits="userSpaceOnUse" x="469.00" y="413.30" width="164" height="80.40"><rect x="469.00" y="413.30" width="164" height="80.40" fill="#fff"/><g clip-path="url(#cp329)"><use href="#q294" fill="#ffffff"/><use href="#q295" fill="#ffffff"/><use href="#q296" fill="#ffffff"/><use href="#q297" fill="#ffffff"/><use href="#q298" fill="#ffffff"/><use href="#q299" fill="#ffffff"/><use href="#q300" fill="#ffffff"/><use href="#q301" fill="#fbfbfb"/><use href="#q302" fill="#f3f3f3"/><use href="#q303" fill="#ebebeb"/><use href="#q304" fill="#e4e4e4"/><use href="#q305" fill="#dcdcdc"/><use href="#q306" fill="#d4d4d4"/><use href="#q307" fill="#cccccc"/><use href="#q308" fill="#999999"/><use href="#q309" fill="#8b8b8b"/><use href="#q310" fill="#7c7c7c"/><use href="#q311" fill="#6e6e6e"/><use href="#q312" fill="#606060"/><use href="#q313" fill="#515151"/><use href="#q314" fill="#434343"/><use href="#q315" fill="#000000"/><use href="#q316" fill="#000000"/><use href="#q317" fill="#000000"/><use href="#q318" fill="#000000"/><use href="#q319" fill="#000000"/><use href="#q320" fill="#000000"/><use href="#q321" fill="#000000"/><use href="#q322" fill="#000000"/><use href="#q323" fill="#000000"/><use href="#q324" fill="#000000"/><use href="#q325" fill="#000000"/><use href="#q326" fill="#000000"/><use href="#q327" fill="#000000"/><use href="#q328" fill="#000000"/></g></mask><mask id="mk826" maskUnits="userSpaceOnUse" x="469.00" y="413.30" width="164" height="80.40"><rect x="469.00" y="413.30" width="164" height="80.40" fill="#000"/><g clip-path="url(#cp329)"><use href="#q294" fill="#000000"/><use href="#q295" fill="#000000"/><use href="#q296" fill="#000000"/><use href="#q297" fill="#000000"/><use href="#q298" fill="#000000"/><use href="#q299" fill="#000000"/><use href="#q300" fill="#000000"/><use href="#q301" fill="#040404"/><use href="#q302" fill="#0c0c0c"/><use href="#q303" fill="#141414"/><use href="#q304" fill="#1c1c1c"/><use href="#q305" fill="#232323"/><use href="#q306" fill="#2b2b2b"/><use href="#q307" fill="#333333"/><use href="#q308" fill="#666666"/><use href="#q309" fill="#747474"/><use href="#q310" fill="#838383"/><use href="#q311" fill="#919191"/><use href="#q312" fill="#9f9f9f"/><use href="#q313" fill="#aeaeae"/><use href="#q314" fill="#bcbcbc"/><use href="#q315" fill="#ffffff"/><use href="#q316" fill="#ffffff"/><use href="#q317" fill="#ffffff"/><use href="#q318" fill="#ffffff"/><use href="#q319" fill="#ffffff"/><use href="#q320" fill="#ffffff"/><use href="#q321" fill="#ffffff"/><use href="#q322" fill="#ffffff"/><use href="#q323" fill="#ffffff"/><use href="#q324" fill="#ffffff"/><use href="#q325" fill="#ffffff"/><use href="#q326" fill="#ffffff"/><use href="#q327" fill="#ffffff"/><use href="#q328" fill="#ffffff"/></g></mask><mask id="mk827" maskUnits="userSpaceOnUse" x="130.00" y="498.60" width="164" height="80.40"><rect x="130.00" y="498.60" width="164" height="80.40" fill="#fff"/><g clip-path="url(#cp366)"><use href="#q331" fill="#ffffff"/><use href="#q332" fill="#ffffff"/><use href="#q333" fill="#ffffff"/><use href="#q334" fill="#ffffff"/><use href="#q335" fill="#ffffff"/><use href="#q336" fill="#ffffff"/><use href="#q337" fill="#ffffff"/><use href="#q338" fill="#fbfbfb"/><use href="#q339" fill="#f3f3f3"/><use href="#q340" fill="#ebebeb"/><use href="#q341" fill="#e4e4e4"/><use href="#q342" fill="#dcdcdc"/><use href="#q343" fill="#d4d4d4"/><use href="#q344" fill="#cccccc"/><use href="#q345" fill="#999999"/><use href="#q346" fill="#8b8b8b"/><use href="#q347" fill="#7c7c7c"/><use href="#q348" fill="#6e6e6e"/><use href="#q349" fill="#606060"/><use href="#q350" fill="#515151"/><use href="#q351" fill="#434343"/><use href="#q352" fill="#000000"/><use href="#q353" fill="#000000"/><use href="#q354" fill="#000000"/><use href="#q355" fill="#000000"/><use href="#q356" fill="#000000"/><use href="#q357" fill="#000000"/><use href="#q358" fill="#000000"/><use href="#q359" fill="#000000"/><use href="#q360" fill="#000000"/><use href="#q361" fill="#000000"/><use href="#q362" fill="#000000"/><use href="#q363" fill="#000000"/><use href="#q364" fill="#000000"/><use href="#q365" fill="#000000"/></g></mask><mask id="mk828" maskUnits="userSpaceOnUse" x="130.00" y="498.60" width="164" height="80.40"><rect x="130.00" y="498.60" width="164" height="80.40" fill="#000"/><g clip-path="url(#cp366)"><use href="#q331" fill="#000000"/><use href="#q332" fill="#000000"/><use href="#q333" fill="#000000"/><use href="#q334" fill="#000000"/><use href="#q335" fill="#000000"/><use href="#q336" fill="#000000"/><use href="#q337" fill="#000000"/><use href="#q338" fill="#040404"/><use href="#q339" fill="#0c0c0c"/><use href="#q340" fill="#141414"/><use href="#q341" fill="#1c1c1c"/><use href="#q342" fill="#232323"/><use href="#q343" fill="#2b2b2b"/><use href="#q344" fill="#333333"/><use href="#q345" fill="#666666"/><use href="#q346" fill="#747474"/><use href="#q347" fill="#838383"/><use href="#q348" fill="#919191"/><use href="#q349" fill="#9f9f9f"/><use href="#q350" fill="#aeaeae"/><use href="#q351" fill="#bcbcbc"/><use href="#q352" fill="#ffffff"/><use href="#q353" fill="#ffffff"/><use href="#q354" fill="#ffffff"/><use href="#q355" fill="#ffffff"/><use href="#q356" fill="#ffffff"/><use href="#q357" fill="#ffffff"/><use href="#q358" fill="#ffffff"/><use href="#q359" fill="#ffffff"/><use href="#q360" fill="#ffffff"/><use href="#q361" fill="#ffffff"/><use href="#q362" fill="#ffffff"/><use href="#q363" fill="#ffffff"/><use href="#q364" fill="#ffffff"/><use href="#q365" fill="#ffffff"/></g></mask><mask id="mk829" maskUnits="userSpaceOnUse" x="299.50" y="498.60" width="164" height="80.40"><rect x="299.50" y="498.60" width="164" height="80.40" fill="#fff"/><g clip-path="url(#cp403)"><use href="#q368" fill="#ffffff"/><use href="#q369" fill="#ffffff"/><use href="#q370" fill="#ffffff"/><use href="#q371" fill="#ffffff"/><use href="#q372" fill="#ffffff"/><use href="#q373" fill="#ffffff"/><use href="#q374" fill="#ffffff"/><use href="#q375" fill="#fbfbfb"/><use href="#q376" fill="#f3f3f3"/><use href="#q377" fill="#ebebeb"/><use href="#q378" fill="#e4e4e4"/><use href="#q379" fill="#dcdcdc"/><use href="#q380" fill="#d4d4d4"/><use href="#q381" fill="#cccccc"/><use href="#q382" fill="#999999"/><use href="#q383" fill="#8b8b8b"/><use href="#q384" fill="#7c7c7c"/><use href="#q385" fill="#6e6e6e"/><use href="#q386" fill="#606060"/><use href="#q387" fill="#515151"/><use href="#q388" fill="#434343"/><use href="#q389" fill="#000000"/><use href="#q390" fill="#000000"/><use href="#q391" fill="#000000"/><use href="#q392" fill="#000000"/><use href="#q393" fill="#000000"/><use href="#q394" fill="#000000"/><use href="#q395" fill="#000000"/><use href="#q396" fill="#000000"/><use href="#q397" fill="#000000"/><use href="#q398" fill="#000000"/><use href="#q399" fill="#000000"/><use href="#q400" fill="#000000"/><use href="#q401" fill="#000000"/><use href="#q402" fill="#000000"/></g></mask><mask id="mk830" maskUnits="userSpaceOnUse" x="299.50" y="498.60" width="164" height="80.40"><rect x="299.50" y="498.60" width="164" height="80.40" fill="#000"/><g clip-path="url(#cp403)"><use href="#q368" fill="#000000"/><use href="#q369" fill="#000000"/><use href="#q370" fill="#000000"/><use href="#q371" fill="#000000"/><use href="#q372" fill="#000000"/><use href="#q373" fill="#000000"/><use href="#q374" fill="#000000"/><use href="#q375" fill="#040404"/><use href="#q376" fill="#0c0c0c"/><use href="#q377" fill="#141414"/><use href="#q378" fill="#1c1c1c"/><use href="#q379" fill="#232323"/><use href="#q380" fill="#2b2b2b"/><use href="#q381" fill="#333333"/><use href="#q382" fill="#666666"/><use href="#q383" fill="#747474"/><use href="#q384" fill="#838383"/><use href="#q385" fill="#919191"/><use href="#q386" fill="#9f9f9f"/><use href="#q387" fill="#aeaeae"/><use href="#q388" fill="#bcbcbc"/><use href="#q389" fill="#ffffff"/><use href="#q390" fill="#ffffff"/><use href="#q391" fill="#ffffff"/><use href="#q392" fill="#ffffff"/><use href="#q393" fill="#ffffff"/><use href="#q394" fill="#ffffff"/><use href="#q395" fill="#ffffff"/><use href="#q396" fill="#ffffff"/><use href="#q397" fill="#ffffff"/><use href="#q398" fill="#ffffff"/><use href="#q399" fill="#ffffff"/><use href="#q400" fill="#ffffff"/><use href="#q401" fill="#ffffff"/><use href="#q402" fill="#ffffff"/></g></mask><mask id="mk831" maskUnits="userSpaceOnUse" x="469.00" y="498.60" width="164" height="80.40"><rect x="469.00" y="498.60" width="164" height="80.40" fill="#fff"/><g clip-path="url(#cp440)"><use href="#q405" fill="#ffffff"/><use href="#q406" fill="#ffffff"/><use href="#q407" fill="#ffffff"/><use href="#q408" fill="#ffffff"/><use href="#q409" fill="#ffffff"/><use href="#q410" fill="#ffffff"/><use href="#q411" fill="#ffffff"/><use href="#q412" fill="#fbfbfb"/><use href="#q413" fill="#f3f3f3"/><use href="#q414" fill="#ebebeb"/><use href="#q415" fill="#e4e4e4"/><use href="#q416" fill="#dcdcdc"/><use href="#q417" fill="#d4d4d4"/><use href="#q418" fill="#cccccc"/><use href="#q419" fill="#999999"/><use href="#q420" fill="#8b8b8b"/><use href="#q421" fill="#7c7c7c"/><use href="#q422" fill="#6e6e6e"/><use href="#q423" fill="#606060"/><use href="#q424" fill="#515151"/><use href="#q425" fill="#434343"/><use href="#q426" fill="#000000"/><use href="#q427" fill="#000000"/><use href="#q428" fill="#000000"/><use href="#q429" fill="#000000"/><use href="#q430" fill="#000000"/><use href="#q431" fill="#000000"/><use href="#q432" fill="#000000"/><use href="#q433" fill="#000000"/><use href="#q434" fill="#000000"/><use href="#q435" fill="#000000"/><use href="#q436" fill="#000000"/><use href="#q437" fill="#000000"/><use href="#q438" fill="#000000"/><use href="#q439" fill="#000000"/></g></mask><mask id="mk832" maskUnits="userSpaceOnUse" x="469.00" y="498.60" width="164" height="80.40"><rect x="469.00" y="498.60" width="164" height="80.40" fill="#000"/><g clip-path="url(#cp440)"><use href="#q405" fill="#000000"/><use href="#q406" fill="#000000"/><use href="#q407" fill="#000000"/><use href="#q408" fill="#000000"/><use href="#q409" fill="#000000"/><use href="#q410" fill="#000000"/><use href="#q411" fill="#000000"/><use href="#q412" fill="#040404"/><use href="#q413" fill="#0c0c0c"/><use href="#q414" fill="#141414"/><use href="#q415" fill="#1c1c1c"/><use href="#q416" fill="#232323"/><use href="#q417" fill="#2b2b2b"/><use href="#q418" fill="#333333"/><use href="#q419" fill="#666666"/><use href="#q420" fill="#747474"/><use href="#q421" fill="#838383"/><use href="#q422" fill="#919191"/><use href="#q423" fill="#9f9f9f"/><use href="#q424" fill="#aeaeae"/><use href="#q425" fill="#bcbcbc"/><use href="#q426" fill="#ffffff"/><use href="#q427" fill="#ffffff"/><use href="#q428" fill="#ffffff"/><use href="#q429" fill="#ffffff"/><use href="#q430" fill="#ffffff"/><use href="#q431" fill="#ffffff"/><use href="#q432" fill="#ffffff"/><use href="#q433" fill="#ffffff"/><use href="#q434" fill="#ffffff"/><use href="#q435" fill="#ffffff"/><use href="#q436" fill="#ffffff"/><use href="#q437" fill="#ffffff"/><use href="#q438" fill="#ffffff"/><use href="#q439" fill="#ffffff"/></g></mask><linearGradient id="lg833" gradientUnits="userSpaceOnUse" x1="1334.00" y1="0.00" x2="1498.00" y2="0.00"><stop offset="0.0000" stop-color="#800000"/><stop offset="0.2900" stop-color="#ff0000"/><stop offset="0.5000" stop-color="#ff8000"/><stop offset="0.6800" stop-color="#ffff00"/><stop offset="1.0000" stop-color="#fffff0"/></linearGradient></defs><rect width="1505" height="667" fill="#fff"/><g clip-path="url(#cr1)"><rect x="130.00" y="70.00" width="164" height="80.40" fill="#0a3580"/><g clip-path="url(#cp3)"><rect x="128.0" y="68.0" width="168.0" height="84.4" fill="url(#lg2)"/></g><rect x="130.00" y="70.00" width="164" height="80.40" fill="url(#dotsB0)" mask="url(#mk785)" style="mix-blend-mode:exclusion"/><rect x="130.00" y="70.00" width="164" height="80.40" fill="url(#dotsS0)" mask="url(#mk786)" style="mix-blend-mode:exclusion"/></g><circle cx="272.50" cy="137.60" r="7" fill="#ff0000"/><g clip-path="url(#cr6)"><rect x="299.50" y="70.00" width="164" height="80.40" fill="#0a3580"/><g clip-path="url(#cp8)"><rect x="297.5" y="68.0" width="168.0" height="84.4" fill="url(#lg7)"/></g><rect x="299.50" y="70.00" width="164" height="80.40" fill="url(#dotsB1)" mask="url(#mk787)" style="mix-blend-mode:exclusion"/><rect x="299.50" y="70.00" width="164" height="80.40" fill="url(#dotsS1)" mask="url(#mk788)" style="mix-blend-mode:exclusion"/></g><circle cx="442.00" cy="137.60" r="7" fill="#ff0000"/><g clip-path="url(#cr11)"><rect x="469.00" y="70.00" width="164" height="80.40" fill="#0a3580"/><g clip-path="url(#cp13)"><rect x="467.0" y="68.0" width="168.0" height="84.4" fill="url(#lg12)"/></g><rect x="469.00" y="70.00" width="164" height="80.40" fill="url(#dotsB2)" mask="url(#mk789)" style="mix-blend-mode:exclusion"/><rect x="469.00" y="70.00" width="164" height="80.40" fill="url(#dotsS2)" mask="url(#mk790)" style="mix-blend-mode:exclusion"/></g><circle cx="611.50" cy="137.60" r="7" fill="#ff0000"/><g clip-path="url(#cr16)"><rect x="638.50" y="70.00" width="164" height="80.40" fill="#0a3580"/><g clip-path="url(#cp18)"><rect x="636.5" y="68.0" width="168.0" height="84.4" fill="url(#lg17)"/></g><rect x="638.50" y="70.00" width="164" height="80.40" fill="url(#dotsB3)" mask="url(#mk791)" style="mix-blend-mode:exclusion"/><rect x="638.50" y="70.00" width="164" height="80.40" fill="url(#dotsS3)" mask="url(#mk792)" style="mix-blend-mode:exclusion"/></g><circle cx="781.00" cy="137.60" r="7" fill="#ff0000"/><g clip-path="url(#cr21)"><rect x="130.00" y="155.20" width="164" height="80.40" fill="#0a3580"/><g clip-path="url(#cp23)"><rect x="128.0" y="153.2" width="168.0" height="84.4" fill="url(#lg22)"/></g><rect x="130.00" y="155.20" width="164" height="80.40" fill="url(#dotsB0)" mask="url(#mk793)" style="mix-blend-mode:exclusion"/><rect x="130.00" y="155.20" width="164" height="80.40" fill="url(#dotsS0)" mask="url(#mk794)" style="mix-blend-mode:exclusion"/></g><circle cx="272.50" cy="222.80" r="7" fill="#ff0000"/><text x="286.00" y="180.00" text-anchor="end" font-family="&quot;Liberation Sans&quot;, Arial, sans-serif" font-weight="bold" font-size="30" fill="#ff0000">CP</text><g clip-path="url(#cr26)"><rect x="299.50" y="155.20" width="164" height="80.40" fill="#0a3580"/><g clip-path="url(#cp28)"><rect x="297.5" y="153.2" width="168.0" height="84.4" fill="url(#lg27)"/></g><rect x="299.50" y="155.20" width="164" height="80.40" fill="url(#dotsB1)" mask="url(#mk795)" style="mix-blend-mode:exclusion"/><rect x="299.50" y="155.20" width="164" height="80.40" fill="url(#dotsS1)" mask="url(#mk796)" style="mix-blend-mode:exclusion"/></g><circle cx="442.00" cy="222.80" r="7" fill="#ff0000"/><g clip-path="url(#cr31)"><rect x="469.00" y="155.20" width="164" height="80.40" fill="#0a3580"/><g clip-path="url(#cp33)"><rect x="467.0" y="153.2" width="168.0" height="84.4" fill="url(#lg32)"/></g><rect x="469.00" y="155.20" width="164" height="80.40" fill="url(#dotsB2)" mask="url(#mk797)" style="mix-blend-mode:exclusion"/><rect x="469.00" y="155.20" width="164" height="80.40" fill="url(#dotsS2)" mask="url(#mk798)" style="mix-blend-mode:exclusion"/></g><circle cx="611.50" cy="222.80" r="7" fill="#ff0000"/><g clip-path="url(#cr36)"><rect x="638.50" y="155.20" width="164" height="80.40" fill="#0a3580"/><g clip-path="url(#cp38)"><rect x="636.5" y="153.2" width="168.0" height="84.4" fill="url(#lg37)"/></g><rect x="638.50" y="155.20" width="164" height="80.40" fill="url(#dotsB3)" mask="url(#mk799)" style="mix-blend-mode:exclusion"/><rect x="638.50" y="155.20" width="164" height="80.40" fill="url(#dotsS3)" mask="url(#mk800)" style="mix-blend-mode:exclusion"/></g><circle cx="781.00" cy="222.80" r="7" fill="#ff0000"/><g clip-path="url(#cr41)"><rect x="130.00" y="240.80" width="164" height="80.40" fill="#0a3580"/><g clip-path="url(#cp43)"><rect x="128.0" y="238.8" width="168.0" height="84.4" fill="url(#lg42)"/></g><rect x="130.00" y="240.80" width="164" height="80.40" fill="url(#dotsB0)" mask="url(#mk801)" style="mix-blend-mode:exclusion"/><rect x="130.00" y="240.80" width="164" height="80.40" fill="url(#dotsS0)" mask="url(#mk802)" style="mix-blend-mode:exclusion"/></g><circle cx="272.50" cy="308.40" r="7" fill="#ff0000"/><g clip-path="url(#cr46)"><rect x="299.50" y="240.80" width="164" height="80.40" fill="#0a3580"/><g clip-path="url(#cp48)"><rect x="297.5" y="238.8" width="168.0" height="84.4" fill="url(#lg47)"/></g><rect x="299.50" y="240.80" width="164" height="80.40" fill="url(#dotsB1)" mask="url(#mk803)" style="mix-blend-mode:exclusion"/><rect x="299.50" y="240.80" width="164" height="80.40" fill="url(#dotsS1)" mask="url(#mk804)" style="mix-blend-mode:exclusion"/></g><circle cx="442.00" cy="308.40" r="7" fill="#ff0000"/><g clip-path="url(#cr51)"><rect x="469.00" y="240.80" width="164" height="80.40" fill="#0a3580"/><g clip-path="url(#cp53)"><rect x="467.0" y="238.8" width="168.0" height="84.4" fill="url(#lg52)"/></g><rect x="469.00" y="240.80" width="164" height="80.40" fill="url(#dotsB2)" mask="url(#mk805)" style="mix-blend-mode:exclusion"/><rect x="469.00" y="240.80" width="164" height="80.40" fill="url(#dotsS2)" mask="url(#mk806)" style="mix-blend-mode:exclusion"/></g><circle cx="611.50" cy="308.40" r="7" fill="#ff0000"/><g clip-path="url(#cr56)"><rect x="638.50" y="240.80" width="164" height="80.40" fill="#0a3580"/><g clip-path="url(#cp58)"><rect x="636.5" y="238.8" width="168.0" height="84.4" fill="url(#lg57)"/></g><rect x="638.50" y="240.80" width="164" height="80.40" fill="url(#dotsB3)" mask="url(#mk807)" style="mix-blend-mode:exclusion"/><rect x="638.50" y="240.80" width="164" height="80.40" fill="url(#dotsS3)" mask="url(#mk808)" style="mix-blend-mode:exclusion"/></g><circle cx="781.00" cy="308.40" r="7" fill="#ff0000"/><g clip-path="url(#cr61)"><rect x="130.00" y="326.80" width="164" height="80.40" fill="#0a3580"/><g clip-path="url(#cp63)"><rect x="128.0" y="324.8" width="168.0" height="84.4" fill="url(#lg62)"/></g><polygon points="129,325.8 133,325.8 166,367.0 133,408.2 129,408.2" fill="#700000" opacity="0.3"/><rect x="130.00" y="326.80" width="164" height="80.40" fill="url(#dotsB0)" mask="url(#mk809)" style="mix-blend-mode:exclusion"/><rect x="130.00" y="326.80" width="164" height="80.40" fill="url(#dotsS0)" mask="url(#mk810)" style="mix-blend-mode:exclusion"/></g><circle cx="272.50" cy="394.40" r="7" fill="#ff0000"/><g clip-path="url(#cr66)"><rect x="299.50" y="326.80" width="164" height="80.40" fill="#0a3580"/><g clip-path="url(#cp68)"><rect x="297.5" y="324.8" width="168.0" height="84.4" fill="url(#lg67)"/></g><polygon points="298.5,325.8 302.5,325.8 340.5,367.0 302.5,408.2 298.5,408.2" fill="#700000" opacity="0.3"/><rect x="299.50" y="326.80" width="164" height="80.40" fill="url(#dotsB1)" mask="url(#mk811)" style="mix-blend-mode:exclusion"/><rect x="299.50" y="326.80" width="164" height="80.40" fill="url(#dotsS1)" mask="url(#mk812)" style="mix-blend-mode:exclusion"/></g><circle cx="442.00" cy="394.40" r="7" fill="#ff0000"/><g clip-path="url(#cr71)"><rect x="469.00" y="326.80" width="164" height="80.40" fill="#0a3580"/><g clip-path="url(#cp107)"><use href="#q72" fill="#fefec3"/><use href="#q73" fill="#fefebc"/><use href="#q74" fill="#fefeb5"/><use href="#q75" fill="#fefeae"/><use href="#q76" fill="#ffffa7"/><use href="#q77" fill="#ffffa0"/><use href="#q78" fill="#ffff99"/><use href="#q79" fill="#fffe0b"/><use href="#q80" fill="#fffb09"/><use href="#q81" fill="#fff808"/><use href="#q82" fill="#fff506"/><use href="#q83" fill="#fff204"/><use href="#q84" fill="#ffef03"/><use href="#q85" fill="#ffec01"/><use href="#q86" fill="#ffa400"/><use href="#q87" fill="#ff9c00"/><use href="#q88" fill="#ff9300"/><use href="#q89" fill="#ff8b00"/><use href="#q90" fill="#ff8300"/><use href="#q91" fill="#ff7a00"/><use href="#q92" fill="#ff7200"/><use href="#q93" fill="#fe2500"/><use href="#q94" fill="#fb1f00"/><use href="#q95" fill="#f81a00"/><use href="#q96" fill="#f51400"/><use href="#q97" fill="#f20e00"/><use href="#q98" fill="#ef0900"/><use href="#q99" fill="#ec0300"/><use href="#q100" fill="#c90000"/><use href="#q101" fill="#c10000"/><use href="#q102" fill="#b90000"/><use href="#q103" fill="#b00000"/><use href="#q104" fill="#a80000"/><use href="#q105" fill="#a00000"/><use href="#q106" fill="#980000"/></g><rect x="469.00" y="326.80" width="164" height="80.40" fill="url(#dotsB2)" mask="url(#mk813)" style="mix-blend-mode:exclusion"/><rect x="469.00" y="326.80" width="164" height="80.40" fill="url(#dotsS2)" mask="url(#mk814)" style="mix-blend-mode:exclusion"/></g><circle cx="611.50" cy="394.40" r="7" fill="#ff0000"/><g clip-path="url(#cr108)"><rect x="638.50" y="326.80" width="164" height="80.40" fill="#0a3580"/><g clip-path="url(#cp144)"><use href="#q109" fill="#fefec3"/><use href="#q110" fill="#fefebc"/><use href="#q111" fill="#fefeb5"/><use href="#q112" fill="#fefeae"/><use href="#q113" fill="#ffffa7"/><use href="#q114" fill="#ffffa0"/><use href="#q115" fill="#ffff99"/><use href="#q116" fill="#fffe0b"/><use href="#q117" fill="#fffb09"/><use href="#q118" fill="#fff808"/><use href="#q119" fill="#fff506"/><use href="#q120" fill="#fff204"/><use href="#q121" fill="#ffef03"/><use href="#q122" fill="#ffec01"/><use href="#q123" fill="#ffa400"/><use href="#q124" fill="#ff9c00"/><use href="#q125" fill="#ff9300"/><use href="#q126" fill="#ff8b00"/><use href="#q127" fill="#ff8300"/><use href="#q128" fill="#ff7a00"/><use href="#q129" fill="#ff7200"/><use href="#q130" fill="#fe2500"/><use href="#q131" fill="#fb1f00"/><use href="#q132" fill="#f81a00"/><use href="#q133" fill="#f51400"/><use href="#q134" fill="#f20e00"/><use href="#q135" fill="#ef0900"/><use href="#q136" fill="#ec0300"/><use href="#q137" fill="#c30000"/><use href="#q138" fill="#b80000"/><use href="#q139" fill="#ad0000"/><use href="#q140" fill="#a20000"/><use href="#q141" fill="#980000"/><use href="#q142" fill="#8d0000"/><use href="#q143" fill="#820000"/></g><rect x="638.50" y="326.80" width="164" height="80.40" fill="url(#dotsB3)" mask="url(#mk815)" style="mix-blend-mode:exclusion"/><rect x="638.50" y="326.80" width="164" height="80.40" fill="url(#dotsS3)" mask="url(#mk816)" style="mix-blend-mode:exclusion"/></g><rect x="776.20" y="389.60" width="9.6" height="9.6" fill="#00ffff" stroke="#000" stroke-width="1.3"/><g clip-path="url(#cr145)"><rect x="638.50" y="413.30" width="164" height="80.40" fill="#0a3580"/><g clip-path="url(#cp181)"><use href="#q146" fill="#fefec3"/><use href="#q147" fill="#fefebc"/><use href="#q148" fill="#fefeb5"/><use href="#q149" fill="#fefeae"/><use href="#q150" fill="#ffffa7"/><use href="#q151" fill="#ffffa0"/><use href="#q152" fill="#ffff99"/><use href="#q153" fill="#fffe0b"/><use href="#q154" fill="#fffb09"/><use href="#q155" fill="#fff808"/><use href="#q156" fill="#fff506"/><use href="#q157" fill="#fff204"/><use href="#q158" fill="#ffef03"/><use href="#q159" fill="#ffec01"/><use href="#q160" fill="#ffa400"/><use href="#q161" fill="#ff9c00"/><use href="#q162" fill="#ff9300"/><use href="#q163" fill="#ff8b00"/><use href="#q164" fill="#ff8300"/><use href="#q165" fill="#ff7a00"/><use href="#q166" fill="#ff7200"/><use href="#q167" fill="#fe2500"/><use href="#q168" fill="#fb1f00"/><use href="#q169" fill="#f81a00"/><use href="#q170" fill="#f51400"/><use href="#q171" fill="#f20e00"/><use href="#q172" fill="#ef0900"/><use href="#q173" fill="#ec0300"/><use href="#q174" fill="#c30000"/><use href="#q175" fill="#b80000"/><use href="#q176" fill="#ad0000"/><use href="#q177" fill="#a20000"/><use href="#q178" fill="#980000"/><use href="#q179" fill="#8d0000"/><use href="#q180" fill="#820000"/></g><rect x="638.50" y="413.30" width="164" height="80.40" fill="url(#dotsB3)" mask="url(#mk817)" style="mix-blend-mode:exclusion"/><rect x="638.50" y="413.30" width="164" height="80.40" fill="url(#dotsS3)" mask="url(#mk818)" style="mix-blend-mode:exclusion"/></g><rect x="776.20" y="476.10" width="9.6" height="9.6" fill="#00ffff" stroke="#000" stroke-width="1.3"/><g clip-path="url(#cr182)"><rect x="638.50" y="498.60" width="164" height="80.40" fill="#0a3580"/><g clip-path="url(#cp218)"><use href="#q183" fill="#fefec3"/><use href="#q184" fill="#fefebc"/><use href="#q185" fill="#fefeb5"/><use href="#q186" fill="#fefeae"/><use href="#q187" fill="#ffffa7"/><use href="#q188" fill="#ffffa0"/><use href="#q189" fill="#ffff99"/><use href="#q190" fill="#fffe0b"/><use href="#q191" fill="#fffb09"/><use href="#q192" fill="#fff808"/><use href="#q193" fill="#fff506"/><use href="#q194" fill="#fff204"/><use href="#q195" fill="#ffef03"/><use href="#q196" fill="#ffec01"/><use href="#q197" fill="#ffa400"/><use href="#q198" fill="#ff9c00"/><use href="#q199" fill="#ff9300"/><use href="#q200" fill="#ff8b00"/><use href="#q201" fill="#ff8300"/><use href="#q202" fill="#ff7a00"/><use href="#q203" fill="#ff7200"/><use href="#q204" fill="#fe2500"/><use href="#q205" fill="#fb1f00"/><use href="#q206" fill="#f81a00"/><use href="#q207" fill="#f51400"/><use href="#q208" fill="#f20e00"/><use href="#q209" fill="#ef0900"/><use href="#q210" fill="#ec0300"/><use href="#q211" fill="#c30000"/><use href="#q212" fill="#b80000"/><use href="#q213" fill="#ad0000"/><use href="#q214" fill="#a20000"/><use href="#q215" fill="#980000"/><use href="#q216" fill="#8d0000"/><use href="#q217" fill="#820000"/></g><rect x="638.50" y="498.60" width="164" height="80.40" fill="url(#dotsB3)" mask="url(#mk819)" style="mix-blend-mode:exclusion"/><rect x="638.50" y="498.60" width="164" height="80.40" fill="url(#dotsS3)" mask="url(#mk820)" style="mix-blend-mode:exclusion"/></g><rect x="776.20" y="561.40" width="9.6" height="9.6" fill="#00ffff" stroke="#000" stroke-width="1.3"/><g clip-path="url(#cr219)"><rect x="130.00" y="413.30" width="164" height="80.40" fill="#0a3580"/><g clip-path="url(#cp255)"><use href="#q220" fill="#fefec3"/><use href="#q221" fill="#fefebc"/><use href="#q222" fill="#fefeb5"/><use href="#q223" fill="#fefeae"/><use href="#q224" fill="#ffffa7"/><use href="#q225" fill="#ffffa0"/><use href="#q226" fill="#ffff99"/><use href="#q227" fill="#fffe0b"/><use href="#q228" fill="#fffb09"/><use href="#q229" fill="#fff808"/><use href="#q230" fill="#fff506"/><use href="#q231" fill="#fff204"/><use href="#q232" fill="#ffef03"/><use href="#q233" fill="#ffec01"/><use href="#q234" fill="#ffa400"/><use href="#q235" fill="#ff9c00"/><use href="#q236" fill="#ff9300"/><use href="#q237" fill="#ff8b00"/><use href="#q238" fill="#ff8300"/><use href="#q239" fill="#ff7a00"/><use href="#q240" fill="#ff7200"/><use href="#q241" fill="#fe2500"/><use href="#q242" fill="#fb1f00"/><use href="#q243" fill="#f81a00"/><use href="#q244" fill="#f51400"/><use href="#q245" fill="#f20e00"/><use href="#q246" fill="#ef0900"/><use href="#q247" fill="#ec0300"/><use href="#q248" fill="#c90000"/><use href="#q249" fill="#c10000"/><use href="#q250" fill="#b90000"/><use href="#q251" fill="#b00000"/><use href="#q252" fill="#a80000"/><use href="#q253" fill="#a00000"/><use href="#q254" fill="#980000"/></g><rect x="130.00" y="413.30" width="164" height="80.40" fill="url(#dotsB0)" mask="url(#mk821)" style="mix-blend-mode:exclusion"/><rect x="130.00" y="413.30" width="164" height="80.40" fill="url(#dotsS0)" mask="url(#mk822)" style="mix-blend-mode:exclusion"/></g><rect x="267.70" y="476.10" width="9.6" height="9.6" fill="#00ffff" stroke="#000" stroke-width="1.3"/><text x="286.00" y="438.10" text-anchor="end" font-family="&quot;Liberation Sans&quot;, Arial, sans-serif" font-weight="bold" font-size="30" fill="#00ffff">TS</text><g clip-path="url(#cr256)"><rect x="299.50" y="413.30" width="164" height="80.40" fill="#0a3580"/><g clip-path="url(#cp292)"><use href="#q257" fill="#fefec3"/><use href="#q258" fill="#fefebc"/><use href="#q259" fill="#fefeb5"/><use href="#q260" fill="#fefeae"/><use href="#q261" fill="#ffffa7"/><use href="#q262" fill="#ffffa0"/><use href="#q263" fill="#ffff99"/><use href="#q264" fill="#fffe0b"/><use href="#q265" fill="#fffb09"/><use href="#q266" fill="#fff808"/><use href="#q267" fill="#fff506"/><use href="#q268" fill="#fff204"/><use href="#q269" fill="#ffef03"/><use href="#q270" fill="#ffec01"/><use href="#q271" fill="#ffa400"/><use href="#q272" fill="#ff9c00"/><use href="#q273" fill="#ff9300"/><use href="#q274" fill="#ff8b00"/><use href="#q275" fill="#ff8300"/><use href="#q276" fill="#ff7a00"/><use href="#q277" fill="#ff7200"/><use href="#q278" fill="#fe2500"/><use href="#q279" fill="#fb1f00"/><use href="#q280" fill="#f81a00"/><use href="#q281" fill="#f51400"/><use href="#q282" fill="#f20e00"/><use href="#q283" fill="#ef0900"/><use href="#q284" fill="#ec0300"/><use href="#q285" fill="#c90000"/><use href="#q286" fill="#c10000"/><use href="#q287" fill="#b90000"/><use href="#q288" fill="#b00000"/><use href="#q289" fill="#a80000"/><use href="#q290" fill="#a00000"/><use href="#q291" fill="#980000"/></g><rect x="299.50" y="413.30" width="164" height="80.40" fill="url(#dotsB1)" mask="url(#mk823)" style="mix-blend-mode:exclusion"/><rect x="299.50" y="413.30" width="164" height="80.40" fill="url(#dotsS1)" mask="url(#mk824)" style="mix-blend-mode:exclusion"/></g><rect x="437.20" y="476.10" width="9.6" height="9.6" fill="#00ffff" stroke="#000" stroke-width="1.3"/><g clip-path="url(#cr293)"><rect x="469.00" y="413.30" width="164" height="80.40" fill="#0a3580"/><g clip-path="url(#cp329)"><use href="#q294" fill="#fefec3"/><use href="#q295" fill="#fefebc"/><use href="#q296" fill="#fefeb5"/><use href="#q297" fill="#fefeae"/><use href="#q298" fill="#ffffa7"/><use href="#q299" fill="#ffffa0"/><use href="#q300" fill="#ffff99"/><use href="#q301" fill="#fffe0b"/><use href="#q302" fill="#fffb09"/><use href="#q303" fill="#fff808"/><use href="#q304" fill="#fff506"/><use href="#q305" fill="#fff204"/><use href="#q306" fill="#ffef03"/><use href="#q307" fill="#ffec01"/><use href="#q308" fill="#ffa400"/><use href="#q309" fill="#ff9c00"/><use href="#q310" fill="#ff9300"/><use href="#q311" fill="#ff8b00"/><use href="#q312" fill="#ff8300"/><use href="#q313" fill="#ff7a00"/><use href="#q314" fill="#ff7200"/><use href="#q315" fill="#fe2500"/><use href="#q316" fill="#fb1f00"/><use href="#q317" fill="#f81a00"/><use href="#q318" fill="#f51400"/><use href="#q319" fill="#f20e00"/><use href="#q320" fill="#ef0900"/><use href="#q321" fill="#ec0300"/><use href="#q322" fill="#c90000"/><use href="#q323" fill="#c10000"/><use href="#q324" fill="#b90000"/><use href="#q325" fill="#b00000"/><use href="#q326" fill="#a80000"/><use href="#q327" fill="#a00000"/><use href="#q328" fill="#980000"/></g><rect x="469.00" y="413.30" width="164" height="80.40" fill="url(#dotsB2)" mask="url(#mk825)" style="mix-blend-mode:exclusion"/><rect x="469.00" y="413.30" width="164" height="80.40" fill="url(#dotsS2)" mask="url(#mk826)" style="mix-blend-mode:exclusion"/></g><rect x="606.70" y="476.10" width="9.6" height="9.6" fill="#00ffff" stroke="#000" stroke-width="1.3"/><g clip-path="url(#cr330)"><rect x="130.00" y="498.60" width="164" height="80.40" fill="#0a3580"/><g clip-path="url(#cp366)"><use href="#q331" fill="#fefec3"/><use href="#q332" fill="#fefebc"/><use href="#q333" fill="#fefeb5"/><use href="#q334" fill="#fefeae"/><use href="#q335" fill="#ffffa7"/><use href="#q336" fill="#ffffa0"/><use href="#q337" fill="#ffff99"/><use href="#q338" fill="#fffe0b"/><use href="#q339" fill="#fffb09"/><use href="#q340" fill="#fff808"/><use href="#q341" fill="#fff506"/><use href="#q342" fill="#fff204"/><use href="#q343" fill="#ffef03"/><use href="#q344" fill="#ffec01"/><use href="#q345" fill="#ffa400"/><use href="#q346" fill="#ff9c00"/><use href="#q347" fill="#ff9300"/><use href="#q348" fill="#ff8b00"/><use href="#q349" fill="#ff8300"/><use href="#q350" fill="#ff7a00"/><use href="#q351" fill="#ff7200"/><use href="#q352" fill="#fe2500"/><use href="#q353" fill="#fb1f00"/><use href="#q354" fill="#f81a00"/><use href="#q355" fill="#f51400"/><use href="#q356" fill="#f20e00"/><use href="#q357" fill="#ef0900"/><use href="#q358" fill="#ec0300"/><use href="#q359" fill="#c90000"/><use href="#q360" fill="#c10000"/><use href="#q361" fill="#b90000"/><use href="#q362" fill="#b00000"/><use href="#q363" fill="#a80000"/><use href="#q364" fill="#a00000"/><use href="#q365" fill="#980000"/></g><rect x="130.00" y="498.60" width="164" height="80.40" fill="url(#dotsB0)" mask="url(#mk827)" style="mix-blend-mode:exclusion"/><rect x="130.00" y="498.60" width="164" height="80.40" fill="url(#dotsS0)" mask="url(#mk828)" style="mix-blend-mode:exclusion"/></g><rect x="267.70" y="561.40" width="9.6" height="9.6" fill="#00ffff" stroke="#000" stroke-width="1.3"/><g clip-path="url(#cr367)"><rect x="299.50" y="498.60" width="164" height="80.40" fill="#0a3580"/><g clip-path="url(#cp403)"><use href="#q368" fill="#fefec3"/><use href="#q369" fill="#fefebc"/><use href="#q370" fill="#fefeb5"/><use href="#q371" fill="#fefeae"/><use href="#q372" fill="#ffffa7"/><use href="#q373" fill="#ffffa0"/><use href="#q374" fill="#ffff99"/><use href="#q375" fill="#fffe0b"/><use href="#q376" fill="#fffb09"/><use href="#q377" fill="#fff808"/><use href="#q378" fill="#fff506"/><use href="#q379" fill="#fff204"/><use href="#q380" fill="#ffef03"/><use href="#q381" fill="#ffec01"/><use href="#q382" fill="#ffa400"/><use href="#q383" fill="#ff9c00"/><use href="#q384" fill="#ff9300"/><use href="#q385" fill="#ff8b00"/><use href="#q386" fill="#ff8300"/><use href="#q387" fill="#ff7a00"/><use href="#q388" fill="#ff7200"/><use href="#q389" fill="#fe2500"/><use href="#q390" fill="#fb1f00"/><use href="#q391" fill="#f81a00"/><use href="#q392" fill="#f51400"/><use href="#q393" fill="#f20e00"/><use href="#q394" fill="#ef0900"/><use href="#q395" fill="#ec0300"/><use href="#q396" fill="#c90000"/><use href="#q397" fill="#c10000"/><use href="#q398" fill="#b90000"/><use href="#q399" fill="#b00000"/><use href="#q400" fill="#a80000"/><use href="#q401" fill="#a00000"/><use href="#q402" fill="#980000"/></g><rect x="299.50" y="498.60" width="164" height="80.40" fill="url(#dotsB1)" mask="url(#mk829)" style="mix-blend-mode:exclusion"/><rect x="299.50" y="498.60" width="164" height="80.40" fill="url(#dotsS1)" mask="url(#mk830)" style="mix-blend-mode:exclusion"/></g><rect x="437.20" y="561.40" width="9.6" height="9.6" fill="#00ffff" stroke="#000" stroke-width="1.3"/><g clip-path="url(#cr404)"><rect x="469.00" y="498.60" width="164" height="80.40" fill="#0a3580"/><g clip-path="url(#cp440)"><use href="#q405" fill="#fefec3"/><use href="#q406" fill="#fefebc"/><use href="#q407" fill="#fefeb5"/><use href="#q408" fill="#fefeae"/><use href="#q409" fill="#ffffa7"/><use href="#q410" fill="#ffffa0"/><use href="#q411" fill="#ffff99"/><use href="#q412" fill="#fffe0b"/><use href="#q413" fill="#fffb09"/><use href="#q414" fill="#fff808"/><use href="#q415" fill="#fff506"/><use href="#q416" fill="#fff204"/><use href="#q417" fill="#ffef03"/><use href="#q418" fill="#ffec01"/><use href="#q419" fill="#ffa400"/><use href="#q420" fill="#ff9c00"/><use href="#q421" fill="#ff9300"/><use href="#q422" fill="#ff8b00"/><use href="#q423" fill="#ff8300"/><use href="#q424" fill="#ff7a00"/><use href="#q425" fill="#ff7200"/><use href="#q426" fill="#fe2500"/><use href="#q427" fill="#fb1f00"/><use href="#q428" fill="#f81a00"/><use href="#q429" fill="#f51400"/><use href="#q430" fill="#f20e00"/><use href="#q431" fill="#ef0900"/><use href="#q432" fill="#ec0300"/><use href="#q433" fill="#c90000"/><use href="#q434" fill="#c10000"/><use href="#q435" fill="#b90000"/><use href="#q436" fill="#b00000"/><use href="#q437" fill="#a80000"/><use href="#q438" fill="#a00000"/><use href="#q439" fill="#980000"/></g><rect x="469.00" y="498.60" width="164" height="80.40" fill="url(#dotsB2)" mask="url(#mk831)" style="mix-blend-mode:exclusion"/><rect x="469.00" y="498.60" width="164" height="80.40" fill="url(#dotsS2)" mask="url(#mk832)" style="mix-blend-mode:exclusion"/></g><rect x="606.70" y="561.40" width="9.6" height="9.6" fill="#00ffff" stroke="#000" stroke-width="1.3"/><g clip-path="url(#cr441)"><rect x="825.50" y="70.00" width="164" height="80.40" fill="#0a3580"/><rect x="825.50" y="70.00" width="5.00" height="80.40" fill="#a50d0d"/><polyline points="830.5,140.1 834.8,139.5 837.2,143.2 841.5,142.6 843.8,146.3 848.2,145.7 851.3,149.4 854.5,146.0 859.1,147.1 862.3,143.6 866.8,144.7 870.0,141.3 874.6,142.4 877.8,138.9 881.6,140.0 885.9,139.1 888.4,142.6 892.7,141.7 895.3,145.2 899.6,144.3 902.1,147.8 905.5,146.9 910.3,147.3 913.0,143.4 917.8,143.8 921.4,139.9 924.4,143.5 929.0,142.7 932.0,146.3 936.6,145.5 940.0,149.2 943.8,146.8 947.5,149.2 951.3,146.8 955.1,149.2 958.8,146.8 962.6,149.2 966.4,146.8 970.2,149.2 973.9,146.8 977.7,149.2 981.5,146.8 985.2,149.2 989.0,148.0" fill="none" stroke="url(#lg442)" stroke-width="3.30" stroke-linejoin="round"/><rect x="825.50" y="70.00" width="164" height="80.40" fill="url(#dotsR0)" style="mix-blend-mode:exclusion"/></g><polygon points="968.00,131.00 974.80,143.20 961.20,143.20" fill="#00e600" stroke="#000" stroke-width="1.3" stroke-linejoin="miter"/><g clip-path="url(#cr443)"><rect x="995.00" y="70.00" width="164" height="80.40" fill="#0a3580"/><rect x="995.00" y="70.00" width="5.00" height="80.40" fill="#a50d0d"/><polyline points="1000.5,136.6 1004.0,132.4 1008.7,132.7 1012.9,131.4 1015.7,134.7 1019.9,133.5 1022.8,136.8 1027.0,135.6 1029.9,138.9 1034.1,137.6 1036.9,141.0 1041.1,139.7 1044.0,143.1 1048.2,141.8 1051.6,145.2 1054.9,142.3 1058.8,144.2 1062.2,141.4 1066.1,143.3 1069.1,140.5 1073.4,141.1 1075.6,137.3 1079.9,137.9 1082.1,134.1 1086.5,134.6 1088.7,130.9 1093.0,131.4 1095.2,127.7 1099.6,128.2 1101.8,124.4 1106.1,125.0 1108.3,121.2 1111.5,121.7 1116.5,121.9 1119.2,126.2 1123.5,126.2 1127.4,128.4 1131.0,125.8 1134.9,127.9 1138.5,125.3 1142.4,127.5 1146.0,124.9 1149.9,127.0 1153.5,124.4 1157.3,125.4" fill="none" stroke="url(#lg444)" stroke-width="3.30" stroke-linejoin="round"/><rect x="995.00" y="70.00" width="164" height="80.40" fill="url(#dotsR1)" style="mix-blend-mode:exclusion"/></g><polygon points="1137.50,131.00 1144.30,143.20 1130.70,143.20" fill="#00e600" stroke="#000" stroke-width="1.3" stroke-linejoin="miter"/><g clip-path="url(#cr445)"><rect x="1164.50" y="70.00" width="164" height="80.40" fill="#0a3580"/><rect x="1164.50" y="70.00" width="5.00" height="80.40" fill="#a50d0d"/><polyline points="1169.6,135.9 1173.9,134.8 1176.6,138.2 1180.9,137.1 1183.6,140.5 1187.9,139.3 1191.5,142.7 1194.5,138.8 1199.5,139.3 1202.5,135.4 1206.4,135.8 1211.5,136.1 1215.3,140.5 1217.6,136.3 1222.4,136.2 1224.6,132.0 1228.2,131.8 1233.0,132.0 1235.4,136.3 1239.1,136.4 1243.6,137.1 1246.2,133.4 1250.7,134.1 1253.3,130.3 1257.8,131.0 1260.4,127.3 1264.9,128.0 1268.3,124.2 1272.2,127.9 1277.3,126.9 1281.8,130.5 1284.8,127.2 1289.1,128.4 1292.0,125.0 1296.3,126.2 1299.3,122.8 1303.6,124.0 1306.5,120.6 1309.9,121.7 1314.9,121.9 1317.6,126.2 1321.6,126.3 1327.3,125.4" fill="none" stroke="url(#lg446)" stroke-width="3.30" stroke-linejoin="round"/><rect x="1164.50" y="70.00" width="164" height="80.40" fill="url(#dotsR2)" style="mix-blend-mode:exclusion"/></g><polygon points="1307.00,131.00 1313.80,143.20 1300.20,143.20" fill="#00e600" stroke="#000" stroke-width="1.3" stroke-linejoin="miter"/><g clip-path="url(#cr447)"><rect x="1334.00" y="70.00" width="164" height="80.40" fill="#0a3580"/><rect x="1334.00" y="70.00" width="5.00" height="80.40" fill="#a50d0d"/><polyline points="1340.1,103.4 1342.3,99.4 1346.8,99.4 1349.6,95.2 1353.2,97.7 1356.8,95.5 1360.4,98.0 1364.0,95.8 1367.6,98.3 1371.2,96.1 1374.8,98.6 1378.4,96.4 1382.6,98.7 1384.7,94.9 1389.1,95.1 1391.2,91.3 1395.6,91.5 1397.7,87.7 1400.8,87.9 1406.0,88.6 1409.4,93.4 1412.3,90.0 1416.6,91.1 1419.5,87.6 1423.9,88.7 1426.8,85.3 1431.1,86.4 1434.0,82.9 1437.3,83.9 1442.1,84.4 1444.0,88.8 1447.8,89.1 1452.0,90.4 1454.9,87.0 1459.2,88.3 1462.0,84.9 1466.3,86.2 1469.2,82.8 1472.4,83.9 1477.6,84.4 1480.0,88.8 1483.7,89.4 1487.4,87.9 1493.0,88.6 1496.7,92.3" fill="none" stroke="url(#lg448)" stroke-width="3.30" stroke-linejoin="round"/><rect x="1334.00" y="70.00" width="164" height="80.40" fill="url(#dotsR3)" style="mix-blend-mode:exclusion"/></g><polygon points="1476.50,131.00 1483.30,143.20 1469.70,143.20" fill="#00e600" stroke="#000" stroke-width="1.3" stroke-linejoin="miter"/><g clip-path="url(#cr449)"><rect x="825.50" y="155.20" width="164" height="80.40" fill="#0a3580"/><rect x="825.50" y="155.20" width="5.00" height="80.40" fill="#a50d0d"/><polyline points="831.6,198.4 835.1,195.7 838.3,197.6 842.9,197.6 845.0,201.6 848.8,201.4 853.1,202.9 856.5,199.8 860.9,201.3 864.0,198.2 868.6,198.7 871.1,194.8 875.7,195.3 878.2,191.5 882.8,191.9 885.3,188.1 889.9,188.6 893.6,184.8 896.2,189.8 901.0,190.6 904.9,193.0 908.8,190.6 912.6,193.0 916.5,190.6 920.4,193.0 924.2,190.6 928.1,193.0 932.6,190.8 934.7,194.8 939.2,194.7 941.2,198.8 945.7,198.7 947.8,202.7 952.3,202.6 954.3,206.7 958.8,206.6 960.9,210.6 965.4,210.6 967.4,214.6 972.0,214.5 974.0,218.5 977.4,218.4 983.1,218.2 987.3,214.8" fill="none" stroke="url(#lg450)" stroke-width="3.30" stroke-linejoin="round"/><rect x="825.50" y="155.20" width="164" height="80.40" fill="url(#dotsR0)" style="mix-blend-mode:exclusion"/></g><polygon points="968.00,216.20 974.80,228.40 961.20,228.40" fill="#00e600" stroke="#000" stroke-width="1.3" stroke-linejoin="miter"/><text x="981.50" y="180.00" text-anchor="end" font-family="&quot;Liberation Sans&quot;, Arial, sans-serif" font-weight="bold" font-size="30" fill="#00e600">SF</text><g clip-path="url(#cr451)"><rect x="995.00" y="155.20" width="164" height="80.40" fill="#0a3580"/><rect x="995.00" y="155.20" width="5.00" height="80.40" fill="#a50d0d"/><polyline points="1001.2,215.9 1004.0,212.3 1008.4,213.2 1012.2,209.7 1015.0,214.1 1019.0,214.5 1023.7,214.1 1026.7,209.5 1029.7,212.8 1033.9,211.3 1036.7,214.5 1041.3,213.9 1043.9,217.7 1048.5,217.2 1051.1,221.0 1055.7,220.4 1058.3,224.2 1062.9,223.7 1065.5,227.5 1069.1,226.9 1073.4,227.4 1075.6,223.7 1079.9,224.2 1082.1,220.4 1086.5,220.9 1088.7,217.1 1093.0,217.6 1095.2,213.8 1099.6,214.3 1101.8,210.5 1106.1,211.0 1108.3,207.3 1111.5,207.7 1116.5,207.9 1119.2,212.2 1123.5,212.2 1127.4,214.4 1131.0,211.8 1134.9,213.9 1138.5,211.3 1142.4,213.5 1146.0,210.9 1149.9,213.0 1153.5,210.4 1157.3,211.4" fill="none" stroke="url(#lg452)" stroke-width="3.30" stroke-linejoin="round"/><rect x="995.00" y="155.20" width="164" height="80.40" fill="url(#dotsR1)" style="mix-blend-mode:exclusion"/></g><polygon points="1137.50,216.20 1144.30,228.40 1130.70,228.40" fill="#00e600" stroke="#000" stroke-width="1.3" stroke-linejoin="miter"/><g clip-path="url(#cr453)"><rect x="1164.50" y="155.20" width="164" height="80.40" fill="#0a3580"/><rect x="1164.50" y="155.20" width="5.00" height="80.40" fill="#a50d0d"/><polyline points="1171.1,187.5 1175.5,186.6 1178.3,190.3 1181.7,189.5 1186.5,189.2 1188.8,185.0 1192.7,184.9 1196.9,183.5 1199.8,186.8 1204.0,185.5 1207.0,188.7 1211.2,187.4 1214.1,190.7 1217.4,189.5 1222.2,189.2 1224.6,185.0 1228.8,184.9 1232.4,182.6 1236.0,185.1 1239.6,182.9 1243.2,185.4 1246.8,183.1 1249.9,185.5 1254.4,184.8 1257.0,188.6 1261.5,187.9 1264.1,191.6 1268.6,190.9 1271.2,194.7 1275.7,194.0 1279.3,197.7 1281.9,193.9 1286.5,194.5 1289.2,190.7 1293.8,191.2 1296.4,187.4 1301.0,188.0 1303.7,184.2 1307.2,184.7 1311.6,184.5 1313.7,188.3 1318.1,188.1 1320.2,191.9 1324.6,191.7 1327.3,194.5" fill="none" stroke="url(#lg454)" stroke-width="3.30" stroke-linejoin="round"/><rect x="1164.50" y="155.20" width="164" height="80.40" fill="url(#dotsR2)" style="mix-blend-mode:exclusion"/></g><polygon points="1307.00,216.20 1313.80,228.40 1300.20,228.40" fill="#00e600" stroke="#000" stroke-width="1.3" stroke-linejoin="miter"/><g clip-path="url(#cr455)"><rect x="1334.00" y="155.20" width="164" height="80.40" fill="#0a3580"/><rect x="1334.00" y="155.20" width="5.00" height="80.40" fill="#a50d0d"/><polyline points="1343.0,188.6 1346.5,182.3 1350.2,184.8 1353.9,182.4 1357.6,184.9 1361.4,182.6 1365.0,185.0 1368.8,182.7 1372.4,185.2 1376.2,182.9 1379.9,185.3 1383.0,183.2 1387.9,183.1 1390.4,178.9 1395.2,178.8 1397.7,174.6 1401.3,174.5 1406.2,175.0 1409.4,179.6 1412.2,176.2 1416.5,177.3 1419.4,173.9 1423.7,175.0 1426.6,171.5 1430.9,172.7 1433.7,169.2 1437.2,170.3 1442.3,169.8 1445.4,173.6 1450.0,174.2" fill="none" stroke="url(#lg456)" stroke-width="3.30" stroke-linejoin="round"/><g clip-path="url(#cp487)"><use href="#q457" fill="#fefec0"/><use href="#q458" fill="#fefeb2"/><use href="#q459" fill="#fefea2"/><use href="#q460" fill="#ffff94"/><use href="#q461" fill="#ffff84"/><use href="#q462" fill="#ffff76"/><use href="#q463" fill="#fffc0e"/><use href="#q464" fill="#fff70b"/><use href="#q465" fill="#fff109"/><use href="#q466" fill="#ffec06"/><use href="#q467" fill="#ffe604"/><use href="#q468" fill="#ffe101"/><use href="#q469" fill="#ffb100"/><use href="#q470" fill="#ffa000"/><use href="#q471" fill="#ff8f00"/><use href="#q472" fill="#ff7f00"/><use href="#q473" fill="#ff6e00"/><use href="#q474" fill="#ff5d00"/><use href="#q475" fill="#fd3900"/><use href="#q476" fill="#fa2e00"/><use href="#q477" fill="#f62400"/><use href="#q478" fill="#f31a00"/><use href="#q479" fill="#ef1000"/><use href="#q480" fill="#ec0500"/><use href="#q481" fill="#d90000"/><use href="#q482" fill="#ce0000"/><use href="#q483" fill="#c40000"/><use href="#q484" fill="#ba0000"/><use href="#q485" fill="#b00000"/><use href="#q486" fill="#a50000"/></g><rect x="1334.00" y="155.20" width="164" height="80.40" fill="url(#dotsR3)" style="mix-blend-mode:exclusion"/></g><polygon points="1477.50,215.80 1484.50,222.80 1477.50,229.80 1470.50,222.80" fill="#ff00ff"/><text x="1491.50" y="180.00" text-anchor="end" font-family="&quot;Liberation Sans&quot;, Arial, sans-serif" font-weight="bold" font-size="30" fill="#ff00ff">KS</text><g clip-path="url(#cr488)"><rect x="825.50" y="240.80" width="164" height="80.40" fill="#0a3580"/><rect x="825.50" y="240.80" width="5.00" height="80.40" fill="#a50d0d"/><polyline points="831.6,284.0 835.1,281.3 838.3,283.2 842.9,283.2 845.0,287.2 848.8,287.0 853.1,288.5 856.5,285.4 860.9,286.9 864.0,283.8 868.6,284.3 871.1,280.4 875.7,280.9 878.2,277.1 882.8,277.5 885.3,273.7 889.9,274.2 893.6,270.4 896.2,275.4 901.0,276.2 904.9,278.6 908.8,276.2 912.6,278.6 916.5,276.2 920.4,278.6 924.2,276.2 928.1,278.6 932.6,276.4 934.7,280.4 939.2,280.3 941.2,284.4 945.7,284.3 947.8,288.3 952.3,288.2 954.3,292.3 958.8,292.2 960.9,296.2 965.4,296.2 967.4,300.2 972.0,300.1 974.0,304.1 977.4,304.0 983.1,303.8 987.3,300.4" fill="none" stroke="url(#lg489)" stroke-width="3.30" stroke-linejoin="round"/><rect x="825.50" y="240.80" width="164" height="80.40" fill="url(#dotsR0)" style="mix-blend-mode:exclusion"/></g><polygon points="968.00,301.80 974.80,314.00 961.20,314.00" fill="#00e600" stroke="#000" stroke-width="1.3" stroke-linejoin="miter"/><g clip-path="url(#cr490)"><rect x="995.00" y="240.80" width="164" height="80.40" fill="#0a3580"/><rect x="995.00" y="240.80" width="5.00" height="80.40" fill="#a50d0d"/><polyline points="1001.2,301.5 1004.0,297.9 1008.4,298.8 1012.2,295.3 1015.0,299.7 1019.0,300.1 1023.7,299.7 1026.7,295.1 1029.7,298.4 1033.9,296.9 1036.7,300.1 1041.3,299.5 1043.9,303.3 1048.5,302.8 1051.1,306.6 1055.7,306.0 1058.3,309.8 1062.9,309.3 1065.5,313.1 1069.1,312.5 1073.4,313.0 1075.6,309.3 1079.9,309.8 1082.1,306.0 1086.5,306.5 1088.7,302.7 1093.0,303.2 1095.2,299.4 1099.6,299.9 1101.8,296.1 1106.1,296.6 1108.3,292.9 1111.5,293.3 1116.5,293.5 1119.2,297.8 1123.5,297.8 1127.4,300.0 1131.0,297.4 1134.9,299.5 1138.5,296.9 1142.4,299.1 1146.0,296.5 1149.9,298.6 1153.5,296.0 1157.3,297.0" fill="none" stroke="url(#lg491)" stroke-width="3.30" stroke-linejoin="round"/><rect x="995.00" y="240.80" width="164" height="80.40" fill="url(#dotsR1)" style="mix-blend-mode:exclusion"/></g><polygon points="1137.50,301.80 1144.30,314.00 1130.70,314.00" fill="#00e600" stroke="#000" stroke-width="1.3" stroke-linejoin="miter"/><g clip-path="url(#cr492)"><rect x="1164.50" y="240.80" width="164" height="80.40" fill="#0a3580"/><rect x="1164.50" y="240.80" width="5.00" height="80.40" fill="#a50d0d"/><polyline points="1172.0,273.0 1176.3,271.9 1179.0,275.3 1182.3,274.3 1186.6,274.4 1188.5,270.4 1191.7,270.6 1196.2,269.8 1198.7,273.5 1203.2,272.7 1206.5,276.5 1209.6,273.3 1213.8,274.8 1216.9,271.6 1221.0,273.2 1224.1,270.0 1228.3,271.5 1231.9,268.3 1235.6,271.3 1240.0,269.5 1243.8,272.5 1248.1,270.7 1251.9,273.6 1256.1,271.6 1259.9,274.5 1264.1,272.5 1268.0,274.2" fill="none" stroke="url(#lg493)" stroke-width="3.30" stroke-linejoin="round"/><g clip-path="url(#cp524)"><use href="#q494" fill="#fefec0"/><use href="#q495" fill="#fefeb2"/><use href="#q496" fill="#fefea2"/><use href="#q497" fill="#ffff94"/><use href="#q498" fill="#ffff84"/><use href="#q499" fill="#ffff76"/><use href="#q500" fill="#fffc0e"/><use href="#q501" fill="#fff70b"/><use href="#q502" fill="#fff109"/><use href="#q503" fill="#ffec06"/><use href="#q504" fill="#ffe604"/><use href="#q505" fill="#ffe101"/><use href="#q506" fill="#ffb100"/><use href="#q507" fill="#ffa000"/><use href="#q508" fill="#ff8f00"/><use href="#q509" fill="#ff7f00"/><use href="#q510" fill="#ff6e00"/><use href="#q511" fill="#ff5d00"/><use href="#q512" fill="#fd3900"/><use href="#q513" fill="#fa2e00"/><use href="#q514" fill="#f62400"/><use href="#q515" fill="#f31a00"/><use href="#q516" fill="#ef1000"/><use href="#q517" fill="#ec0500"/><use href="#q518" fill="#d90000"/><use href="#q519" fill="#ce0000"/><use href="#q520" fill="#c40000"/><use href="#q521" fill="#ba0000"/><use href="#q522" fill="#b00000"/><use href="#q523" fill="#a50000"/></g><rect x="1164.50" y="240.80" width="164" height="80.40" fill="url(#dotsR2)" style="mix-blend-mode:exclusion"/></g><polygon points="1308.00,301.40 1315.00,308.40 1308.00,315.40 1301.00,308.40" fill="#ff00ff"/><g clip-path="url(#cr525)"><rect x="1334.00" y="240.80" width="164" height="80.40" fill="#0a3580"/><rect x="1334.00" y="240.80" width="5.00" height="80.40" fill="#a50d0d"/><polyline points="1342.5,273.1 1347.2,269.5 1353.1,270.6 1356.1,266.9 1360.9,267.5 1364.6,263.7 1367.5,266.9 1371.6,265.5 1374.5,268.7 1377.9,267.3 1383.4,267.8 1387.4,263.7 1391.4,265.5 1394.6,262.6 1398.6,264.4 1402.0,262.6" fill="none" stroke="url(#lg526)" stroke-width="3.30" stroke-linejoin="round"/><g clip-path="url(#cp557)"><use href="#q527" fill="#fefec0"/><use href="#q528" fill="#fefeb2"/><use href="#q529" fill="#fefea2"/><use href="#q530" fill="#ffff94"/><use href="#q531" fill="#ffff84"/><use href="#q532" fill="#ffff76"/><use href="#q533" fill="#fffc0e"/><use href="#q534" fill="#fff70b"/><use href="#q535" fill="#fff109"/><use href="#q536" fill="#ffec06"/><use href="#q537" fill="#ffe604"/><use href="#q538" fill="#ffe101"/><use href="#q539" fill="#ffb100"/><use href="#q540" fill="#ffa000"/><use href="#q541" fill="#ff8f00"/><use href="#q542" fill="#ff7f00"/><use href="#q543" fill="#ff6e00"/><use href="#q544" fill="#ff5d00"/><use href="#q545" fill="#fd3900"/><use href="#q546" fill="#fa2e00"/><use href="#q547" fill="#f62400"/><use href="#q548" fill="#f31a00"/><use href="#q549" fill="#ef1000"/><use href="#q550" fill="#ec0500"/><use href="#q551" fill="#d90000"/><use href="#q552" fill="#ce0000"/><use href="#q553" fill="#c40000"/><use href="#q554" fill="#ba0000"/><use href="#q555" fill="#b00000"/><use href="#q556" fill="#a50000"/></g><rect x="1334.00" y="240.80" width="164" height="80.40" fill="url(#dotsR3)" style="mix-blend-mode:exclusion"/></g><polygon points="1477.50,301.40 1484.50,308.40 1477.50,315.40 1470.50,308.40" fill="#ff00ff"/><g clip-path="url(#cr558)"><rect x="825.50" y="326.80" width="164" height="80.40" fill="#0a3580"/><g clip-path="url(#cp560)"><rect x="823.5" y="324.8" width="168.0" height="84.4" fill="url(#lg559)"/></g><rect x="825.50" y="326.80" width="5.00" height="80.40" fill="#a50d0d"/><rect x="825.50" y="326.80" width="164" height="80.40" fill="url(#dotsR0)" style="mix-blend-mode:exclusion"/></g><rect x="963.20" y="389.60" width="9.6" height="9.6" fill="#00ffff" stroke="#000" stroke-width="1.3"/><g clip-path="url(#cr561)"><rect x="995.00" y="326.80" width="164" height="80.40" fill="#0a3580"/><rect x="995.00" y="326.80" width="5.00" height="80.40" fill="#a50d0d"/><g clip-path="url(#cp592)"><use href="#q562" fill="#fefec0"/><use href="#q563" fill="#fefeb2"/><use href="#q564" fill="#fefea2"/><use href="#q565" fill="#ffff94"/><use href="#q566" fill="#ffff84"/><use href="#q567" fill="#ffff76"/><use href="#q568" fill="#fffc0e"/><use href="#q569" fill="#fff70b"/><use href="#q570" fill="#fff109"/><use href="#q571" fill="#ffec06"/><use href="#q572" fill="#ffe604"/><use href="#q573" fill="#ffe101"/><use href="#q574" fill="#ffb100"/><use href="#q575" fill="#ffa000"/><use href="#q576" fill="#ff8f00"/><use href="#q577" fill="#ff7f00"/><use href="#q578" fill="#ff6e00"/><use href="#q579" fill="#ff5d00"/><use href="#q580" fill="#fd3900"/><use href="#q581" fill="#fa2e00"/><use href="#q582" fill="#f62400"/><use href="#q583" fill="#f31a00"/><use href="#q584" fill="#ef1000"/><use href="#q585" fill="#ec0500"/><use href="#q586" fill="#d90000"/><use href="#q587" fill="#ce0000"/><use href="#q588" fill="#c40000"/><use href="#q589" fill="#ba0000"/><use href="#q590" fill="#b00000"/><use href="#q591" fill="#a50000"/></g><rect x="995.00" y="326.80" width="164" height="80.40" fill="url(#dotsR1)" style="mix-blend-mode:exclusion"/></g><polygon points="1138.50,387.40 1145.50,394.40 1138.50,401.40 1131.50,394.40" fill="#ff00ff"/><g clip-path="url(#cr593)"><rect x="1164.50" y="326.80" width="164" height="80.40" fill="#0a3580"/><rect x="1164.50" y="326.80" width="5.00" height="80.40" fill="#a50d0d"/><polyline points="1170.3,358.2 1173.7,354.8 1178.3,356.2 1182.5,352.9 1185.5,357.1 1189.6,356.9 1194.4,357.8 1197.6,354.2 1202.0,354.0" fill="none" stroke="url(#lg594)" stroke-width="3.30" stroke-linejoin="round"/><g clip-path="url(#cp625)"><use href="#q595" fill="#fefec0"/><use href="#q596" fill="#fefeb2"/><use href="#q597" fill="#fefea2"/><use href="#q598" fill="#ffff94"/><use href="#q599" fill="#ffff84"/><use href="#q600" fill="#ffff76"/><use href="#q601" fill="#fffc0e"/><use href="#q602" fill="#fff70b"/><use href="#q603" fill="#fff109"/><use href="#q604" fill="#ffec06"/><use href="#q605" fill="#ffe604"/><use href="#q606" fill="#ffe101"/><use href="#q607" fill="#ffb100"/><use href="#q608" fill="#ffa000"/><use href="#q609" fill="#ff8f00"/><use href="#q610" fill="#ff7f00"/><use href="#q611" fill="#ff6e00"/><use href="#q612" fill="#ff5d00"/><use href="#q613" fill="#fd3900"/><use href="#q614" fill="#fa2e00"/><use href="#q615" fill="#f62400"/><use href="#q616" fill="#f31a00"/><use href="#q617" fill="#ef1000"/><use href="#q618" fill="#ec0500"/><use href="#q619" fill="#d90000"/><use href="#q620" fill="#ce0000"/><use href="#q621" fill="#c40000"/><use href="#q622" fill="#ba0000"/><use href="#q623" fill="#b00000"/><use href="#q624" fill="#a50000"/></g><rect x="1164.50" y="326.80" width="164" height="80.40" fill="url(#dotsR2)" style="mix-blend-mode:exclusion"/></g><polygon points="1308.00,387.40 1315.00,394.40 1308.00,401.40 1301.00,394.40" fill="#ff00ff"/><g clip-path="url(#cr626)"><rect x="1334.00" y="326.80" width="164" height="80.40" fill="#0a3580"/><rect x="1334.00" y="326.80" width="5.00" height="80.40" fill="#a50d0d"/><polyline points="1339.1,358.2 1343.4,355.3 1348.0,356.0" fill="none" stroke="url(#lg627)" stroke-width="3.30" stroke-linejoin="round"/><g clip-path="url(#cp658)"><use href="#q628" fill="#fefec0"/><use href="#q629" fill="#fefeb2"/><use href="#q630" fill="#fefea2"/><use href="#q631" fill="#ffff94"/><use href="#q632" fill="#ffff84"/><use href="#q633" fill="#ffff76"/><use href="#q634" fill="#fffc0e"/><use href="#q635" fill="#fff70b"/><use href="#q636" fill="#fff109"/><use href="#q637" fill="#ffec06"/><use href="#q638" fill="#ffe604"/><use href="#q639" fill="#ffe101"/><use href="#q640" fill="#ffb100"/><use href="#q641" fill="#ffa000"/><use href="#q642" fill="#ff8f00"/><use href="#q643" fill="#ff7f00"/><use href="#q644" fill="#ff6e00"/><use href="#q645" fill="#ff5d00"/><use href="#q646" fill="#fd3900"/><use href="#q647" fill="#fa2e00"/><use href="#q648" fill="#f62400"/><use href="#q649" fill="#f31a00"/><use href="#q650" fill="#ef1000"/><use href="#q651" fill="#ec0500"/><use href="#q652" fill="#d90000"/><use href="#q653" fill="#ce0000"/><use href="#q654" fill="#c40000"/><use href="#q655" fill="#ba0000"/><use href="#q656" fill="#b00000"/><use href="#q657" fill="#a50000"/></g><rect x="1334.00" y="326.80" width="164" height="80.40" fill="url(#dotsR3)" style="mix-blend-mode:exclusion"/></g><polygon points="1477.50,387.40 1484.50,394.40 1477.50,401.40 1470.50,394.40" fill="#ff00ff"/><g clip-path="url(#cr659)"><rect x="825.50" y="413.30" width="164" height="80.40" fill="#0a3580"/><g clip-path="url(#cp661)"><rect x="823.5" y="411.3" width="168.0" height="84.4" fill="url(#lg660)"/></g><rect x="825.50" y="413.30" width="164" height="80.40" fill="url(#dotsR0)" style="mix-blend-mode:exclusion"/></g><circle cx="968.00" cy="480.90" r="7" fill="#ff0000"/><text x="981.50" y="438.10" text-anchor="end" font-family="&quot;Liberation Sans&quot;, Arial, sans-serif" font-weight="bold" font-size="30" fill="#ff0000">CP</text><g clip-path="url(#cr662)"><rect x="995.00" y="413.30" width="164" height="80.40" fill="#0a3580"/><g clip-path="url(#cp664)"><rect x="993.0" y="411.3" width="168.0" height="84.4" fill="url(#lg663)"/></g><rect x="995.00" y="413.30" width="164" height="80.40" fill="url(#dotsR1)" style="mix-blend-mode:exclusion"/></g><circle cx="1137.50" cy="480.90" r="7" fill="#ff0000"/><g clip-path="url(#cr665)"><rect x="825.50" y="498.60" width="164" height="80.40" fill="#0a3580"/><g clip-path="url(#cp667)"><rect x="823.5" y="496.6" width="168.0" height="84.4" fill="url(#lg666)"/></g><rect x="825.50" y="498.60" width="164" height="80.40" fill="url(#dotsR0)" style="mix-blend-mode:exclusion"/></g><circle cx="968.00" cy="566.20" r="7" fill="#ff0000"/><g clip-path="url(#cr668)"><rect x="995.00" y="498.60" width="164" height="80.40" fill="#0a3580"/><g clip-path="url(#cp670)"><rect x="993.0" y="496.6" width="168.0" height="84.4" fill="url(#lg669)"/></g><rect x="995.00" y="498.60" width="164" height="80.40" fill="url(#dotsR1)" style="mix-blend-mode:exclusion"/></g><rect x="1132.70" y="561.40" width="9.6" height="9.6" fill="#00ffff" stroke="#000" stroke-width="1.3"/><g clip-path="url(#cr671)"><rect x="1164.50" y="413.30" width="164" height="80.40" fill="#0a3580"/><g clip-path="url(#cp673)"><rect x="1162.5" y="411.3" width="168.0" height="84.4" fill="url(#lg672)"/></g><rect x="1164.50" y="413.30" width="164" height="80.40" fill="url(#dotsR2)" style="mix-blend-mode:exclusion"/></g><rect x="1302.20" y="476.10" width="9.6" height="9.6" fill="#00ffff" stroke="#000" stroke-width="1.3"/><g clip-path="url(#cr674)"><rect x="1334.00" y="413.30" width="164" height="80.40" fill="#0a3580"/><g clip-path="url(#cp710)"><use href="#q675" fill="#fefec2"/><use href="#q676" fill="#fefeb5"/><use href="#q677" fill="#fefea8"/><use href="#q678" fill="#fefe9b"/><use href="#q679" fill="#ffff8e"/><use href="#q680" fill="#ffff81"/><use href="#q681" fill="#ffff74"/><use href="#q682" fill="#fffd0e"/><use href="#q683" fill="#fff80c"/><use href="#q684" fill="#fff30a"/><use href="#q685" fill="#ffee08"/><use href="#q686" fill="#ffea05"/><use href="#q687" fill="#ffe503"/><use href="#q688" fill="#ffe001"/><use href="#q689" fill="#ffb200"/><use href="#q690" fill="#ffa400"/><use href="#q691" fill="#ff9500"/><use href="#q692" fill="#ff8700"/><use href="#q693" fill="#ff7900"/><use href="#q694" fill="#ff6a00"/><use href="#q695" fill="#ff5c00"/><use href="#q696" fill="#fe3a00"/><use href="#q697" fill="#fa3100"/><use href="#q698" fill="#f82800"/><use href="#q699" fill="#f41f00"/><use href="#q700" fill="#f21600"/><use href="#q701" fill="#ee0d00"/><use href="#q702" fill="#ec0400"/><use href="#q703" fill="#da0000"/><use href="#q704" fill="#d10000"/><use href="#q705" fill="#c80000"/><use href="#q706" fill="#bf0000"/><use href="#q707" fill="#b60000"/><use href="#q708" fill="#ad0000"/><use href="#q709" fill="#a40000"/></g><rect x="1334.00" y="413.30" width="164" height="80.40" fill="url(#dotsR3)" style="mix-blend-mode:exclusion"/></g><rect x="1471.70" y="476.10" width="9.6" height="9.6" fill="#00ffff" stroke="#000" stroke-width="1.3"/><text x="1490.00" y="438.10" text-anchor="end" font-family="&quot;Liberation Sans&quot;, Arial, sans-serif" font-weight="bold" font-size="30" fill="#00ffff">TS</text><g clip-path="url(#cr711)"><rect x="1164.50" y="498.60" width="164" height="80.40" fill="#0a3580"/><g clip-path="url(#cp747)"><use href="#q712" fill="#fefec2"/><use href="#q713" fill="#fefeb5"/><use href="#q714" fill="#fefea8"/><use href="#q715" fill="#fefe9b"/><use href="#q716" fill="#ffff8e"/><use href="#q717" fill="#ffff81"/><use href="#q718" fill="#ffff74"/><use href="#q719" fill="#fffd0e"/><use href="#q720" fill="#fff80c"/><use href="#q721" fill="#fff30a"/><use href="#q722" fill="#ffee08"/><use href="#q723" fill="#ffea05"/><use href="#q724" fill="#ffe503"/><use href="#q725" fill="#ffe001"/><use href="#q726" fill="#ffb200"/><use href="#q727" fill="#ffa400"/><use href="#q728" fill="#ff9500"/><use href="#q729" fill="#ff8700"/><use href="#q730" fill="#ff7900"/><use href="#q731" fill="#ff6a00"/><use href="#q732" fill="#ff5c00"/><use href="#q733" fill="#fe3a00"/><use href="#q734" fill="#fa3100"/><use href="#q735" fill="#f82800"/><use href="#q736" fill="#f41f00"/><use href="#q737" fill="#f21600"/><use href="#q738" fill="#ee0d00"/><use href="#q739" fill="#ec0400"/><use href="#q740" fill="#da0000"/><use href="#q741" fill="#d10000"/><use href="#q742" fill="#c80000"/><use href="#q743" fill="#bf0000"/><use href="#q744" fill="#b60000"/><use href="#q745" fill="#ad0000"/><use href="#q746" fill="#a40000"/></g><rect x="1164.50" y="498.60" width="164" height="80.40" fill="url(#dotsR2)" style="mix-blend-mode:exclusion"/></g><rect x="1302.20" y="561.40" width="9.6" height="9.6" fill="#00ffff" stroke="#000" stroke-width="1.3"/><g clip-path="url(#cr748)"><rect x="1334.00" y="498.60" width="164" height="80.40" fill="#0a3580"/><g clip-path="url(#cp784)"><use href="#q749" fill="#fefec2"/><use href="#q750" fill="#fefeb5"/><use href="#q751" fill="#fefea8"/><use href="#q752" fill="#fefe9b"/><use href="#q753" fill="#ffff8e"/><use href="#q754" fill="#ffff81"/><use href="#q755" fill="#ffff74"/><use href="#q756" fill="#fffd0e"/><use href="#q757" fill="#fff80c"/><use href="#q758" fill="#fff30a"/><use href="#q759" fill="#ffee08"/><use href="#q760" fill="#ffea05"/><use href="#q761" fill="#ffe503"/><use href="#q762" fill="#ffe001"/><use href="#q763" fill="#ffb200"/><use href="#q764" fill="#ffa400"/><use href="#q765" fill="#ff9500"/><use href="#q766" fill="#ff8700"/><use href="#q767" fill="#ff7900"/><use href="#q768" fill="#ff6a00"/><use href="#q769" fill="#ff5c00"/><use href="#q770" fill="#fe3a00"/><use href="#q771" fill="#fa3100"/><use href="#q772" fill="#f82800"/><use href="#q773" fill="#f41f00"/><use href="#q774" fill="#f21600"/><use href="#q775" fill="#ee0d00"/><use href="#q776" fill="#ec0400"/><use href="#q777" fill="#da0000"/><use href="#q778" fill="#d10000"/><use href="#q779" fill="#c80000"/><use href="#q780" fill="#bf0000"/><use href="#q781" fill="#b60000"/><use href="#q782" fill="#ad0000"/><use href="#q783" fill="#a40000"/></g><rect x="1334.00" y="498.60" width="164" height="80.40" fill="url(#dotsR3)" style="mix-blend-mode:exclusion"/></g><rect x="1471.70" y="561.40" width="9.6" height="9.6" fill="#00ffff" stroke="#000" stroke-width="1.3"/><path d="M128,68 H804.5 V323.2 H635 V409.2 H128 Z" fill="none" stroke="#ff0000" stroke-width="4.0" stroke-linejoin="miter"/><path d="M823.5,411.3 H1161 V495.7 H991.5 V581 H823.5 Z" fill="none" stroke="#ff0000" stroke-width="4.0" stroke-linejoin="miter"/><path d="M823.5,68 H1500 V152.4 H1330.5 V237.6 H1161 V323.2 H823.5 Z" fill="none" stroke="#00ff00" stroke-width="4.0" stroke-linejoin="miter"/><path d="M1332,153.2 H1500 V409.2 H993 V324.8 H1162.5 V238.8 H1332 Z" fill="none" stroke="#ff00ff" stroke-width="4.0" stroke-linejoin="miter"/><path d="M636.5,324.8 H804.5 V581 H128 V411.3 H636.5 Z" fill="none" stroke="#00ffff" stroke-width="4.0" stroke-linejoin="miter"/><path d="M823.5,324.8 H991.5 V409.2 H823.5 Z" fill="none" stroke="#00ffff" stroke-width="4.0" stroke-linejoin="miter"/><path d="M1162.5,411.3 H1500 V581 H993 V496.6 H1162.5 Z" fill="none" stroke="#00ffff" stroke-width="4.0" stroke-linejoin="miter"/><line x1="813.2" y1="60" x2="813.2" y2="608" stroke="#000" stroke-width="2" stroke-dasharray="6.8,8.2"/><line x1="42.2" y1="579.2" x2="42.2" y2="90" stroke="#000" stroke-width="2"/><polygon points="42.2,66 51.7,98.2 42.2,90 32.5,98.2" fill="#000"/><line x1="129" y1="625.6" x2="1478" y2="625.6" stroke="#000" stroke-width="2"/><polygon points="1502,625.6 1469.6,634.7 1477.7,625.6 1469.6,616.5" fill="#000"/><line x1="1334" y1="34.3" x2="1478" y2="34.3" stroke="#000" stroke-width="2"/><polygon points="1498.2,34.3 1470.3,42.5 1477,34.3 1470.3,25.9" fill="#000"/><rect x="1334" y="46.3" width="164" height="7.9" fill="url(#lg833)"/><text x="1333.2" y="24.5" font-family="&quot;Liberation Sans&quot;, Arial, sans-serif" font-size="29" fill="#000">Time</text><text x="466" y="41.6" text-anchor="middle" font-family="&quot;Liberation Sans&quot;, Arial, sans-serif" font-size="28.8" fill="#000">Negative gradient</text><text x="1161.4" y="41.6" text-anchor="middle" font-family="&quot;Liberation Sans&quot;, Arial, sans-serif" font-size="28.8" fill="#000">Positive gradient</text><text x="88.5" y="120.7" text-anchor="middle" font-family="&quot;Liberation Sans&quot;, Arial, sans-serif" font-size="29.5" fill="#000">120</text><text x="88.5" y="205.9" text-anchor="middle" font-family="&quot;Liberation Sans&quot;, Arial, sans-serif" font-size="29.5" fill="#000">90</text><text x="88.5" y="291.5" text-anchor="middle" font-family="&quot;Liberation Sans&quot;, Arial, sans-serif" font-size="29.5" fill="#000">80</text><text x="88.5" y="377.5" text-anchor="middle" font-family="&quot;Liberation Sans&quot;, Arial, sans-serif" font-size="29.5" fill="#000">70</text><text x="88.5" y="464.0" text-anchor="middle" font-family="&quot;Liberation Sans&quot;, Arial, sans-serif" font-size="29.5" fill="#000">60</text><text x="88.5" y="549.3" text-anchor="middle" font-family="&quot;Liberation Sans&quot;, Arial, sans-serif" font-size="29.5" fill="#000">50</text><text transform="translate(24.2,323.8) rotate(-90)" text-anchor="middle" font-family="&quot;Liberation Sans&quot;, Arial, sans-serif" font-size="28.8" fill="#000"><tspan font-style="italic">θ</tspan> (deg)</text><text x="212.0" y="617.2" text-anchor="middle" font-family="&quot;Liberation Sans&quot;, Arial, sans-serif" font-size="29.5" fill="#000">-15.0</text><text x="381.5" y="617.2" text-anchor="middle" font-family="&quot;Liberation Sans&quot;, Arial, sans-serif" font-size="29.5" fill="#000">-10.0</text><text x="551.0" y="617.2" text-anchor="middle" font-family="&quot;Liberation Sans&quot;, Arial, sans-serif" font-size="29.5" fill="#000">-5.0</text><text x="720.5" y="617.2" text-anchor="middle" font-family="&quot;Liberation Sans&quot;, Arial, sans-serif" font-size="29.5" fill="#000">-0.5</text><text x="907.5" y="617.2" text-anchor="middle" font-family="&quot;Liberation Sans&quot;, Arial, sans-serif" font-size="29.5" fill="#000">0.5</text><text x="1077.0" y="617.2" text-anchor="middle" font-family="&quot;Liberation Sans&quot;, Arial, sans-serif" font-size="29.5" fill="#000">5.0</text><text x="1246.5" y="617.2" text-anchor="middle" font-family="&quot;Liberation Sans&quot;, Arial, sans-serif" font-size="29.5" fill="#000">10.0</text><text x="1416.0" y="617.2" text-anchor="middle" font-family="&quot;Liberation Sans&quot;, Arial, sans-serif" font-size="29.5" fill="#000">15.0</text><text x="814.5" y="657.5" text-anchor="middle" font-family="&quot;Liberation Sans&quot;, Arial, sans-serif" font-size="29.4" fill="#000"><tspan font-style="italic">λ</tspan>×10<tspan font-size="19" dy="-11">-3</tspan><tspan dy="11"> (-)</tspan></text></svg>
</body></html>
